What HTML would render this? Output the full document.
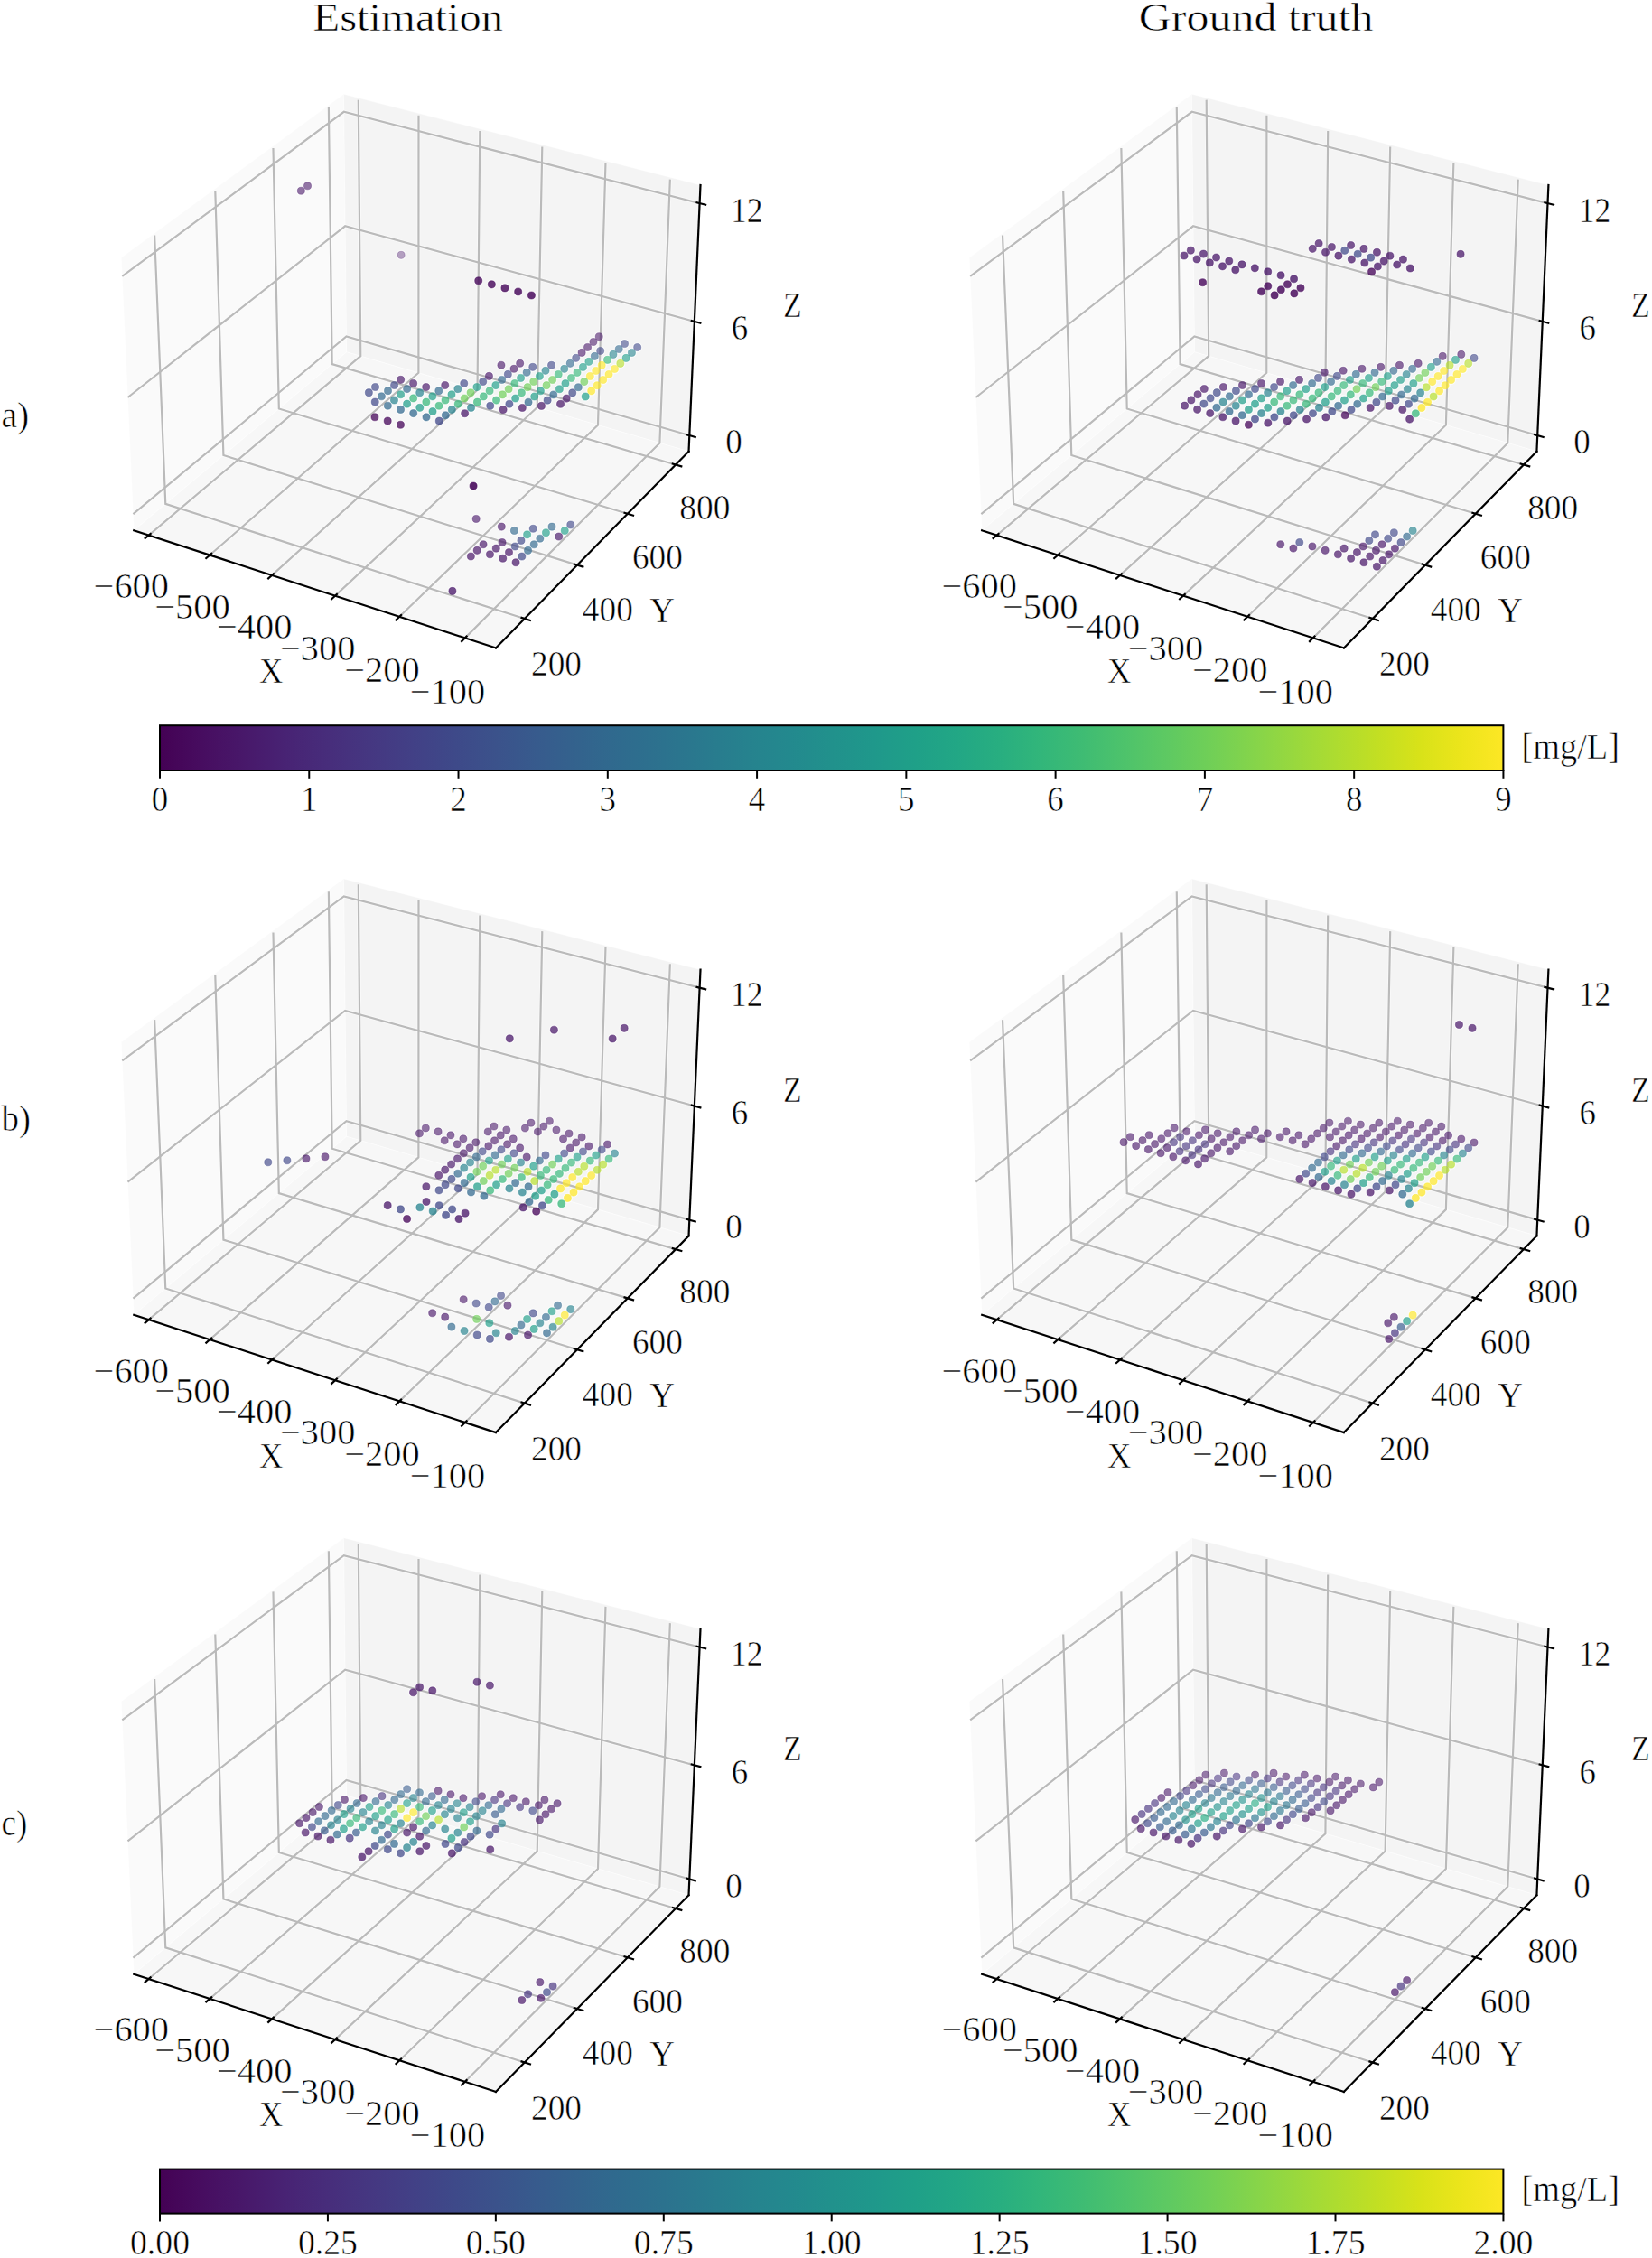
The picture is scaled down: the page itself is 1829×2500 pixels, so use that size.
<!DOCTYPE html>
<html lang="en"><head><meta charset="utf-8"><title>Estimation vs Ground truth</title><style>html,body{margin:0;padding:0;background:#fff}svg{display:block}</style></head><body>
<svg width="1829" height="2500" viewBox="0 0 1829 2500" font-family='"Liberation Serif", "DejaVu Serif", serif' fill="#000">
<defs><linearGradient id="vir" x1="0" x2="1" y1="0" y2="0"><stop offset="0.0000" stop-color="#440154"/><stop offset="0.0312" stop-color="#470d60"/><stop offset="0.0625" stop-color="#48186a"/><stop offset="0.0938" stop-color="#482374"/><stop offset="0.1250" stop-color="#472d7b"/><stop offset="0.1562" stop-color="#453781"/><stop offset="0.1875" stop-color="#424086"/><stop offset="0.2188" stop-color="#3e4989"/><stop offset="0.2500" stop-color="#3b528b"/><stop offset="0.2812" stop-color="#375b8d"/><stop offset="0.3125" stop-color="#33638d"/><stop offset="0.3438" stop-color="#2f6b8e"/><stop offset="0.3750" stop-color="#2c728e"/><stop offset="0.4062" stop-color="#297a8e"/><stop offset="0.4375" stop-color="#26828e"/><stop offset="0.4688" stop-color="#23898e"/><stop offset="0.5000" stop-color="#21918c"/><stop offset="0.5312" stop-color="#1f988b"/><stop offset="0.5625" stop-color="#1fa088"/><stop offset="0.5938" stop-color="#22a785"/><stop offset="0.6250" stop-color="#28ae80"/><stop offset="0.6562" stop-color="#32b67a"/><stop offset="0.6875" stop-color="#3fbc73"/><stop offset="0.7188" stop-color="#4ec36b"/><stop offset="0.7500" stop-color="#5ec962"/><stop offset="0.7812" stop-color="#70cf57"/><stop offset="0.8125" stop-color="#84d44b"/><stop offset="0.8438" stop-color="#98d83e"/><stop offset="0.8750" stop-color="#addc30"/><stop offset="0.9062" stop-color="#c2df23"/><stop offset="0.9375" stop-color="#d8e219"/><stop offset="0.9688" stop-color="#ece51b"/><stop offset="1.0000" stop-color="#fde725"/></linearGradient></defs>
<rect width="1829" height="2500" fill="#fff"/>
<text x="451.8" y="34" font-size="43.5" text-anchor="middle" textLength="210.6" lengthAdjust="spacingAndGlyphs" stroke="#fff" stroke-width="0.55" >Estimation</text>
<text x="1390.6" y="34" font-size="43.5" text-anchor="middle" textLength="259.8" lengthAdjust="spacingAndGlyphs" stroke="#fff" stroke-width="0.55" >Ground truth</text>
<text x="1.5" y="473.3" font-size="39.9" text-anchor="start" textLength="30.8" lengthAdjust="spacingAndGlyphs" stroke="#fff" stroke-width="0.55" >a)</text>
<text x="1.5" y="1252.4" font-size="39.9" text-anchor="start" textLength="32.5" lengthAdjust="spacingAndGlyphs" stroke="#fff" stroke-width="0.55" >b)</text>
<text x="1.5" y="2031.5" font-size="39.9" text-anchor="start" textLength="28.8" lengthAdjust="spacingAndGlyphs" stroke="#fff" stroke-width="0.55" >c)</text>
<g>
<polygon points="148.28,587.23 383.69,389.68 380.53,104.32 134.34,285.23" fill="#fafafa" stroke="#fff" stroke-opacity="0.4" stroke-width="1.1" stroke-linejoin="round"/>
<polygon points="383.69,389.68 762.53,499.76 775.5,204.97 380.53,104.32" fill="#f4f4f4" stroke="#fff" stroke-opacity="0.4" stroke-width="1.1" stroke-linejoin="round"/>
<polygon points="148.28,587.23 548.95,717.46 762.53,499.76 383.69,389.68" fill="#f7f7f7" stroke="#fff" stroke-opacity="0.4" stroke-width="1.1" stroke-linejoin="round"/>
<g fill="#fff" fill-opacity="0.6"><circle cx="408.36" cy="434.67" r="5.6"/><circle cx="415.5" cy="428.51" r="5.6"/><circle cx="415.24" cy="445.03" r="5.6"/><circle cx="422.4" cy="438.82" r="5.6"/><circle cx="429.51" cy="432.63" r="5.6"/><circle cx="436.59" cy="426.48" r="5.6"/><circle cx="443.63" cy="420.36" r="5.6"/><circle cx="429.35" cy="449.21" r="5.6"/><circle cx="436.48" cy="442.97" r="5.6"/><circle cx="443.57" cy="436.77" r="5.6"/><circle cx="450.62" cy="430.6" r="5.6"/><circle cx="457.64" cy="424.45" r="5.6"/><circle cx="443.51" cy="453.41" r="5.6"/><circle cx="450.61" cy="447.15" r="5.6"/><circle cx="457.68" cy="440.92" r="5.6"/><circle cx="464.71" cy="434.73" r="5.6"/><circle cx="471.7" cy="428.56" r="5.6"/><circle cx="457.72" cy="457.62" r="5.6"/><circle cx="464.79" cy="451.34" r="5.6"/><circle cx="471.84" cy="445.09" r="5.6"/><circle cx="478.84" cy="438.87" r="5.6"/><circle cx="485.81" cy="432.69" r="5.6"/><circle cx="492.74" cy="426.53" r="5.6"/><circle cx="471.98" cy="461.85" r="5.6"/><circle cx="479.03" cy="455.54" r="5.6"/><circle cx="486.04" cy="449.27" r="5.6"/><circle cx="493.02" cy="443.03" r="5.6"/><circle cx="499.96" cy="436.82" r="5.6"/><circle cx="506.87" cy="430.65" r="5.6"/><circle cx="513.74" cy="424.51" r="5.6"/><circle cx="486.28" cy="466.09" r="5.6"/><circle cx="493.31" cy="459.76" r="5.6"/><circle cx="500.3" cy="453.46" r="5.6"/><circle cx="507.25" cy="447.2" r="5.6"/><circle cx="514.17" cy="440.98" r="5.6"/><circle cx="521.05" cy="434.78" r="5.6"/><circle cx="527.9" cy="428.62" r="5.6"/><circle cx="534.7" cy="422.49" r="5.6"/><circle cx="541.48" cy="416.39" r="5.6"/><circle cx="554.92" cy="404.28" r="5.6"/><circle cx="514.61" cy="457.68" r="5.6"/><circle cx="521.54" cy="451.39" r="5.6"/><circle cx="528.43" cy="445.14" r="5.6"/><circle cx="535.28" cy="438.92" r="5.6"/><circle cx="542.1" cy="432.74" r="5.6"/><circle cx="548.89" cy="426.59" r="5.6"/><circle cx="555.63" cy="420.47" r="5.6"/><circle cx="562.35" cy="414.38" r="5.6"/><circle cx="569.03" cy="408.32" r="5.6"/><circle cx="575.67" cy="402.3" r="5.6"/><circle cx="414.98" cy="461.79" r="5.6"/><circle cx="429.19" cy="466.03" r="5.6"/><circle cx="443.45" cy="470.29" r="5.6"/><circle cx="542.74" cy="449.32" r="5.6"/><circle cx="549.57" cy="443.08" r="5.6"/><circle cx="556.36" cy="436.88" r="5.6"/><circle cx="563.12" cy="430.7" r="5.6"/><circle cx="569.84" cy="424.56" r="5.6"/><circle cx="576.53" cy="418.45" r="5.6"/><circle cx="583.18" cy="412.37" r="5.6"/><circle cx="589.8" cy="406.33" r="5.6"/><circle cx="557.09" cy="453.52" r="5.6"/><circle cx="563.9" cy="447.26" r="5.6"/><circle cx="570.67" cy="441.03" r="5.6"/><circle cx="577.4" cy="434.83" r="5.6"/><circle cx="584.1" cy="428.67" r="5.6"/><circle cx="590.76" cy="422.54" r="5.6"/><circle cx="597.39" cy="416.44" r="5.6"/><circle cx="603.98" cy="410.37" r="5.6"/><circle cx="610.54" cy="404.34" r="5.6"/><circle cx="578.28" cy="451.45" r="5.6"/><circle cx="585.02" cy="445.2" r="5.6"/><circle cx="591.73" cy="438.98" r="5.6"/><circle cx="598.4" cy="432.79" r="5.6"/><circle cx="605.04" cy="426.64" r="5.6"/><circle cx="611.64" cy="420.52" r="5.6"/><circle cx="618.21" cy="414.43" r="5.6"/><circle cx="624.74" cy="408.37" r="5.6"/><circle cx="631.24" cy="402.35" r="5.6"/><circle cx="637.71" cy="396.35" r="5.6"/><circle cx="644.14" cy="390.39" r="5.6"/><circle cx="650.54" cy="384.46" r="5.6"/><circle cx="656.91" cy="378.55" r="5.6"/><circle cx="663.24" cy="372.68" r="5.6"/><circle cx="599.43" cy="449.38" r="5.6"/><circle cx="606.11" cy="443.14" r="5.6"/><circle cx="612.76" cy="436.93" r="5.6"/><circle cx="619.37" cy="430.76" r="5.6"/><circle cx="625.94" cy="424.62" r="5.6"/><circle cx="632.49" cy="418.51" r="5.6"/><circle cx="638.99" cy="412.43" r="5.6"/><circle cx="645.47" cy="406.38" r="5.6"/><circle cx="651.91" cy="400.36" r="5.6"/><circle cx="658.32" cy="394.38" r="5.6"/><circle cx="664.69" cy="388.43" r="5.6"/><circle cx="620.55" cy="447.31" r="5.6"/><circle cx="627.16" cy="441.08" r="5.6"/><circle cx="633.75" cy="434.89" r="5.6"/><circle cx="640.3" cy="428.72" r="5.6"/><circle cx="646.81" cy="422.59" r="5.6"/><circle cx="653.3" cy="416.49" r="5.6"/><circle cx="659.75" cy="410.43" r="5.6"/><circle cx="666.16" cy="404.39" r="5.6"/><circle cx="672.54" cy="398.38" r="5.6"/><circle cx="678.89" cy="392.41" r="5.6"/><circle cx="685.21" cy="386.47" r="5.6"/><circle cx="691.49" cy="380.55" r="5.6"/><circle cx="648.18" cy="439.03" r="5.6"/><circle cx="654.7" cy="432.85" r="5.6"/><circle cx="661.19" cy="426.69" r="5.6"/><circle cx="667.65" cy="420.57" r="5.6"/><circle cx="674.07" cy="414.48" r="5.6"/><circle cx="680.46" cy="408.43" r="5.6"/><circle cx="686.82" cy="402.4" r="5.6"/><circle cx="693.14" cy="396.41" r="5.6"/><circle cx="699.43" cy="390.44" r="5.6"/><circle cx="705.69" cy="384.51" r="5.6"/><circle cx="333.35" cy="211.26" r="5.6"/><circle cx="340.53" cy="205.8" r="5.6"/><circle cx="444.12" cy="282.34" r="5.6"/><circle cx="529.74" cy="310.82" r="5.6"/><circle cx="544.33" cy="314.84" r="5.6"/><circle cx="558.97" cy="318.88" r="5.6"/><circle cx="573.67" cy="322.93" r="5.6"/><circle cx="588.41" cy="326.99" r="5.6"/><circle cx="524.07" cy="538.09" r="5.6"/><circle cx="527.16" cy="574.44" r="5.6"/><circle cx="555.29" cy="583.11" r="5.6"/><circle cx="569.42" cy="587.46" r="5.6"/><circle cx="590.24" cy="585.31" r="5.6"/><circle cx="583.61" cy="591.84" r="5.6"/><circle cx="611.02" cy="583.16" r="5.6"/><circle cx="604.45" cy="589.68" r="5.6"/><circle cx="631.76" cy="581.02" r="5.6"/><circle cx="625.25" cy="587.52" r="5.6"/><circle cx="618.71" cy="594.06" r="5.6"/><circle cx="576.94" cy="598.39" r="5.6"/><circle cx="597.84" cy="596.22" r="5.6"/><circle cx="591.2" cy="602.81" r="5.6"/><circle cx="556.01" cy="600.57" r="5.6"/><circle cx="570.24" cy="604.99" r="5.6"/><circle cx="584.53" cy="609.42" r="5.6"/><circle cx="535.04" cy="602.75" r="5.6"/><circle cx="549.25" cy="607.17" r="5.6"/><circle cx="563.51" cy="611.61" r="5.6"/><circle cx="577.82" cy="616.07" r="5.6"/><circle cx="528.21" cy="609.36" r="5.6"/><circle cx="542.45" cy="613.81" r="5.6"/><circle cx="556.74" cy="618.28" r="5.6"/><circle cx="571.07" cy="622.76" r="5.6"/><circle cx="521.36" cy="616.01" r="5.6"/><circle cx="500.91" cy="654.39" r="5.6"/></g>
<g stroke-opacity="0.5">
<polyline points="164.72,592.57 399.29,394.21 396.78,110.62" fill="none" stroke="#fff" stroke-width="4.0" />
<polyline points="232.3,614.54 463.38,412.83 463.49,127.64" fill="none" stroke="#fff" stroke-width="4.0" />
<polyline points="301.07,636.89 528.51,431.76 531.32,144.94" fill="none" stroke="#fff" stroke-width="4.0" />
<polyline points="371.06,659.64 594.71,450.99 600.3,162.54" fill="none" stroke="#fff" stroke-width="4.0" />
<polyline points="442.3,682.8 661.99,470.55 670.47,180.44" fill="none" stroke="#fff" stroke-width="4.0" />
<polyline points="514.84,706.37 730.39,490.42 741.85,198.65" fill="none" stroke="#fff" stroke-width="4.0" />
<polyline points="580.8,685 183.26,557.88 171.12,260.54" fill="none" stroke="#fff" stroke-width="4.0" />
<polyline points="639.09,625.58 247.4,504.05 238.28,211.14" fill="none" stroke="#fff" stroke-width="4.0" />
<polyline points="694.79,568.81 308.82,452.51 302.46,163.92" fill="none" stroke="#fff" stroke-width="4.0" />
<polyline points="748.06,514.51 367.68,403.11 363.87,118.75" fill="none" stroke="#fff" stroke-width="4.0" />
<polyline points="147.45,569.11 383.5,372.5 763.31,482.05" fill="none" stroke="#fff" stroke-width="4.0" />
<polyline points="141.48,440 382.15,250.31 768.86,355.93" fill="none" stroke="#fff" stroke-width="4.0" />
<polyline points="135.29,305.87 380.75,123.76 774.62,225.09" fill="none" stroke="#fff" stroke-width="4.0" />
</g>
<polyline points="164.72,592.57 399.29,394.21 396.78,110.62" fill="none" stroke="#bababa" stroke-width="2.2" />
<polyline points="232.3,614.54 463.38,412.83 463.49,127.64" fill="none" stroke="#bababa" stroke-width="2.2" />
<polyline points="301.07,636.89 528.51,431.76 531.32,144.94" fill="none" stroke="#bababa" stroke-width="2.2" />
<polyline points="371.06,659.64 594.71,450.99 600.3,162.54" fill="none" stroke="#bababa" stroke-width="2.2" />
<polyline points="442.3,682.8 661.99,470.55 670.47,180.44" fill="none" stroke="#bababa" stroke-width="2.2" />
<polyline points="514.84,706.37 730.39,490.42 741.85,198.65" fill="none" stroke="#bababa" stroke-width="2.2" />
<polyline points="580.8,685 183.26,557.88 171.12,260.54" fill="none" stroke="#bababa" stroke-width="2.2" />
<polyline points="639.09,625.58 247.4,504.05 238.28,211.14" fill="none" stroke="#bababa" stroke-width="2.2" />
<polyline points="694.79,568.81 308.82,452.51 302.46,163.92" fill="none" stroke="#bababa" stroke-width="2.2" />
<polyline points="748.06,514.51 367.68,403.11 363.87,118.75" fill="none" stroke="#bababa" stroke-width="2.2" />
<polyline points="147.45,569.11 383.5,372.5 763.31,482.05" fill="none" stroke="#bababa" stroke-width="2.2" />
<polyline points="141.48,440 382.15,250.31 768.86,355.93" fill="none" stroke="#bababa" stroke-width="2.2" />
<polyline points="135.29,305.87 380.75,123.76 774.62,225.09" fill="none" stroke="#bababa" stroke-width="2.2" />
<polyline points="148.28,587.23 548.95,717.46" fill="none" stroke="#000" stroke-width="2.2" stroke-linecap="square"/>
<polyline points="548.95,717.46 762.53,499.76" fill="none" stroke="#000" stroke-width="2.2" stroke-linecap="square"/>
<polyline points="762.53,499.76 775.5,204.97" fill="none" stroke="#000" stroke-width="2.2" stroke-linecap="square"/>
<polyline points="159.83,596.71 167.47,590.25" fill="none" stroke="#000" stroke-width="2.2" />
<text x="145.32" y="661.97" font-size="39" text-anchor="middle" textLength="83.5" lengthAdjust="spacingAndGlyphs" stroke="#fff" stroke-width="0.55" >−600</text>
<polyline points="227.48,618.75 235.01,612.17" fill="none" stroke="#000" stroke-width="2.2" />
<text x="212.9" y="684.52" font-size="39" text-anchor="middle" textLength="83.5" lengthAdjust="spacingAndGlyphs" stroke="#fff" stroke-width="0.55" >−500</text>
<polyline points="296.31,641.18 303.74,634.48" fill="none" stroke="#000" stroke-width="2.2" />
<text x="281.67" y="707.45" font-size="39" text-anchor="middle" textLength="83.5" lengthAdjust="spacingAndGlyphs" stroke="#fff" stroke-width="0.55" >−400</text>
<polyline points="366.38,664.01 373.69,657.18" fill="none" stroke="#000" stroke-width="2.2" />
<text x="351.66" y="730.78" font-size="39" text-anchor="middle" textLength="83.5" lengthAdjust="spacingAndGlyphs" stroke="#fff" stroke-width="0.55" >−300</text>
<polyline points="437.7,687.24 444.89,680.29" fill="none" stroke="#000" stroke-width="2.2" />
<text x="422.9" y="754.52" font-size="39" text-anchor="middle" textLength="83.5" lengthAdjust="spacingAndGlyphs" stroke="#fff" stroke-width="0.55" >−200</text>
<polyline points="510.32,710.9 517.38,703.82" fill="none" stroke="#000" stroke-width="2.2" />
<text x="495.44" y="778.67" font-size="39" text-anchor="middle" textLength="83.5" lengthAdjust="spacingAndGlyphs" stroke="#fff" stroke-width="0.55" >−100</text>
<polyline points="588.03,687.32 576.51,683.63" fill="none" stroke="#000" stroke-width="2.2" />
<text x="616" y="748.4" font-size="39" text-anchor="middle" textLength="56" lengthAdjust="spacingAndGlyphs" stroke="#fff" stroke-width="0.55" >200</text>
<polyline points="646.35,627.83 634.79,624.25" fill="none" stroke="#000" stroke-width="2.2" />
<text x="672.85" y="687.9" font-size="39" text-anchor="middle" textLength="56" lengthAdjust="spacingAndGlyphs" stroke="#fff" stroke-width="0.55" >400</text>
<polyline points="702.06,571 690.48,567.51" fill="none" stroke="#000" stroke-width="2.2" />
<text x="727.95" y="630.25" font-size="39" text-anchor="middle" textLength="56" lengthAdjust="spacingAndGlyphs" stroke="#fff" stroke-width="0.55" >600</text>
<polyline points="755.35,516.65 743.74,513.25" fill="none" stroke="#000" stroke-width="2.2" />
<text x="780.3" y="574.85" font-size="39" text-anchor="middle" textLength="56" lengthAdjust="spacingAndGlyphs" stroke="#fff" stroke-width="0.55" >800</text>
<polyline points="770.8,484.21 759.18,480.86" fill="none" stroke="#000" stroke-width="2.2" />
<text x="812.5" y="502.2" font-size="39" text-anchor="middle" textLength="18.5" lengthAdjust="spacingAndGlyphs" stroke="#fff" stroke-width="0.55" >0</text>
<polyline points="776.38,357.98 764.71,354.8" fill="none" stroke="#000" stroke-width="2.2" />
<text x="818.9" y="376.4" font-size="39" text-anchor="middle" textLength="18.5" lengthAdjust="spacingAndGlyphs" stroke="#fff" stroke-width="0.55" >6</text>
<polyline points="782.17,227.04 770.45,224.02" fill="none" stroke="#000" stroke-width="2.2" />
<text x="826.7" y="245.8" font-size="39" text-anchor="middle" textLength="35.5" lengthAdjust="spacingAndGlyphs" stroke="#fff" stroke-width="0.55" >12</text>
<text x="300.2" y="755.9" font-size="39" text-anchor="middle" textLength="26.4" lengthAdjust="spacingAndGlyphs" stroke="#fff" stroke-width="0.55" >X</text>
<text x="733.2" y="689" font-size="39" text-anchor="middle" textLength="27.7" lengthAdjust="spacingAndGlyphs" stroke="#fff" stroke-width="0.55" >Y</text>
<text x="877.4" y="350.9" font-size="39" text-anchor="middle" textLength="20.3" lengthAdjust="spacingAndGlyphs" stroke="#fff" stroke-width="0.55" >Z</text>
<circle cx="444.12" cy="282.34" r="4.05" fill="#481668" fill-opacity="0.4" stroke="#481668" stroke-opacity="0.24" stroke-width="1"/>
<circle cx="663.24" cy="372.68" r="4.05" fill="#481668" fill-opacity="0.58" stroke="#481668" stroke-opacity="0.35" stroke-width="1"/>
<circle cx="340.53" cy="205.8" r="4.05" fill="#481668" fill-opacity="0.59" stroke="#481668" stroke-opacity="0.35" stroke-width="1"/>
<circle cx="656.91" cy="378.55" r="4.05" fill="#481668" fill-opacity="0.59" stroke="#481668" stroke-opacity="0.35" stroke-width="1"/>
<circle cx="691.49" cy="380.55" r="4.05" fill="#3f4788" fill-opacity="0.59" stroke="#3f4788" stroke-opacity="0.35" stroke-width="1"/>
<circle cx="333.35" cy="211.26" r="4.05" fill="#481668" fill-opacity="0.6" stroke="#481668" stroke-opacity="0.36" stroke-width="1"/>
<circle cx="650.54" cy="384.46" r="4.05" fill="#481668" fill-opacity="0.6" stroke="#481668" stroke-opacity="0.36" stroke-width="1"/>
<circle cx="705.69" cy="384.51" r="4.05" fill="#3f4788" fill-opacity="0.6" stroke="#3f4788" stroke-opacity="0.36" stroke-width="1"/>
<circle cx="685.21" cy="386.47" r="4.05" fill="#31688e" fill-opacity="0.6" stroke="#31688e" stroke-opacity="0.36" stroke-width="1"/>
<circle cx="664.69" cy="388.43" r="4.05" fill="#3f4788" fill-opacity="0.61" stroke="#3f4788" stroke-opacity="0.36" stroke-width="1"/>
<circle cx="644.14" cy="390.39" r="4.05" fill="#481668" fill-opacity="0.61" stroke="#481668" stroke-opacity="0.37" stroke-width="1"/>
<circle cx="699.43" cy="390.44" r="4.05" fill="#26828e" fill-opacity="0.61" stroke="#26828e" stroke-opacity="0.37" stroke-width="1"/>
<circle cx="678.89" cy="392.41" r="4.05" fill="#26828e" fill-opacity="0.61" stroke="#26828e" stroke-opacity="0.37" stroke-width="1"/>
<circle cx="658.32" cy="394.38" r="4.05" fill="#31688e" fill-opacity="0.62" stroke="#31688e" stroke-opacity="0.37" stroke-width="1"/>
<circle cx="637.71" cy="396.35" r="4.05" fill="#3f4788" fill-opacity="0.62" stroke="#3f4788" stroke-opacity="0.37" stroke-width="1"/>
<circle cx="693.14" cy="396.41" r="4.05" fill="#1f9e89" fill-opacity="0.62" stroke="#1f9e89" stroke-opacity="0.37" stroke-width="1"/>
<circle cx="672.54" cy="398.38" r="4.05" fill="#35b779" fill-opacity="0.63" stroke="#35b779" stroke-opacity="0.38" stroke-width="1"/>
<circle cx="651.91" cy="400.36" r="4.05" fill="#1f9e89" fill-opacity="0.63" stroke="#1f9e89" stroke-opacity="0.38" stroke-width="1"/>
<circle cx="527.16" cy="574.44" r="4.05" fill="#481668" fill-opacity="0.63" stroke="#481668" stroke-opacity="0.38" stroke-width="1"/>
<circle cx="575.67" cy="402.3" r="4.05" fill="#481668" fill-opacity="0.63" stroke="#481668" stroke-opacity="0.38" stroke-width="1"/>
<circle cx="631.24" cy="402.35" r="4.05" fill="#31688e" fill-opacity="0.63" stroke="#31688e" stroke-opacity="0.38" stroke-width="1"/>
<circle cx="686.82" cy="402.4" r="4.05" fill="#b5de2b" fill-opacity="0.63" stroke="#b5de2b" stroke-opacity="0.38" stroke-width="1"/>
<circle cx="554.92" cy="404.28" r="4.05" fill="#481668" fill-opacity="0.64" stroke="#481668" stroke-opacity="0.38" stroke-width="1"/>
<circle cx="610.54" cy="404.34" r="4.05" fill="#3f4788" fill-opacity="0.64" stroke="#3f4788" stroke-opacity="0.38" stroke-width="1"/>
<circle cx="666.16" cy="404.39" r="4.05" fill="#fde725" fill-opacity="0.64" stroke="#fde725" stroke-opacity="0.38" stroke-width="1"/>
<circle cx="589.8" cy="406.33" r="4.05" fill="#3f4788" fill-opacity="0.64" stroke="#3f4788" stroke-opacity="0.38" stroke-width="1"/>
<circle cx="645.47" cy="406.38" r="4.05" fill="#1f9e89" fill-opacity="0.64" stroke="#1f9e89" stroke-opacity="0.38" stroke-width="1"/>
<circle cx="631.76" cy="581.02" r="4.05" fill="#3f4788" fill-opacity="0.64" stroke="#3f4788" stroke-opacity="0.39" stroke-width="1"/>
<circle cx="569.03" cy="408.32" r="4.05" fill="#481668" fill-opacity="0.64" stroke="#481668" stroke-opacity="0.39" stroke-width="1"/>
<circle cx="624.74" cy="408.37" r="4.05" fill="#26828e" fill-opacity="0.64" stroke="#26828e" stroke-opacity="0.39" stroke-width="1"/>
<circle cx="680.46" cy="408.43" r="4.05" fill="#fde725" fill-opacity="0.64" stroke="#fde725" stroke-opacity="0.39" stroke-width="1"/>
<circle cx="555.29" cy="583.11" r="4.05" fill="#481668" fill-opacity="0.65" stroke="#481668" stroke-opacity="0.39" stroke-width="1"/>
<circle cx="611.02" cy="583.16" r="4.05" fill="#31688e" fill-opacity="0.65" stroke="#31688e" stroke-opacity="0.39" stroke-width="1"/>
<circle cx="603.98" cy="410.37" r="4.05" fill="#26828e" fill-opacity="0.65" stroke="#26828e" stroke-opacity="0.39" stroke-width="1"/>
<circle cx="659.75" cy="410.43" r="4.05" fill="#fde725" fill-opacity="0.65" stroke="#fde725" stroke-opacity="0.39" stroke-width="1"/>
<circle cx="590.24" cy="585.31" r="4.05" fill="#3f4788" fill-opacity="0.65" stroke="#3f4788" stroke-opacity="0.39" stroke-width="1"/>
<circle cx="583.18" cy="412.37" r="4.05" fill="#31688e" fill-opacity="0.65" stroke="#31688e" stroke-opacity="0.39" stroke-width="1"/>
<circle cx="638.99" cy="412.43" r="4.05" fill="#35b779" fill-opacity="0.65" stroke="#35b779" stroke-opacity="0.39" stroke-width="1"/>
<circle cx="569.42" cy="587.46" r="4.05" fill="#31688e" fill-opacity="0.65" stroke="#31688e" stroke-opacity="0.39" stroke-width="1"/>
<circle cx="625.25" cy="587.52" r="4.05" fill="#1f9e89" fill-opacity="0.65" stroke="#1f9e89" stroke-opacity="0.39" stroke-width="1"/>
<circle cx="562.35" cy="414.38" r="4.05" fill="#3f4788" fill-opacity="0.66" stroke="#3f4788" stroke-opacity="0.39" stroke-width="1"/>
<circle cx="618.21" cy="414.43" r="4.05" fill="#35b779" fill-opacity="0.66" stroke="#35b779" stroke-opacity="0.39" stroke-width="1"/>
<circle cx="674.07" cy="414.48" r="4.05" fill="#fde725" fill-opacity="0.66" stroke="#fde725" stroke-opacity="0.39" stroke-width="1"/>
<circle cx="604.45" cy="589.68" r="4.05" fill="#1f9e89" fill-opacity="0.66" stroke="#1f9e89" stroke-opacity="0.39" stroke-width="1"/>
<circle cx="541.48" cy="416.39" r="4.05" fill="#481668" fill-opacity="0.66" stroke="#481668" stroke-opacity="0.4" stroke-width="1"/>
<circle cx="597.39" cy="416.44" r="4.05" fill="#1f9e89" fill-opacity="0.66" stroke="#1f9e89" stroke-opacity="0.4" stroke-width="1"/>
<circle cx="653.3" cy="416.49" r="4.05" fill="#fde725" fill-opacity="0.66" stroke="#fde725" stroke-opacity="0.4" stroke-width="1"/>
<circle cx="583.61" cy="591.84" r="4.05" fill="#1f9e89" fill-opacity="0.66" stroke="#1f9e89" stroke-opacity="0.4" stroke-width="1"/>
<circle cx="576.53" cy="418.45" r="4.05" fill="#1f9e89" fill-opacity="0.66" stroke="#1f9e89" stroke-opacity="0.4" stroke-width="1"/>
<circle cx="632.49" cy="418.51" r="4.05" fill="#35b779" fill-opacity="0.66" stroke="#35b779" stroke-opacity="0.4" stroke-width="1"/>
<circle cx="618.71" cy="594.06" r="4.05" fill="#481668" fill-opacity="0.67" stroke="#481668" stroke-opacity="0.4" stroke-width="1"/>
<circle cx="443.63" cy="420.36" r="4.05" fill="#481668" fill-opacity="0.67" stroke="#481668" stroke-opacity="0.4" stroke-width="1"/>
<circle cx="555.63" cy="420.47" r="4.05" fill="#31688e" fill-opacity="0.67" stroke="#31688e" stroke-opacity="0.4" stroke-width="1"/>
<circle cx="611.64" cy="420.52" r="4.05" fill="#6ece58" fill-opacity="0.67" stroke="#6ece58" stroke-opacity="0.4" stroke-width="1"/>
<circle cx="667.65" cy="420.57" r="4.05" fill="#fde725" fill-opacity="0.67" stroke="#fde725" stroke-opacity="0.4" stroke-width="1"/>
<circle cx="597.84" cy="596.22" r="4.05" fill="#31688e" fill-opacity="0.67" stroke="#31688e" stroke-opacity="0.4" stroke-width="1"/>
<circle cx="534.7" cy="422.49" r="4.05" fill="#3f4788" fill-opacity="0.67" stroke="#3f4788" stroke-opacity="0.4" stroke-width="1"/>
<circle cx="590.76" cy="422.54" r="4.05" fill="#6ece58" fill-opacity="0.67" stroke="#6ece58" stroke-opacity="0.4" stroke-width="1"/>
<circle cx="646.81" cy="422.59" r="4.05" fill="#6ece58" fill-opacity="0.67" stroke="#6ece58" stroke-opacity="0.4" stroke-width="1"/>
<circle cx="576.94" cy="598.39" r="4.05" fill="#3f4788" fill-opacity="0.67" stroke="#3f4788" stroke-opacity="0.4" stroke-width="1"/>
<circle cx="457.64" cy="424.45" r="4.05" fill="#481668" fill-opacity="0.68" stroke="#481668" stroke-opacity="0.41" stroke-width="1"/>
<circle cx="513.74" cy="424.51" r="4.05" fill="#3f4788" fill-opacity="0.68" stroke="#3f4788" stroke-opacity="0.41" stroke-width="1"/>
<circle cx="569.84" cy="424.56" r="4.05" fill="#35b779" fill-opacity="0.68" stroke="#35b779" stroke-opacity="0.41" stroke-width="1"/>
<circle cx="625.94" cy="424.62" r="4.05" fill="#1f9e89" fill-opacity="0.68" stroke="#1f9e89" stroke-opacity="0.41" stroke-width="1"/>
<circle cx="556.01" cy="600.57" r="4.05" fill="#481668" fill-opacity="0.68" stroke="#481668" stroke-opacity="0.41" stroke-width="1"/>
<circle cx="436.59" cy="426.48" r="4.05" fill="#3f4788" fill-opacity="0.68" stroke="#3f4788" stroke-opacity="0.41" stroke-width="1"/>
<circle cx="492.74" cy="426.53" r="4.05" fill="#481668" fill-opacity="0.68" stroke="#481668" stroke-opacity="0.41" stroke-width="1"/>
<circle cx="548.89" cy="426.59" r="4.05" fill="#1f9e89" fill-opacity="0.68" stroke="#1f9e89" stroke-opacity="0.41" stroke-width="1"/>
<circle cx="605.04" cy="426.64" r="4.05" fill="#6ece58" fill-opacity="0.68" stroke="#6ece58" stroke-opacity="0.41" stroke-width="1"/>
<circle cx="661.19" cy="426.69" r="4.05" fill="#fde725" fill-opacity="0.68" stroke="#fde725" stroke-opacity="0.41" stroke-width="1"/>
<circle cx="535.04" cy="602.75" r="4.05" fill="#481668" fill-opacity="0.68" stroke="#481668" stroke-opacity="0.41" stroke-width="1"/>
<circle cx="591.2" cy="602.81" r="4.05" fill="#31688e" fill-opacity="0.68" stroke="#31688e" stroke-opacity="0.41" stroke-width="1"/>
<circle cx="415.5" cy="428.51" r="4.05" fill="#3f4788" fill-opacity="0.68" stroke="#3f4788" stroke-opacity="0.41" stroke-width="1"/>
<circle cx="471.7" cy="428.56" r="4.05" fill="#481668" fill-opacity="0.68" stroke="#481668" stroke-opacity="0.41" stroke-width="1"/>
<circle cx="527.9" cy="428.62" r="4.05" fill="#1f9e89" fill-opacity="0.68" stroke="#1f9e89" stroke-opacity="0.41" stroke-width="1"/>
<circle cx="584.1" cy="428.67" r="4.05" fill="#6ece58" fill-opacity="0.68" stroke="#6ece58" stroke-opacity="0.41" stroke-width="1"/>
<circle cx="640.3" cy="428.72" r="4.05" fill="#31688e" fill-opacity="0.68" stroke="#31688e" stroke-opacity="0.41" stroke-width="1"/>
<circle cx="570.24" cy="604.99" r="4.05" fill="#3f4788" fill-opacity="0.68" stroke="#3f4788" stroke-opacity="0.41" stroke-width="1"/>
<circle cx="450.62" cy="430.6" r="4.05" fill="#31688e" fill-opacity="0.69" stroke="#31688e" stroke-opacity="0.41" stroke-width="1"/>
<circle cx="506.87" cy="430.65" r="4.05" fill="#26828e" fill-opacity="0.69" stroke="#26828e" stroke-opacity="0.41" stroke-width="1"/>
<circle cx="563.12" cy="430.7" r="4.05" fill="#6ece58" fill-opacity="0.69" stroke="#6ece58" stroke-opacity="0.41" stroke-width="1"/>
<circle cx="619.37" cy="430.76" r="4.05" fill="#1f9e89" fill-opacity="0.69" stroke="#1f9e89" stroke-opacity="0.41" stroke-width="1"/>
<circle cx="549.25" cy="607.17" r="4.05" fill="#481668" fill-opacity="0.69" stroke="#481668" stroke-opacity="0.41" stroke-width="1"/>
<circle cx="429.51" cy="432.63" r="4.05" fill="#31688e" fill-opacity="0.69" stroke="#31688e" stroke-opacity="0.41" stroke-width="1"/>
<circle cx="485.81" cy="432.69" r="4.05" fill="#31688e" fill-opacity="0.69" stroke="#31688e" stroke-opacity="0.41" stroke-width="1"/>
<circle cx="542.1" cy="432.74" r="4.05" fill="#35b779" fill-opacity="0.69" stroke="#35b779" stroke-opacity="0.41" stroke-width="1"/>
<circle cx="598.4" cy="432.79" r="4.05" fill="#1f9e89" fill-opacity="0.69" stroke="#1f9e89" stroke-opacity="0.41" stroke-width="1"/>
<circle cx="654.7" cy="432.85" r="4.05" fill="#fde725" fill-opacity="0.69" stroke="#fde725" stroke-opacity="0.42" stroke-width="1"/>
<circle cx="528.21" cy="609.36" r="4.05" fill="#481668" fill-opacity="0.69" stroke="#481668" stroke-opacity="0.42" stroke-width="1"/>
<circle cx="584.53" cy="609.42" r="4.05" fill="#31688e" fill-opacity="0.69" stroke="#31688e" stroke-opacity="0.42" stroke-width="1"/>
<circle cx="408.36" cy="434.67" r="4.05" fill="#3f4788" fill-opacity="0.7" stroke="#3f4788" stroke-opacity="0.42" stroke-width="1"/>
<circle cx="464.71" cy="434.73" r="4.05" fill="#26828e" fill-opacity="0.7" stroke="#26828e" stroke-opacity="0.42" stroke-width="1"/>
<circle cx="521.05" cy="434.78" r="4.05" fill="#6ece58" fill-opacity="0.7" stroke="#6ece58" stroke-opacity="0.42" stroke-width="1"/>
<circle cx="577.4" cy="434.83" r="4.05" fill="#35b779" fill-opacity="0.7" stroke="#35b779" stroke-opacity="0.42" stroke-width="1"/>
<circle cx="633.75" cy="434.89" r="4.05" fill="#3f4788" fill-opacity="0.7" stroke="#3f4788" stroke-opacity="0.42" stroke-width="1"/>
<circle cx="563.51" cy="611.61" r="4.05" fill="#481668" fill-opacity="0.7" stroke="#481668" stroke-opacity="0.42" stroke-width="1"/>
<circle cx="443.57" cy="436.77" r="4.05" fill="#1f9e89" fill-opacity="0.7" stroke="#1f9e89" stroke-opacity="0.42" stroke-width="1"/>
<circle cx="499.96" cy="436.82" r="4.05" fill="#1f9e89" fill-opacity="0.7" stroke="#1f9e89" stroke-opacity="0.42" stroke-width="1"/>
<circle cx="556.36" cy="436.88" r="4.05" fill="#6ece58" fill-opacity="0.7" stroke="#6ece58" stroke-opacity="0.42" stroke-width="1"/>
<circle cx="612.76" cy="436.93" r="4.05" fill="#31688e" fill-opacity="0.7" stroke="#31688e" stroke-opacity="0.42" stroke-width="1"/>
<circle cx="542.45" cy="613.81" r="4.05" fill="#481668" fill-opacity="0.7" stroke="#481668" stroke-opacity="0.42" stroke-width="1"/>
<circle cx="422.4" cy="438.82" r="4.05" fill="#31688e" fill-opacity="0.7" stroke="#31688e" stroke-opacity="0.42" stroke-width="1"/>
<circle cx="478.84" cy="438.87" r="4.05" fill="#1f9e89" fill-opacity="0.7" stroke="#1f9e89" stroke-opacity="0.42" stroke-width="1"/>
<circle cx="535.28" cy="438.92" r="4.05" fill="#35b779" fill-opacity="0.7" stroke="#35b779" stroke-opacity="0.42" stroke-width="1"/>
<circle cx="591.73" cy="438.98" r="4.05" fill="#1f9e89" fill-opacity="0.7" stroke="#1f9e89" stroke-opacity="0.42" stroke-width="1"/>
<circle cx="648.18" cy="439.03" r="4.05" fill="#1f9e89" fill-opacity="0.7" stroke="#1f9e89" stroke-opacity="0.42" stroke-width="1"/>
<circle cx="521.36" cy="616.01" r="4.05" fill="#481668" fill-opacity="0.7" stroke="#481668" stroke-opacity="0.42" stroke-width="1"/>
<circle cx="577.82" cy="616.07" r="4.05" fill="#3f4788" fill-opacity="0.7" stroke="#3f4788" stroke-opacity="0.42" stroke-width="1"/>
<circle cx="457.68" cy="440.92" r="4.05" fill="#35b779" fill-opacity="0.71" stroke="#35b779" stroke-opacity="0.42" stroke-width="1"/>
<circle cx="514.17" cy="440.98" r="4.05" fill="#6ece58" fill-opacity="0.71" stroke="#6ece58" stroke-opacity="0.42" stroke-width="1"/>
<circle cx="570.67" cy="441.03" r="4.05" fill="#1f9e89" fill-opacity="0.71" stroke="#1f9e89" stroke-opacity="0.42" stroke-width="1"/>
<circle cx="627.16" cy="441.08" r="4.05" fill="#481668" fill-opacity="0.71" stroke="#481668" stroke-opacity="0.42" stroke-width="1"/>
<circle cx="556.74" cy="618.28" r="4.05" fill="#481668" fill-opacity="0.71" stroke="#481668" stroke-opacity="0.43" stroke-width="1"/>
<circle cx="436.48" cy="442.97" r="4.05" fill="#26828e" fill-opacity="0.71" stroke="#26828e" stroke-opacity="0.43" stroke-width="1"/>
<circle cx="493.02" cy="443.03" r="4.05" fill="#35b779" fill-opacity="0.71" stroke="#35b779" stroke-opacity="0.43" stroke-width="1"/>
<circle cx="549.57" cy="443.08" r="4.05" fill="#35b779" fill-opacity="0.71" stroke="#35b779" stroke-opacity="0.43" stroke-width="1"/>
<circle cx="606.11" cy="443.14" r="4.05" fill="#3f4788" fill-opacity="0.71" stroke="#3f4788" stroke-opacity="0.43" stroke-width="1"/>
<circle cx="415.24" cy="445.03" r="4.05" fill="#3f4788" fill-opacity="0.72" stroke="#3f4788" stroke-opacity="0.43" stroke-width="1"/>
<circle cx="471.84" cy="445.09" r="4.05" fill="#35b779" fill-opacity="0.72" stroke="#35b779" stroke-opacity="0.43" stroke-width="1"/>
<circle cx="528.43" cy="445.14" r="4.05" fill="#35b779" fill-opacity="0.72" stroke="#35b779" stroke-opacity="0.43" stroke-width="1"/>
<circle cx="585.02" cy="445.2" r="4.05" fill="#31688e" fill-opacity="0.72" stroke="#31688e" stroke-opacity="0.43" stroke-width="1"/>
<circle cx="571.07" cy="622.76" r="4.05" fill="#481668" fill-opacity="0.72" stroke="#481668" stroke-opacity="0.43" stroke-width="1"/>
<circle cx="450.61" cy="447.15" r="4.05" fill="#1f9e89" fill-opacity="0.72" stroke="#1f9e89" stroke-opacity="0.43" stroke-width="1"/>
<circle cx="507.25" cy="447.2" r="4.05" fill="#35b779" fill-opacity="0.72" stroke="#35b779" stroke-opacity="0.43" stroke-width="1"/>
<circle cx="563.9" cy="447.26" r="4.05" fill="#3f4788" fill-opacity="0.72" stroke="#3f4788" stroke-opacity="0.43" stroke-width="1"/>
<circle cx="620.55" cy="447.31" r="4.05" fill="#481668" fill-opacity="0.72" stroke="#481668" stroke-opacity="0.43" stroke-width="1"/>
<circle cx="429.35" cy="449.21" r="4.05" fill="#31688e" fill-opacity="0.72" stroke="#31688e" stroke-opacity="0.43" stroke-width="1"/>
<circle cx="486.04" cy="449.27" r="4.05" fill="#35b779" fill-opacity="0.72" stroke="#35b779" stroke-opacity="0.43" stroke-width="1"/>
<circle cx="542.74" cy="449.32" r="4.05" fill="#3f4788" fill-opacity="0.72" stroke="#3f4788" stroke-opacity="0.43" stroke-width="1"/>
<circle cx="599.43" cy="449.38" r="4.05" fill="#481668" fill-opacity="0.72" stroke="#481668" stroke-opacity="0.43" stroke-width="1"/>
<circle cx="464.79" cy="451.34" r="4.05" fill="#1f9e89" fill-opacity="0.73" stroke="#1f9e89" stroke-opacity="0.44" stroke-width="1"/>
<circle cx="521.54" cy="451.39" r="4.05" fill="#26828e" fill-opacity="0.73" stroke="#26828e" stroke-opacity="0.44" stroke-width="1"/>
<circle cx="578.28" cy="451.45" r="4.05" fill="#481668" fill-opacity="0.73" stroke="#481668" stroke-opacity="0.44" stroke-width="1"/>
<circle cx="443.51" cy="453.41" r="4.05" fill="#31688e" fill-opacity="0.73" stroke="#31688e" stroke-opacity="0.44" stroke-width="1"/>
<circle cx="500.3" cy="453.46" r="4.05" fill="#26828e" fill-opacity="0.73" stroke="#26828e" stroke-opacity="0.44" stroke-width="1"/>
<circle cx="557.09" cy="453.52" r="4.05" fill="#481668" fill-opacity="0.73" stroke="#481668" stroke-opacity="0.44" stroke-width="1"/>
<circle cx="479.03" cy="455.54" r="4.05" fill="#1f9e89" fill-opacity="0.74" stroke="#1f9e89" stroke-opacity="0.44" stroke-width="1"/>
<circle cx="457.72" cy="457.62" r="4.05" fill="#31688e" fill-opacity="0.74" stroke="#31688e" stroke-opacity="0.44" stroke-width="1"/>
<circle cx="514.61" cy="457.68" r="4.05" fill="#481668" fill-opacity="0.74" stroke="#481668" stroke-opacity="0.44" stroke-width="1"/>
<circle cx="493.31" cy="459.76" r="4.05" fill="#31688e" fill-opacity="0.74" stroke="#31688e" stroke-opacity="0.45" stroke-width="1"/>
<circle cx="414.98" cy="461.79" r="4.05" fill="#46075a" fill-opacity="0.75" stroke="#46075a" stroke-opacity="0.45" stroke-width="1"/>
<circle cx="471.98" cy="461.85" r="4.05" fill="#31688e" fill-opacity="0.75" stroke="#31688e" stroke-opacity="0.45" stroke-width="1"/>
<circle cx="429.19" cy="466.03" r="4.05" fill="#46075a" fill-opacity="0.76" stroke="#46075a" stroke-opacity="0.45" stroke-width="1"/>
<circle cx="486.28" cy="466.09" r="4.05" fill="#3f4788" fill-opacity="0.76" stroke="#3f4788" stroke-opacity="0.45" stroke-width="1"/>
<circle cx="443.45" cy="470.29" r="4.05" fill="#46075a" fill-opacity="0.76" stroke="#46075a" stroke-opacity="0.46" stroke-width="1"/>
<circle cx="500.91" cy="654.39" r="4.05" fill="#481668" fill-opacity="0.77" stroke="#481668" stroke-opacity="0.46" stroke-width="1"/>
<circle cx="529.74" cy="310.82" r="4.05" fill="#46075a" fill-opacity="0.8" stroke="#46075a" stroke-opacity="0.48" stroke-width="1"/>
<circle cx="544.33" cy="314.84" r="4.05" fill="#46075a" fill-opacity="0.81" stroke="#46075a" stroke-opacity="0.49" stroke-width="1"/>
<circle cx="558.97" cy="318.88" r="4.05" fill="#46075a" fill-opacity="0.82" stroke="#46075a" stroke-opacity="0.49" stroke-width="1"/>
<circle cx="573.67" cy="322.93" r="4.05" fill="#46075a" fill-opacity="0.83" stroke="#46075a" stroke-opacity="0.5" stroke-width="1"/>
<circle cx="588.41" cy="326.99" r="4.05" fill="#46075a" fill-opacity="0.84" stroke="#46075a" stroke-opacity="0.5" stroke-width="1"/>
<circle cx="524.07" cy="538.09" r="4.05" fill="#46075a" fill-opacity="0.89" stroke="#46075a" stroke-opacity="0.54" stroke-width="1"/>
</g>
<g>
<polygon points="1087.18,587.23 1322.59,389.68 1319.43,104.32 1073.24,285.23" fill="#fafafa" stroke="#fff" stroke-opacity="0.4" stroke-width="1.1" stroke-linejoin="round"/>
<polygon points="1322.59,389.68 1701.43,499.76 1714.4,204.97 1319.43,104.32" fill="#f4f4f4" stroke="#fff" stroke-opacity="0.4" stroke-width="1.1" stroke-linejoin="round"/>
<polygon points="1087.18,587.23 1487.85,717.46 1701.43,499.76 1322.59,389.68" fill="#f7f7f7" stroke="#fff" stroke-opacity="0.4" stroke-width="1.1" stroke-linejoin="round"/>
<g fill="#fff" fill-opacity="0.6"><circle cx="1311.56" cy="449.16" r="5.6"/><circle cx="1318.84" cy="442.92" r="5.6"/><circle cx="1326.08" cy="436.71" r="5.6"/><circle cx="1333.28" cy="430.54" r="5.6"/><circle cx="1325.62" cy="453.35" r="5.6"/><circle cx="1332.87" cy="447.09" r="5.6"/><circle cx="1340.09" cy="440.87" r="5.6"/><circle cx="1347.26" cy="434.67" r="5.6"/><circle cx="1354.4" cy="428.51" r="5.6"/><circle cx="1339.73" cy="457.56" r="5.6"/><circle cx="1346.96" cy="451.28" r="5.6"/><circle cx="1354.14" cy="445.03" r="5.6"/><circle cx="1361.3" cy="438.82" r="5.6"/><circle cx="1368.41" cy="432.63" r="5.6"/><circle cx="1375.49" cy="426.48" r="5.6"/><circle cx="1353.88" cy="461.79" r="5.6"/><circle cx="1361.09" cy="455.48" r="5.6"/><circle cx="1368.25" cy="449.21" r="5.6"/><circle cx="1375.38" cy="442.97" r="5.6"/><circle cx="1382.47" cy="436.77" r="5.6"/><circle cx="1389.52" cy="430.6" r="5.6"/><circle cx="1396.54" cy="424.45" r="5.6"/><circle cx="1368.09" cy="466.03" r="5.6"/><circle cx="1375.27" cy="459.7" r="5.6"/><circle cx="1382.41" cy="453.41" r="5.6"/><circle cx="1389.51" cy="447.15" r="5.6"/><circle cx="1396.58" cy="440.92" r="5.6"/><circle cx="1403.61" cy="434.73" r="5.6"/><circle cx="1410.6" cy="428.56" r="5.6"/><circle cx="1417.55" cy="422.43" r="5.6"/><circle cx="1382.35" cy="470.29" r="5.6"/><circle cx="1389.5" cy="463.94" r="5.6"/><circle cx="1396.62" cy="457.62" r="5.6"/><circle cx="1403.69" cy="451.34" r="5.6"/><circle cx="1410.74" cy="445.09" r="5.6"/><circle cx="1417.74" cy="438.87" r="5.6"/><circle cx="1424.71" cy="432.69" r="5.6"/><circle cx="1431.64" cy="426.53" r="5.6"/><circle cx="1438.53" cy="420.41" r="5.6"/><circle cx="1403.79" cy="468.18" r="5.6"/><circle cx="1410.88" cy="461.85" r="5.6"/><circle cx="1417.93" cy="455.54" r="5.6"/><circle cx="1424.94" cy="449.27" r="5.6"/><circle cx="1431.92" cy="443.03" r="5.6"/><circle cx="1438.86" cy="436.82" r="5.6"/><circle cx="1445.77" cy="430.65" r="5.6"/><circle cx="1452.64" cy="424.51" r="5.6"/><circle cx="1459.47" cy="418.4" r="5.6"/><circle cx="1466.27" cy="412.32" r="5.6"/><circle cx="1425.18" cy="466.09" r="5.6"/><circle cx="1432.21" cy="459.76" r="5.6"/><circle cx="1439.2" cy="453.46" r="5.6"/><circle cx="1446.15" cy="447.2" r="5.6"/><circle cx="1453.07" cy="440.98" r="5.6"/><circle cx="1459.95" cy="434.78" r="5.6"/><circle cx="1466.8" cy="428.62" r="5.6"/><circle cx="1473.6" cy="422.49" r="5.6"/><circle cx="1480.38" cy="416.39" r="5.6"/><circle cx="1487.12" cy="410.32" r="5.6"/><circle cx="1446.55" cy="463.99" r="5.6"/><circle cx="1453.51" cy="457.68" r="5.6"/><circle cx="1460.44" cy="451.39" r="5.6"/><circle cx="1467.33" cy="445.14" r="5.6"/><circle cx="1474.18" cy="438.92" r="5.6"/><circle cx="1481" cy="432.74" r="5.6"/><circle cx="1487.79" cy="426.59" r="5.6"/><circle cx="1494.53" cy="420.47" r="5.6"/><circle cx="1501.25" cy="414.38" r="5.6"/><circle cx="1507.93" cy="408.32" r="5.6"/><circle cx="1467.87" cy="461.9" r="5.6"/><circle cx="1474.77" cy="455.6" r="5.6"/><circle cx="1481.64" cy="449.32" r="5.6"/><circle cx="1488.47" cy="443.08" r="5.6"/><circle cx="1495.26" cy="436.88" r="5.6"/><circle cx="1502.02" cy="430.7" r="5.6"/><circle cx="1508.74" cy="424.56" r="5.6"/><circle cx="1515.43" cy="418.45" r="5.6"/><circle cx="1522.08" cy="412.37" r="5.6"/><circle cx="1528.7" cy="406.33" r="5.6"/><circle cx="1489.16" cy="459.81" r="5.6"/><circle cx="1495.99" cy="453.52" r="5.6"/><circle cx="1502.8" cy="447.26" r="5.6"/><circle cx="1509.57" cy="441.03" r="5.6"/><circle cx="1516.3" cy="434.83" r="5.6"/><circle cx="1523" cy="428.67" r="5.6"/><circle cx="1529.66" cy="422.54" r="5.6"/><circle cx="1536.29" cy="416.44" r="5.6"/><circle cx="1542.88" cy="410.37" r="5.6"/><circle cx="1549.44" cy="404.34" r="5.6"/><circle cx="1517.18" cy="451.45" r="5.6"/><circle cx="1523.92" cy="445.2" r="5.6"/><circle cx="1530.63" cy="438.98" r="5.6"/><circle cx="1537.3" cy="432.79" r="5.6"/><circle cx="1543.94" cy="426.64" r="5.6"/><circle cx="1550.54" cy="420.52" r="5.6"/><circle cx="1557.11" cy="414.43" r="5.6"/><circle cx="1563.64" cy="408.37" r="5.6"/><circle cx="1570.14" cy="402.35" r="5.6"/><circle cx="1538.33" cy="449.38" r="5.6"/><circle cx="1545.01" cy="443.14" r="5.6"/><circle cx="1551.66" cy="436.93" r="5.6"/><circle cx="1558.27" cy="430.76" r="5.6"/><circle cx="1564.84" cy="424.62" r="5.6"/><circle cx="1571.39" cy="418.51" r="5.6"/><circle cx="1577.89" cy="412.43" r="5.6"/><circle cx="1584.37" cy="406.38" r="5.6"/><circle cx="1590.81" cy="400.36" r="5.6"/><circle cx="1597.22" cy="394.38" r="5.6"/><circle cx="1552.79" cy="453.57" r="5.6"/><circle cx="1559.45" cy="447.31" r="5.6"/><circle cx="1566.06" cy="441.08" r="5.6"/><circle cx="1572.65" cy="434.89" r="5.6"/><circle cx="1579.2" cy="428.72" r="5.6"/><circle cx="1585.71" cy="422.59" r="5.6"/><circle cx="1592.2" cy="416.49" r="5.6"/><circle cx="1598.65" cy="410.43" r="5.6"/><circle cx="1605.06" cy="404.39" r="5.6"/><circle cx="1611.44" cy="398.38" r="5.6"/><circle cx="1617.79" cy="392.41" r="5.6"/><circle cx="1560.64" cy="464.1" r="5.6"/><circle cx="1567.3" cy="457.79" r="5.6"/><circle cx="1573.93" cy="451.5" r="5.6"/><circle cx="1580.52" cy="445.25" r="5.6"/><circle cx="1587.08" cy="439.03" r="5.6"/><circle cx="1593.6" cy="432.85" r="5.6"/><circle cx="1600.09" cy="426.69" r="5.6"/><circle cx="1606.55" cy="420.57" r="5.6"/><circle cx="1612.97" cy="414.48" r="5.6"/><circle cx="1619.36" cy="408.43" r="5.6"/><circle cx="1625.72" cy="402.4" r="5.6"/><circle cx="1632.04" cy="396.41" r="5.6"/><circle cx="1524.36" cy="627.25" r="5.6"/><circle cx="1531.08" cy="620.54" r="5.6"/><circle cx="1537.76" cy="613.87" r="5.6"/><circle cx="1544.41" cy="607.23" r="5.6"/><circle cx="1551.03" cy="600.63" r="5.6"/><circle cx="1557.61" cy="594.06" r="5.6"/><circle cx="1564.15" cy="587.52" r="5.6"/><circle cx="1509.97" cy="622.76" r="5.6"/><circle cx="1516.72" cy="616.07" r="5.6"/><circle cx="1523.43" cy="609.42" r="5.6"/><circle cx="1530.1" cy="602.81" r="5.6"/><circle cx="1536.74" cy="596.22" r="5.6"/><circle cx="1543.35" cy="589.68" r="5.6"/><circle cx="1495.64" cy="618.28" r="5.6"/><circle cx="1502.41" cy="611.61" r="5.6"/><circle cx="1509.14" cy="604.99" r="5.6"/><circle cx="1515.84" cy="598.39" r="5.6"/><circle cx="1522.51" cy="591.84" r="5.6"/><circle cx="1481.35" cy="613.81" r="5.6"/><circle cx="1488.15" cy="607.17" r="5.6"/><circle cx="1467.11" cy="609.36" r="5.6"/><circle cx="1452.93" cy="604.93" r="5.6"/><circle cx="1431.88" cy="607.12" r="5.6"/><circle cx="1438.79" cy="600.51" r="5.6"/><circle cx="1417.77" cy="602.69" r="5.6"/><circle cx="1310.99" cy="283.02" r="5.6"/><circle cx="1318.31" cy="277.19" r="5.6"/><circle cx="1325.12" cy="286.94" r="5.6"/><circle cx="1332.41" cy="281.09" r="5.6"/><circle cx="1339.3" cy="290.88" r="5.6"/><circle cx="1346.56" cy="285" r="5.6"/><circle cx="1353.53" cy="294.83" r="5.6"/><circle cx="1360.77" cy="288.93" r="5.6"/><circle cx="1367.81" cy="298.79" r="5.6"/><circle cx="1375.02" cy="292.88" r="5.6"/><circle cx="1389.32" cy="296.83" r="5.6"/><circle cx="1403.68" cy="300.8" r="5.6"/><circle cx="1418.09" cy="304.79" r="5.6"/><circle cx="1432.55" cy="308.79" r="5.6"/><circle cx="1425.43" cy="314.79" r="5.6"/><circle cx="1439.97" cy="318.82" r="5.6"/><circle cx="1403.77" cy="316.78" r="5.6"/><circle cx="1396.56" cy="322.82" r="5.6"/><circle cx="1418.28" cy="320.82" r="5.6"/><circle cx="1411.09" cy="326.88" r="5.6"/><circle cx="1432.85" cy="324.88" r="5.6"/><circle cx="1331.57" cy="312.7" r="5.6"/><circle cx="1453.21" cy="275.37" r="5.6"/><circle cx="1460.13" cy="269.58" r="5.6"/><circle cx="1467.54" cy="279.27" r="5.6"/><circle cx="1474.43" cy="273.46" r="5.6"/><circle cx="1481.92" cy="283.17" r="5.6"/><circle cx="1488.79" cy="277.34" r="5.6"/><circle cx="1495.61" cy="271.54" r="5.6"/><circle cx="1496.36" cy="287.1" r="5.6"/><circle cx="1503.19" cy="281.24" r="5.6"/><circle cx="1509.99" cy="275.42" r="5.6"/><circle cx="1510.84" cy="291.03" r="5.6"/><circle cx="1517.65" cy="285.16" r="5.6"/><circle cx="1524.43" cy="279.32" r="5.6"/><circle cx="1518.55" cy="300.91" r="5.6"/><circle cx="1525.37" cy="294.98" r="5.6"/><circle cx="1532.16" cy="289.09" r="5.6"/><circle cx="1538.91" cy="283.23" r="5.6"/><circle cx="1546.72" cy="293.03" r="5.6"/><circle cx="1553.44" cy="287.15" r="5.6"/><circle cx="1561.33" cy="296.99" r="5.6"/><circle cx="1617.06" cy="281.35" r="5.6"/></g>
<g stroke-opacity="0.5">
<polyline points="1103.62,592.57 1338.19,394.21 1335.68,110.62" fill="none" stroke="#fff" stroke-width="4.0" />
<polyline points="1171.2,614.54 1402.28,412.83 1402.39,127.64" fill="none" stroke="#fff" stroke-width="4.0" />
<polyline points="1239.97,636.89 1467.41,431.76 1470.22,144.94" fill="none" stroke="#fff" stroke-width="4.0" />
<polyline points="1309.96,659.64 1533.61,450.99 1539.2,162.54" fill="none" stroke="#fff" stroke-width="4.0" />
<polyline points="1381.2,682.8 1600.89,470.55 1609.37,180.44" fill="none" stroke="#fff" stroke-width="4.0" />
<polyline points="1453.74,706.37 1669.29,490.42 1680.75,198.65" fill="none" stroke="#fff" stroke-width="4.0" />
<polyline points="1519.7,685 1122.16,557.88 1110.02,260.54" fill="none" stroke="#fff" stroke-width="4.0" />
<polyline points="1577.99,625.58 1186.3,504.05 1177.18,211.14" fill="none" stroke="#fff" stroke-width="4.0" />
<polyline points="1633.69,568.81 1247.72,452.51 1241.36,163.92" fill="none" stroke="#fff" stroke-width="4.0" />
<polyline points="1686.96,514.51 1306.58,403.11 1302.77,118.75" fill="none" stroke="#fff" stroke-width="4.0" />
<polyline points="1086.35,569.11 1322.4,372.5 1702.21,482.05" fill="none" stroke="#fff" stroke-width="4.0" />
<polyline points="1080.38,440 1321.05,250.31 1707.76,355.93" fill="none" stroke="#fff" stroke-width="4.0" />
<polyline points="1074.19,305.87 1319.65,123.76 1713.52,225.09" fill="none" stroke="#fff" stroke-width="4.0" />
</g>
<polyline points="1103.62,592.57 1338.19,394.21 1335.68,110.62" fill="none" stroke="#bababa" stroke-width="2.2" />
<polyline points="1171.2,614.54 1402.28,412.83 1402.39,127.64" fill="none" stroke="#bababa" stroke-width="2.2" />
<polyline points="1239.97,636.89 1467.41,431.76 1470.22,144.94" fill="none" stroke="#bababa" stroke-width="2.2" />
<polyline points="1309.96,659.64 1533.61,450.99 1539.2,162.54" fill="none" stroke="#bababa" stroke-width="2.2" />
<polyline points="1381.2,682.8 1600.89,470.55 1609.37,180.44" fill="none" stroke="#bababa" stroke-width="2.2" />
<polyline points="1453.74,706.37 1669.29,490.42 1680.75,198.65" fill="none" stroke="#bababa" stroke-width="2.2" />
<polyline points="1519.7,685 1122.16,557.88 1110.02,260.54" fill="none" stroke="#bababa" stroke-width="2.2" />
<polyline points="1577.99,625.58 1186.3,504.05 1177.18,211.14" fill="none" stroke="#bababa" stroke-width="2.2" />
<polyline points="1633.69,568.81 1247.72,452.51 1241.36,163.92" fill="none" stroke="#bababa" stroke-width="2.2" />
<polyline points="1686.96,514.51 1306.58,403.11 1302.77,118.75" fill="none" stroke="#bababa" stroke-width="2.2" />
<polyline points="1086.35,569.11 1322.4,372.5 1702.21,482.05" fill="none" stroke="#bababa" stroke-width="2.2" />
<polyline points="1080.38,440 1321.05,250.31 1707.76,355.93" fill="none" stroke="#bababa" stroke-width="2.2" />
<polyline points="1074.19,305.87 1319.65,123.76 1713.52,225.09" fill="none" stroke="#bababa" stroke-width="2.2" />
<polyline points="1087.18,587.23 1487.85,717.46" fill="none" stroke="#000" stroke-width="2.2" stroke-linecap="square"/>
<polyline points="1487.85,717.46 1701.43,499.76" fill="none" stroke="#000" stroke-width="2.2" stroke-linecap="square"/>
<polyline points="1701.43,499.76 1714.4,204.97" fill="none" stroke="#000" stroke-width="2.2" stroke-linecap="square"/>
<polyline points="1098.73,596.71 1106.37,590.25" fill="none" stroke="#000" stroke-width="2.2" />
<text x="1084.22" y="661.97" font-size="39" text-anchor="middle" textLength="83.5" lengthAdjust="spacingAndGlyphs" stroke="#fff" stroke-width="0.55" >−600</text>
<polyline points="1166.38,618.75 1173.91,612.17" fill="none" stroke="#000" stroke-width="2.2" />
<text x="1151.8" y="684.52" font-size="39" text-anchor="middle" textLength="83.5" lengthAdjust="spacingAndGlyphs" stroke="#fff" stroke-width="0.55" >−500</text>
<polyline points="1235.21,641.18 1242.64,634.48" fill="none" stroke="#000" stroke-width="2.2" />
<text x="1220.57" y="707.45" font-size="39" text-anchor="middle" textLength="83.5" lengthAdjust="spacingAndGlyphs" stroke="#fff" stroke-width="0.55" >−400</text>
<polyline points="1305.28,664.01 1312.59,657.18" fill="none" stroke="#000" stroke-width="2.2" />
<text x="1290.56" y="730.78" font-size="39" text-anchor="middle" textLength="83.5" lengthAdjust="spacingAndGlyphs" stroke="#fff" stroke-width="0.55" >−300</text>
<polyline points="1376.6,687.24 1383.79,680.29" fill="none" stroke="#000" stroke-width="2.2" />
<text x="1361.8" y="754.52" font-size="39" text-anchor="middle" textLength="83.5" lengthAdjust="spacingAndGlyphs" stroke="#fff" stroke-width="0.55" >−200</text>
<polyline points="1449.22,710.9 1456.28,703.82" fill="none" stroke="#000" stroke-width="2.2" />
<text x="1434.34" y="778.67" font-size="39" text-anchor="middle" textLength="83.5" lengthAdjust="spacingAndGlyphs" stroke="#fff" stroke-width="0.55" >−100</text>
<polyline points="1526.93,687.32 1515.41,683.63" fill="none" stroke="#000" stroke-width="2.2" />
<text x="1554.9" y="748.4" font-size="39" text-anchor="middle" textLength="56" lengthAdjust="spacingAndGlyphs" stroke="#fff" stroke-width="0.55" >200</text>
<polyline points="1585.25,627.83 1573.69,624.25" fill="none" stroke="#000" stroke-width="2.2" />
<text x="1611.75" y="687.9" font-size="39" text-anchor="middle" textLength="56" lengthAdjust="spacingAndGlyphs" stroke="#fff" stroke-width="0.55" >400</text>
<polyline points="1640.96,571 1629.38,567.51" fill="none" stroke="#000" stroke-width="2.2" />
<text x="1666.85" y="630.25" font-size="39" text-anchor="middle" textLength="56" lengthAdjust="spacingAndGlyphs" stroke="#fff" stroke-width="0.55" >600</text>
<polyline points="1694.25,516.65 1682.64,513.25" fill="none" stroke="#000" stroke-width="2.2" />
<text x="1719.2" y="574.85" font-size="39" text-anchor="middle" textLength="56" lengthAdjust="spacingAndGlyphs" stroke="#fff" stroke-width="0.55" >800</text>
<polyline points="1709.7,484.21 1698.08,480.86" fill="none" stroke="#000" stroke-width="2.2" />
<text x="1751.4" y="502.2" font-size="39" text-anchor="middle" textLength="18.5" lengthAdjust="spacingAndGlyphs" stroke="#fff" stroke-width="0.55" >0</text>
<polyline points="1715.28,357.98 1703.61,354.8" fill="none" stroke="#000" stroke-width="2.2" />
<text x="1757.8" y="376.4" font-size="39" text-anchor="middle" textLength="18.5" lengthAdjust="spacingAndGlyphs" stroke="#fff" stroke-width="0.55" >6</text>
<polyline points="1721.07,227.04 1709.35,224.02" fill="none" stroke="#000" stroke-width="2.2" />
<text x="1765.6" y="245.8" font-size="39" text-anchor="middle" textLength="35.5" lengthAdjust="spacingAndGlyphs" stroke="#fff" stroke-width="0.55" >12</text>
<text x="1239.1" y="755.9" font-size="39" text-anchor="middle" textLength="26.4" lengthAdjust="spacingAndGlyphs" stroke="#fff" stroke-width="0.55" >X</text>
<text x="1672.1" y="689" font-size="39" text-anchor="middle" textLength="27.7" lengthAdjust="spacingAndGlyphs" stroke="#fff" stroke-width="0.55" >Y</text>
<text x="1816.3" y="350.9" font-size="39" text-anchor="middle" textLength="20.3" lengthAdjust="spacingAndGlyphs" stroke="#fff" stroke-width="0.55" >Z</text>
<circle cx="1617.79" cy="392.41" r="4.05" fill="#481668" fill-opacity="0.61" stroke="#481668" stroke-opacity="0.37" stroke-width="1"/>
<circle cx="1597.22" cy="394.38" r="4.05" fill="#481668" fill-opacity="0.62" stroke="#481668" stroke-opacity="0.37" stroke-width="1"/>
<circle cx="1632.04" cy="396.41" r="4.05" fill="#3f4788" fill-opacity="0.62" stroke="#3f4788" stroke-opacity="0.37" stroke-width="1"/>
<circle cx="1611.44" cy="398.38" r="4.05" fill="#1f9e89" fill-opacity="0.63" stroke="#1f9e89" stroke-opacity="0.38" stroke-width="1"/>
<circle cx="1590.81" cy="400.36" r="4.05" fill="#31688e" fill-opacity="0.63" stroke="#31688e" stroke-opacity="0.38" stroke-width="1"/>
<circle cx="1570.14" cy="402.35" r="4.05" fill="#481668" fill-opacity="0.63" stroke="#481668" stroke-opacity="0.38" stroke-width="1"/>
<circle cx="1625.72" cy="402.4" r="4.05" fill="#b5de2b" fill-opacity="0.63" stroke="#b5de2b" stroke-opacity="0.38" stroke-width="1"/>
<circle cx="1549.44" cy="404.34" r="4.05" fill="#481668" fill-opacity="0.64" stroke="#481668" stroke-opacity="0.38" stroke-width="1"/>
<circle cx="1605.06" cy="404.39" r="4.05" fill="#b5de2b" fill-opacity="0.64" stroke="#b5de2b" stroke-opacity="0.38" stroke-width="1"/>
<circle cx="1528.7" cy="406.33" r="4.05" fill="#481668" fill-opacity="0.64" stroke="#481668" stroke-opacity="0.38" stroke-width="1"/>
<circle cx="1584.37" cy="406.38" r="4.05" fill="#1f9e89" fill-opacity="0.64" stroke="#1f9e89" stroke-opacity="0.38" stroke-width="1"/>
<circle cx="1507.93" cy="408.32" r="4.05" fill="#481668" fill-opacity="0.64" stroke="#481668" stroke-opacity="0.39" stroke-width="1"/>
<circle cx="1563.64" cy="408.37" r="4.05" fill="#31688e" fill-opacity="0.64" stroke="#31688e" stroke-opacity="0.39" stroke-width="1"/>
<circle cx="1619.36" cy="408.43" r="4.05" fill="#fde725" fill-opacity="0.64" stroke="#fde725" stroke-opacity="0.39" stroke-width="1"/>
<circle cx="1487.12" cy="410.32" r="4.05" fill="#481668" fill-opacity="0.65" stroke="#481668" stroke-opacity="0.39" stroke-width="1"/>
<circle cx="1542.88" cy="410.37" r="4.05" fill="#31688e" fill-opacity="0.65" stroke="#31688e" stroke-opacity="0.39" stroke-width="1"/>
<circle cx="1598.65" cy="410.43" r="4.05" fill="#fde725" fill-opacity="0.65" stroke="#fde725" stroke-opacity="0.39" stroke-width="1"/>
<circle cx="1466.27" cy="412.32" r="4.05" fill="#481668" fill-opacity="0.65" stroke="#481668" stroke-opacity="0.39" stroke-width="1"/>
<circle cx="1522.08" cy="412.37" r="4.05" fill="#31688e" fill-opacity="0.65" stroke="#31688e" stroke-opacity="0.39" stroke-width="1"/>
<circle cx="1577.89" cy="412.43" r="4.05" fill="#6ece58" fill-opacity="0.65" stroke="#6ece58" stroke-opacity="0.39" stroke-width="1"/>
<circle cx="1564.15" cy="587.52" r="4.05" fill="#26828e" fill-opacity="0.65" stroke="#26828e" stroke-opacity="0.39" stroke-width="1"/>
<circle cx="1501.25" cy="414.38" r="4.05" fill="#31688e" fill-opacity="0.66" stroke="#31688e" stroke-opacity="0.39" stroke-width="1"/>
<circle cx="1557.11" cy="414.43" r="4.05" fill="#26828e" fill-opacity="0.66" stroke="#26828e" stroke-opacity="0.39" stroke-width="1"/>
<circle cx="1612.97" cy="414.48" r="4.05" fill="#fde725" fill-opacity="0.66" stroke="#fde725" stroke-opacity="0.39" stroke-width="1"/>
<circle cx="1543.35" cy="589.68" r="4.05" fill="#3f4788" fill-opacity="0.66" stroke="#3f4788" stroke-opacity="0.39" stroke-width="1"/>
<circle cx="1480.38" cy="416.39" r="4.05" fill="#3f4788" fill-opacity="0.66" stroke="#3f4788" stroke-opacity="0.4" stroke-width="1"/>
<circle cx="1536.29" cy="416.44" r="4.05" fill="#1f9e89" fill-opacity="0.66" stroke="#1f9e89" stroke-opacity="0.4" stroke-width="1"/>
<circle cx="1592.2" cy="416.49" r="4.05" fill="#fde725" fill-opacity="0.66" stroke="#fde725" stroke-opacity="0.4" stroke-width="1"/>
<circle cx="1522.51" cy="591.84" r="4.05" fill="#3f4788" fill-opacity="0.66" stroke="#3f4788" stroke-opacity="0.4" stroke-width="1"/>
<circle cx="1459.47" cy="418.4" r="4.05" fill="#3f4788" fill-opacity="0.66" stroke="#3f4788" stroke-opacity="0.4" stroke-width="1"/>
<circle cx="1515.43" cy="418.45" r="4.05" fill="#1f9e89" fill-opacity="0.66" stroke="#1f9e89" stroke-opacity="0.4" stroke-width="1"/>
<circle cx="1571.39" cy="418.51" r="4.05" fill="#6ece58" fill-opacity="0.66" stroke="#6ece58" stroke-opacity="0.4" stroke-width="1"/>
<circle cx="1557.61" cy="594.06" r="4.05" fill="#31688e" fill-opacity="0.67" stroke="#31688e" stroke-opacity="0.4" stroke-width="1"/>
<circle cx="1438.53" cy="420.41" r="4.05" fill="#481668" fill-opacity="0.67" stroke="#481668" stroke-opacity="0.4" stroke-width="1"/>
<circle cx="1494.53" cy="420.47" r="4.05" fill="#1f9e89" fill-opacity="0.67" stroke="#1f9e89" stroke-opacity="0.4" stroke-width="1"/>
<circle cx="1550.54" cy="420.52" r="4.05" fill="#1f9e89" fill-opacity="0.67" stroke="#1f9e89" stroke-opacity="0.4" stroke-width="1"/>
<circle cx="1606.55" cy="420.57" r="4.05" fill="#fde725" fill-opacity="0.67" stroke="#fde725" stroke-opacity="0.4" stroke-width="1"/>
<circle cx="1536.74" cy="596.22" r="4.05" fill="#3f4788" fill-opacity="0.67" stroke="#3f4788" stroke-opacity="0.4" stroke-width="1"/>
<circle cx="1417.55" cy="422.43" r="4.05" fill="#481668" fill-opacity="0.67" stroke="#481668" stroke-opacity="0.4" stroke-width="1"/>
<circle cx="1473.6" cy="422.49" r="4.05" fill="#31688e" fill-opacity="0.67" stroke="#31688e" stroke-opacity="0.4" stroke-width="1"/>
<circle cx="1529.66" cy="422.54" r="4.05" fill="#35b779" fill-opacity="0.67" stroke="#35b779" stroke-opacity="0.4" stroke-width="1"/>
<circle cx="1585.71" cy="422.59" r="4.05" fill="#fde725" fill-opacity="0.67" stroke="#fde725" stroke-opacity="0.4" stroke-width="1"/>
<circle cx="1515.84" cy="598.39" r="4.05" fill="#3f4788" fill-opacity="0.67" stroke="#3f4788" stroke-opacity="0.4" stroke-width="1"/>
<circle cx="1396.54" cy="424.45" r="4.05" fill="#481668" fill-opacity="0.68" stroke="#481668" stroke-opacity="0.41" stroke-width="1"/>
<circle cx="1452.64" cy="424.51" r="4.05" fill="#31688e" fill-opacity="0.68" stroke="#31688e" stroke-opacity="0.41" stroke-width="1"/>
<circle cx="1508.74" cy="424.56" r="4.05" fill="#35b779" fill-opacity="0.68" stroke="#35b779" stroke-opacity="0.41" stroke-width="1"/>
<circle cx="1564.84" cy="424.62" r="4.05" fill="#1f9e89" fill-opacity="0.68" stroke="#1f9e89" stroke-opacity="0.41" stroke-width="1"/>
<circle cx="1438.79" cy="600.51" r="4.05" fill="#3f4788" fill-opacity="0.68" stroke="#3f4788" stroke-opacity="0.41" stroke-width="1"/>
<circle cx="1551.03" cy="600.63" r="4.05" fill="#3f4788" fill-opacity="0.68" stroke="#3f4788" stroke-opacity="0.41" stroke-width="1"/>
<circle cx="1375.49" cy="426.48" r="4.05" fill="#481668" fill-opacity="0.68" stroke="#481668" stroke-opacity="0.41" stroke-width="1"/>
<circle cx="1431.64" cy="426.53" r="4.05" fill="#31688e" fill-opacity="0.68" stroke="#31688e" stroke-opacity="0.41" stroke-width="1"/>
<circle cx="1487.79" cy="426.59" r="4.05" fill="#35b779" fill-opacity="0.68" stroke="#35b779" stroke-opacity="0.41" stroke-width="1"/>
<circle cx="1543.94" cy="426.64" r="4.05" fill="#1f9e89" fill-opacity="0.68" stroke="#1f9e89" stroke-opacity="0.41" stroke-width="1"/>
<circle cx="1600.09" cy="426.69" r="4.05" fill="#fde725" fill-opacity="0.68" stroke="#fde725" stroke-opacity="0.41" stroke-width="1"/>
<circle cx="1417.77" cy="602.69" r="4.05" fill="#481668" fill-opacity="0.68" stroke="#481668" stroke-opacity="0.41" stroke-width="1"/>
<circle cx="1530.1" cy="602.81" r="4.05" fill="#481668" fill-opacity="0.68" stroke="#481668" stroke-opacity="0.41" stroke-width="1"/>
<circle cx="1354.4" cy="428.51" r="4.05" fill="#481668" fill-opacity="0.68" stroke="#481668" stroke-opacity="0.41" stroke-width="1"/>
<circle cx="1410.6" cy="428.56" r="4.05" fill="#3f4788" fill-opacity="0.68" stroke="#3f4788" stroke-opacity="0.41" stroke-width="1"/>
<circle cx="1466.8" cy="428.62" r="4.05" fill="#1f9e89" fill-opacity="0.68" stroke="#1f9e89" stroke-opacity="0.41" stroke-width="1"/>
<circle cx="1523" cy="428.67" r="4.05" fill="#6ece58" fill-opacity="0.68" stroke="#6ece58" stroke-opacity="0.41" stroke-width="1"/>
<circle cx="1579.2" cy="428.72" r="4.05" fill="#b5de2b" fill-opacity="0.68" stroke="#b5de2b" stroke-opacity="0.41" stroke-width="1"/>
<circle cx="1452.93" cy="604.93" r="4.05" fill="#481668" fill-opacity="0.68" stroke="#481668" stroke-opacity="0.41" stroke-width="1"/>
<circle cx="1509.14" cy="604.99" r="4.05" fill="#481668" fill-opacity="0.68" stroke="#481668" stroke-opacity="0.41" stroke-width="1"/>
<circle cx="1333.28" cy="430.54" r="4.05" fill="#481668" fill-opacity="0.69" stroke="#481668" stroke-opacity="0.41" stroke-width="1"/>
<circle cx="1389.52" cy="430.6" r="4.05" fill="#3f4788" fill-opacity="0.69" stroke="#3f4788" stroke-opacity="0.41" stroke-width="1"/>
<circle cx="1445.77" cy="430.65" r="4.05" fill="#1f9e89" fill-opacity="0.69" stroke="#1f9e89" stroke-opacity="0.41" stroke-width="1"/>
<circle cx="1502.02" cy="430.7" r="4.05" fill="#6ece58" fill-opacity="0.69" stroke="#6ece58" stroke-opacity="0.41" stroke-width="1"/>
<circle cx="1558.27" cy="430.76" r="4.05" fill="#26828e" fill-opacity="0.69" stroke="#26828e" stroke-opacity="0.41" stroke-width="1"/>
<circle cx="1431.88" cy="607.12" r="4.05" fill="#481668" fill-opacity="0.69" stroke="#481668" stroke-opacity="0.41" stroke-width="1"/>
<circle cx="1488.15" cy="607.17" r="4.05" fill="#481668" fill-opacity="0.69" stroke="#481668" stroke-opacity="0.41" stroke-width="1"/>
<circle cx="1544.41" cy="607.23" r="4.05" fill="#481668" fill-opacity="0.69" stroke="#481668" stroke-opacity="0.41" stroke-width="1"/>
<circle cx="1368.41" cy="432.63" r="4.05" fill="#3f4788" fill-opacity="0.69" stroke="#3f4788" stroke-opacity="0.41" stroke-width="1"/>
<circle cx="1424.71" cy="432.69" r="4.05" fill="#1f9e89" fill-opacity="0.69" stroke="#1f9e89" stroke-opacity="0.41" stroke-width="1"/>
<circle cx="1481" cy="432.74" r="4.05" fill="#35b779" fill-opacity="0.69" stroke="#35b779" stroke-opacity="0.41" stroke-width="1"/>
<circle cx="1537.3" cy="432.79" r="4.05" fill="#1f9e89" fill-opacity="0.69" stroke="#1f9e89" stroke-opacity="0.41" stroke-width="1"/>
<circle cx="1593.6" cy="432.85" r="4.05" fill="#fde725" fill-opacity="0.69" stroke="#fde725" stroke-opacity="0.42" stroke-width="1"/>
<circle cx="1467.11" cy="609.36" r="4.05" fill="#481668" fill-opacity="0.69" stroke="#481668" stroke-opacity="0.42" stroke-width="1"/>
<circle cx="1523.43" cy="609.42" r="4.05" fill="#481668" fill-opacity="0.69" stroke="#481668" stroke-opacity="0.42" stroke-width="1"/>
<circle cx="1347.26" cy="434.67" r="4.05" fill="#3f4788" fill-opacity="0.7" stroke="#3f4788" stroke-opacity="0.42" stroke-width="1"/>
<circle cx="1403.61" cy="434.73" r="4.05" fill="#26828e" fill-opacity="0.7" stroke="#26828e" stroke-opacity="0.42" stroke-width="1"/>
<circle cx="1459.95" cy="434.78" r="4.05" fill="#35b779" fill-opacity="0.7" stroke="#35b779" stroke-opacity="0.42" stroke-width="1"/>
<circle cx="1516.3" cy="434.83" r="4.05" fill="#35b779" fill-opacity="0.7" stroke="#35b779" stroke-opacity="0.42" stroke-width="1"/>
<circle cx="1572.65" cy="434.89" r="4.05" fill="#26828e" fill-opacity="0.7" stroke="#26828e" stroke-opacity="0.42" stroke-width="1"/>
<circle cx="1502.41" cy="611.61" r="4.05" fill="#481668" fill-opacity="0.7" stroke="#481668" stroke-opacity="0.42" stroke-width="1"/>
<circle cx="1326.08" cy="436.71" r="4.05" fill="#481668" fill-opacity="0.7" stroke="#481668" stroke-opacity="0.42" stroke-width="1"/>
<circle cx="1382.47" cy="436.77" r="4.05" fill="#31688e" fill-opacity="0.7" stroke="#31688e" stroke-opacity="0.42" stroke-width="1"/>
<circle cx="1438.86" cy="436.82" r="4.05" fill="#35b779" fill-opacity="0.7" stroke="#35b779" stroke-opacity="0.42" stroke-width="1"/>
<circle cx="1495.26" cy="436.88" r="4.05" fill="#35b779" fill-opacity="0.7" stroke="#35b779" stroke-opacity="0.42" stroke-width="1"/>
<circle cx="1551.66" cy="436.93" r="4.05" fill="#31688e" fill-opacity="0.7" stroke="#31688e" stroke-opacity="0.42" stroke-width="1"/>
<circle cx="1481.35" cy="613.81" r="4.05" fill="#481668" fill-opacity="0.7" stroke="#481668" stroke-opacity="0.42" stroke-width="1"/>
<circle cx="1537.76" cy="613.87" r="4.05" fill="#481668" fill-opacity="0.7" stroke="#481668" stroke-opacity="0.42" stroke-width="1"/>
<circle cx="1361.3" cy="438.82" r="4.05" fill="#31688e" fill-opacity="0.7" stroke="#31688e" stroke-opacity="0.42" stroke-width="1"/>
<circle cx="1417.74" cy="438.87" r="4.05" fill="#35b779" fill-opacity="0.7" stroke="#35b779" stroke-opacity="0.42" stroke-width="1"/>
<circle cx="1474.18" cy="438.92" r="4.05" fill="#35b779" fill-opacity="0.7" stroke="#35b779" stroke-opacity="0.42" stroke-width="1"/>
<circle cx="1530.63" cy="438.98" r="4.05" fill="#31688e" fill-opacity="0.7" stroke="#31688e" stroke-opacity="0.42" stroke-width="1"/>
<circle cx="1587.08" cy="439.03" r="4.05" fill="#b5de2b" fill-opacity="0.7" stroke="#b5de2b" stroke-opacity="0.42" stroke-width="1"/>
<circle cx="1516.72" cy="616.07" r="4.05" fill="#481668" fill-opacity="0.7" stroke="#481668" stroke-opacity="0.42" stroke-width="1"/>
<circle cx="1340.09" cy="440.87" r="4.05" fill="#3f4788" fill-opacity="0.71" stroke="#3f4788" stroke-opacity="0.42" stroke-width="1"/>
<circle cx="1396.58" cy="440.92" r="4.05" fill="#1f9e89" fill-opacity="0.71" stroke="#1f9e89" stroke-opacity="0.42" stroke-width="1"/>
<circle cx="1453.07" cy="440.98" r="4.05" fill="#35b779" fill-opacity="0.71" stroke="#35b779" stroke-opacity="0.42" stroke-width="1"/>
<circle cx="1509.57" cy="441.03" r="4.05" fill="#1f9e89" fill-opacity="0.71" stroke="#1f9e89" stroke-opacity="0.42" stroke-width="1"/>
<circle cx="1566.06" cy="441.08" r="4.05" fill="#31688e" fill-opacity="0.71" stroke="#31688e" stroke-opacity="0.42" stroke-width="1"/>
<circle cx="1495.64" cy="618.28" r="4.05" fill="#481668" fill-opacity="0.71" stroke="#481668" stroke-opacity="0.43" stroke-width="1"/>
<circle cx="1318.84" cy="442.92" r="4.05" fill="#481668" fill-opacity="0.71" stroke="#481668" stroke-opacity="0.43" stroke-width="1"/>
<circle cx="1375.38" cy="442.97" r="4.05" fill="#1f9e89" fill-opacity="0.71" stroke="#1f9e89" stroke-opacity="0.43" stroke-width="1"/>
<circle cx="1431.92" cy="443.03" r="4.05" fill="#35b779" fill-opacity="0.71" stroke="#35b779" stroke-opacity="0.43" stroke-width="1"/>
<circle cx="1488.47" cy="443.08" r="4.05" fill="#1f9e89" fill-opacity="0.71" stroke="#1f9e89" stroke-opacity="0.43" stroke-width="1"/>
<circle cx="1545.01" cy="443.14" r="4.05" fill="#3f4788" fill-opacity="0.71" stroke="#3f4788" stroke-opacity="0.43" stroke-width="1"/>
<circle cx="1531.08" cy="620.54" r="4.05" fill="#481668" fill-opacity="0.71" stroke="#481668" stroke-opacity="0.43" stroke-width="1"/>
<circle cx="1354.14" cy="445.03" r="4.05" fill="#26828e" fill-opacity="0.72" stroke="#26828e" stroke-opacity="0.43" stroke-width="1"/>
<circle cx="1410.74" cy="445.09" r="4.05" fill="#35b779" fill-opacity="0.72" stroke="#35b779" stroke-opacity="0.43" stroke-width="1"/>
<circle cx="1467.33" cy="445.14" r="4.05" fill="#1f9e89" fill-opacity="0.72" stroke="#1f9e89" stroke-opacity="0.43" stroke-width="1"/>
<circle cx="1523.92" cy="445.2" r="4.05" fill="#3f4788" fill-opacity="0.72" stroke="#3f4788" stroke-opacity="0.43" stroke-width="1"/>
<circle cx="1580.52" cy="445.25" r="4.05" fill="#fde725" fill-opacity="0.72" stroke="#fde725" stroke-opacity="0.43" stroke-width="1"/>
<circle cx="1509.97" cy="622.76" r="4.05" fill="#481668" fill-opacity="0.72" stroke="#481668" stroke-opacity="0.43" stroke-width="1"/>
<circle cx="1460.13" cy="269.58" r="4.05" fill="#481668" fill-opacity="0.72" stroke="#481668" stroke-opacity="0.43" stroke-width="1"/>
<circle cx="1332.87" cy="447.09" r="4.05" fill="#3f4788" fill-opacity="0.72" stroke="#3f4788" stroke-opacity="0.43" stroke-width="1"/>
<circle cx="1389.51" cy="447.15" r="4.05" fill="#1f9e89" fill-opacity="0.72" stroke="#1f9e89" stroke-opacity="0.43" stroke-width="1"/>
<circle cx="1446.15" cy="447.2" r="4.05" fill="#35b779" fill-opacity="0.72" stroke="#35b779" stroke-opacity="0.43" stroke-width="1"/>
<circle cx="1502.8" cy="447.26" r="4.05" fill="#31688e" fill-opacity="0.72" stroke="#31688e" stroke-opacity="0.43" stroke-width="1"/>
<circle cx="1559.45" cy="447.31" r="4.05" fill="#3f4788" fill-opacity="0.72" stroke="#3f4788" stroke-opacity="0.43" stroke-width="1"/>
<circle cx="1495.61" cy="271.54" r="4.05" fill="#481668" fill-opacity="0.72" stroke="#481668" stroke-opacity="0.43" stroke-width="1"/>
<circle cx="1311.56" cy="449.16" r="4.05" fill="#481668" fill-opacity="0.72" stroke="#481668" stroke-opacity="0.43" stroke-width="1"/>
<circle cx="1368.25" cy="449.21" r="4.05" fill="#26828e" fill-opacity="0.72" stroke="#26828e" stroke-opacity="0.43" stroke-width="1"/>
<circle cx="1424.94" cy="449.27" r="4.05" fill="#35b779" fill-opacity="0.72" stroke="#35b779" stroke-opacity="0.43" stroke-width="1"/>
<circle cx="1481.64" cy="449.32" r="4.05" fill="#31688e" fill-opacity="0.72" stroke="#31688e" stroke-opacity="0.43" stroke-width="1"/>
<circle cx="1538.33" cy="449.38" r="4.05" fill="#481668" fill-opacity="0.72" stroke="#481668" stroke-opacity="0.43" stroke-width="1"/>
<circle cx="1524.36" cy="627.25" r="4.05" fill="#481668" fill-opacity="0.72" stroke="#481668" stroke-opacity="0.43" stroke-width="1"/>
<circle cx="1474.43" cy="273.46" r="4.05" fill="#481668" fill-opacity="0.73" stroke="#481668" stroke-opacity="0.44" stroke-width="1"/>
<circle cx="1346.96" cy="451.28" r="4.05" fill="#31688e" fill-opacity="0.73" stroke="#31688e" stroke-opacity="0.44" stroke-width="1"/>
<circle cx="1403.69" cy="451.34" r="4.05" fill="#1f9e89" fill-opacity="0.73" stroke="#1f9e89" stroke-opacity="0.44" stroke-width="1"/>
<circle cx="1460.44" cy="451.39" r="4.05" fill="#26828e" fill-opacity="0.73" stroke="#26828e" stroke-opacity="0.44" stroke-width="1"/>
<circle cx="1517.18" cy="451.45" r="4.05" fill="#481668" fill-opacity="0.73" stroke="#481668" stroke-opacity="0.44" stroke-width="1"/>
<circle cx="1573.93" cy="451.5" r="4.05" fill="#fde725" fill-opacity="0.73" stroke="#fde725" stroke-opacity="0.44" stroke-width="1"/>
<circle cx="1453.21" cy="275.37" r="4.05" fill="#481668" fill-opacity="0.73" stroke="#481668" stroke-opacity="0.44" stroke-width="1"/>
<circle cx="1509.99" cy="275.42" r="4.05" fill="#481668" fill-opacity="0.73" stroke="#481668" stroke-opacity="0.44" stroke-width="1"/>
<circle cx="1325.62" cy="453.35" r="4.05" fill="#481668" fill-opacity="0.73" stroke="#481668" stroke-opacity="0.44" stroke-width="1"/>
<circle cx="1382.41" cy="453.41" r="4.05" fill="#1f9e89" fill-opacity="0.73" stroke="#1f9e89" stroke-opacity="0.44" stroke-width="1"/>
<circle cx="1439.2" cy="453.46" r="4.05" fill="#26828e" fill-opacity="0.73" stroke="#26828e" stroke-opacity="0.44" stroke-width="1"/>
<circle cx="1495.99" cy="453.52" r="4.05" fill="#3f4788" fill-opacity="0.73" stroke="#3f4788" stroke-opacity="0.44" stroke-width="1"/>
<circle cx="1552.79" cy="453.57" r="4.05" fill="#481668" fill-opacity="0.73" stroke="#481668" stroke-opacity="0.44" stroke-width="1"/>
<circle cx="1318.31" cy="277.19" r="4.05" fill="#481668" fill-opacity="0.73" stroke="#481668" stroke-opacity="0.44" stroke-width="1"/>
<circle cx="1488.79" cy="277.34" r="4.05" fill="#3f4788" fill-opacity="0.73" stroke="#3f4788" stroke-opacity="0.44" stroke-width="1"/>
<circle cx="1361.09" cy="455.48" r="4.05" fill="#31688e" fill-opacity="0.74" stroke="#31688e" stroke-opacity="0.44" stroke-width="1"/>
<circle cx="1417.93" cy="455.54" r="4.05" fill="#26828e" fill-opacity="0.74" stroke="#26828e" stroke-opacity="0.44" stroke-width="1"/>
<circle cx="1474.77" cy="455.6" r="4.05" fill="#3f4788" fill-opacity="0.74" stroke="#3f4788" stroke-opacity="0.44" stroke-width="1"/>
<circle cx="1467.54" cy="279.27" r="4.05" fill="#481668" fill-opacity="0.74" stroke="#481668" stroke-opacity="0.44" stroke-width="1"/>
<circle cx="1524.43" cy="279.32" r="4.05" fill="#481668" fill-opacity="0.74" stroke="#481668" stroke-opacity="0.44" stroke-width="1"/>
<circle cx="1339.73" cy="457.56" r="4.05" fill="#481668" fill-opacity="0.74" stroke="#481668" stroke-opacity="0.44" stroke-width="1"/>
<circle cx="1396.62" cy="457.62" r="4.05" fill="#26828e" fill-opacity="0.74" stroke="#26828e" stroke-opacity="0.44" stroke-width="1"/>
<circle cx="1453.51" cy="457.68" r="4.05" fill="#3f4788" fill-opacity="0.74" stroke="#3f4788" stroke-opacity="0.44" stroke-width="1"/>
<circle cx="1567.3" cy="457.79" r="4.05" fill="#35b779" fill-opacity="0.74" stroke="#35b779" stroke-opacity="0.44" stroke-width="1"/>
<circle cx="1332.41" cy="281.09" r="4.05" fill="#481668" fill-opacity="0.74" stroke="#481668" stroke-opacity="0.45" stroke-width="1"/>
<circle cx="1503.19" cy="281.24" r="4.05" fill="#3f4788" fill-opacity="0.74" stroke="#3f4788" stroke-opacity="0.45" stroke-width="1"/>
<circle cx="1617.06" cy="281.35" r="4.05" fill="#481668" fill-opacity="0.74" stroke="#481668" stroke-opacity="0.45" stroke-width="1"/>
<circle cx="1375.27" cy="459.7" r="4.05" fill="#31688e" fill-opacity="0.74" stroke="#31688e" stroke-opacity="0.45" stroke-width="1"/>
<circle cx="1432.21" cy="459.76" r="4.05" fill="#3f4788" fill-opacity="0.74" stroke="#3f4788" stroke-opacity="0.45" stroke-width="1"/>
<circle cx="1489.16" cy="459.81" r="4.05" fill="#46075a" fill-opacity="0.74" stroke="#46075a" stroke-opacity="0.45" stroke-width="1"/>
<circle cx="1310.99" cy="283.02" r="4.05" fill="#481668" fill-opacity="0.75" stroke="#481668" stroke-opacity="0.45" stroke-width="1"/>
<circle cx="1481.92" cy="283.17" r="4.05" fill="#481668" fill-opacity="0.75" stroke="#481668" stroke-opacity="0.45" stroke-width="1"/>
<circle cx="1538.91" cy="283.23" r="4.05" fill="#481668" fill-opacity="0.75" stroke="#481668" stroke-opacity="0.45" stroke-width="1"/>
<circle cx="1353.88" cy="461.79" r="4.05" fill="#481668" fill-opacity="0.75" stroke="#481668" stroke-opacity="0.45" stroke-width="1"/>
<circle cx="1410.88" cy="461.85" r="4.05" fill="#3f4788" fill-opacity="0.75" stroke="#3f4788" stroke-opacity="0.45" stroke-width="1"/>
<circle cx="1467.87" cy="461.9" r="4.05" fill="#481668" fill-opacity="0.75" stroke="#481668" stroke-opacity="0.45" stroke-width="1"/>
<circle cx="1346.56" cy="285" r="4.05" fill="#481668" fill-opacity="0.75" stroke="#481668" stroke-opacity="0.45" stroke-width="1"/>
<circle cx="1517.65" cy="285.16" r="4.05" fill="#3f4788" fill-opacity="0.75" stroke="#3f4788" stroke-opacity="0.45" stroke-width="1"/>
<circle cx="1389.5" cy="463.94" r="4.05" fill="#3f4788" fill-opacity="0.75" stroke="#3f4788" stroke-opacity="0.45" stroke-width="1"/>
<circle cx="1446.55" cy="463.99" r="4.05" fill="#481668" fill-opacity="0.75" stroke="#481668" stroke-opacity="0.45" stroke-width="1"/>
<circle cx="1560.64" cy="464.1" r="4.05" fill="#481668" fill-opacity="0.75" stroke="#481668" stroke-opacity="0.45" stroke-width="1"/>
<circle cx="1325.12" cy="286.94" r="4.05" fill="#481668" fill-opacity="0.75" stroke="#481668" stroke-opacity="0.45" stroke-width="1"/>
<circle cx="1496.36" cy="287.1" r="4.05" fill="#481668" fill-opacity="0.75" stroke="#481668" stroke-opacity="0.45" stroke-width="1"/>
<circle cx="1553.44" cy="287.15" r="4.05" fill="#481668" fill-opacity="0.75" stroke="#481668" stroke-opacity="0.45" stroke-width="1"/>
<circle cx="1368.09" cy="466.03" r="4.05" fill="#481668" fill-opacity="0.76" stroke="#481668" stroke-opacity="0.45" stroke-width="1"/>
<circle cx="1425.18" cy="466.09" r="4.05" fill="#481668" fill-opacity="0.76" stroke="#481668" stroke-opacity="0.45" stroke-width="1"/>
<circle cx="1360.77" cy="288.93" r="4.05" fill="#481668" fill-opacity="0.76" stroke="#481668" stroke-opacity="0.46" stroke-width="1"/>
<circle cx="1532.16" cy="289.09" r="4.05" fill="#481668" fill-opacity="0.76" stroke="#481668" stroke-opacity="0.46" stroke-width="1"/>
<circle cx="1403.79" cy="468.18" r="4.05" fill="#481668" fill-opacity="0.76" stroke="#481668" stroke-opacity="0.46" stroke-width="1"/>
<circle cx="1339.3" cy="290.88" r="4.05" fill="#481668" fill-opacity="0.76" stroke="#481668" stroke-opacity="0.46" stroke-width="1"/>
<circle cx="1510.84" cy="291.03" r="4.05" fill="#481668" fill-opacity="0.76" stroke="#481668" stroke-opacity="0.46" stroke-width="1"/>
<circle cx="1382.35" cy="470.29" r="4.05" fill="#46075a" fill-opacity="0.76" stroke="#46075a" stroke-opacity="0.46" stroke-width="1"/>
<circle cx="1375.02" cy="292.88" r="4.05" fill="#481668" fill-opacity="0.77" stroke="#481668" stroke-opacity="0.46" stroke-width="1"/>
<circle cx="1546.72" cy="293.03" r="4.05" fill="#481668" fill-opacity="0.77" stroke="#481668" stroke-opacity="0.46" stroke-width="1"/>
<circle cx="1353.53" cy="294.83" r="4.05" fill="#481668" fill-opacity="0.77" stroke="#481668" stroke-opacity="0.46" stroke-width="1"/>
<circle cx="1525.37" cy="294.98" r="4.05" fill="#481668" fill-opacity="0.77" stroke="#481668" stroke-opacity="0.46" stroke-width="1"/>
<circle cx="1389.32" cy="296.83" r="4.05" fill="#481668" fill-opacity="0.78" stroke="#481668" stroke-opacity="0.47" stroke-width="1"/>
<circle cx="1561.33" cy="296.99" r="4.05" fill="#481668" fill-opacity="0.78" stroke="#481668" stroke-opacity="0.47" stroke-width="1"/>
<circle cx="1367.81" cy="298.79" r="4.05" fill="#481668" fill-opacity="0.78" stroke="#481668" stroke-opacity="0.47" stroke-width="1"/>
<circle cx="1403.68" cy="300.8" r="4.05" fill="#481668" fill-opacity="0.78" stroke="#481668" stroke-opacity="0.47" stroke-width="1"/>
<circle cx="1518.55" cy="300.91" r="4.05" fill="#46075a" fill-opacity="0.78" stroke="#46075a" stroke-opacity="0.47" stroke-width="1"/>
<circle cx="1418.09" cy="304.79" r="4.05" fill="#481668" fill-opacity="0.79" stroke="#481668" stroke-opacity="0.48" stroke-width="1"/>
<circle cx="1432.55" cy="308.79" r="4.05" fill="#481668" fill-opacity="0.8" stroke="#481668" stroke-opacity="0.48" stroke-width="1"/>
<circle cx="1331.57" cy="312.7" r="4.05" fill="#46075a" fill-opacity="0.81" stroke="#46075a" stroke-opacity="0.48" stroke-width="1"/>
<circle cx="1425.43" cy="314.79" r="4.05" fill="#46075a" fill-opacity="0.81" stroke="#46075a" stroke-opacity="0.49" stroke-width="1"/>
<circle cx="1403.77" cy="316.78" r="4.05" fill="#46075a" fill-opacity="0.82" stroke="#46075a" stroke-opacity="0.49" stroke-width="1"/>
<circle cx="1439.97" cy="318.82" r="4.05" fill="#46075a" fill-opacity="0.82" stroke="#46075a" stroke-opacity="0.49" stroke-width="1"/>
<circle cx="1418.28" cy="320.82" r="4.05" fill="#46075a" fill-opacity="0.83" stroke="#46075a" stroke-opacity="0.5" stroke-width="1"/>
<circle cx="1396.56" cy="322.82" r="4.05" fill="#46075a" fill-opacity="0.83" stroke="#46075a" stroke-opacity="0.5" stroke-width="1"/>
<circle cx="1432.85" cy="324.88" r="4.05" fill="#46075a" fill-opacity="0.83" stroke="#46075a" stroke-opacity="0.5" stroke-width="1"/>
<circle cx="1411.09" cy="326.88" r="4.05" fill="#46075a" fill-opacity="0.84" stroke="#46075a" stroke-opacity="0.5" stroke-width="1"/>
</g>
<g>
<polygon points="148.28,1455.83 383.69,1258.28 380.53,972.92 134.34,1153.83" fill="#fafafa" stroke="#fff" stroke-opacity="0.4" stroke-width="1.1" stroke-linejoin="round"/>
<polygon points="383.69,1258.28 762.53,1368.36 775.5,1073.57 380.53,972.92" fill="#f4f4f4" stroke="#fff" stroke-opacity="0.4" stroke-width="1.1" stroke-linejoin="round"/>
<polygon points="148.28,1455.83 548.95,1586.06 762.53,1368.36 383.69,1258.28" fill="#f7f7f7" stroke="#fff" stroke-opacity="0.4" stroke-width="1.1" stroke-linejoin="round"/>
<g fill="#fff" fill-opacity="0.6"><circle cx="485.81" cy="1301.29" r="5.6"/><circle cx="492.74" cy="1295.13" r="5.6"/><circle cx="499.63" cy="1289.01" r="5.6"/><circle cx="506.49" cy="1282.92" r="5.6"/><circle cx="513.31" cy="1276.87" r="5.6"/><circle cx="520.1" cy="1270.84" r="5.6"/><circle cx="526.85" cy="1264.85" r="5.6"/><circle cx="486.04" cy="1317.87" r="5.6"/><circle cx="493.02" cy="1311.63" r="5.6"/><circle cx="499.96" cy="1305.42" r="5.6"/><circle cx="506.87" cy="1299.25" r="5.6"/><circle cx="513.74" cy="1293.11" r="5.6"/><circle cx="520.57" cy="1287" r="5.6"/><circle cx="527.37" cy="1280.92" r="5.6"/><circle cx="534.13" cy="1274.87" r="5.6"/><circle cx="540.86" cy="1268.86" r="5.6"/><circle cx="547.55" cy="1262.87" r="5.6"/><circle cx="554.21" cy="1256.92" r="5.6"/><circle cx="560.84" cy="1251" r="5.6"/><circle cx="507.25" cy="1315.8" r="5.6"/><circle cx="514.17" cy="1309.58" r="5.6"/><circle cx="521.05" cy="1303.38" r="5.6"/><circle cx="527.9" cy="1297.22" r="5.6"/><circle cx="534.7" cy="1291.09" r="5.6"/><circle cx="541.48" cy="1284.99" r="5.6"/><circle cx="548.22" cy="1278.92" r="5.6"/><circle cx="554.92" cy="1272.88" r="5.6"/><circle cx="561.59" cy="1266.88" r="5.6"/><circle cx="568.22" cy="1260.9" r="5.6"/><circle cx="521.54" cy="1319.99" r="5.6"/><circle cx="528.43" cy="1313.74" r="5.6"/><circle cx="535.28" cy="1307.52" r="5.6"/><circle cx="542.1" cy="1301.34" r="5.6"/><circle cx="548.89" cy="1295.19" r="5.6"/><circle cx="555.63" cy="1289.07" r="5.6"/><circle cx="562.35" cy="1282.98" r="5.6"/><circle cx="569.03" cy="1276.92" r="5.6"/><circle cx="575.67" cy="1270.9" r="5.6"/><circle cx="535.87" cy="1324.2" r="5.6"/><circle cx="542.74" cy="1317.92" r="5.6"/><circle cx="549.57" cy="1311.68" r="5.6"/><circle cx="556.36" cy="1305.48" r="5.6"/><circle cx="563.12" cy="1299.3" r="5.6"/><circle cx="569.84" cy="1293.16" r="5.6"/><circle cx="576.53" cy="1287.05" r="5.6"/><circle cx="583.18" cy="1280.97" r="5.6"/><circle cx="563.9" cy="1315.86" r="5.6"/><circle cx="570.67" cy="1309.63" r="5.6"/><circle cx="577.4" cy="1303.43" r="5.6"/><circle cx="584.1" cy="1297.27" r="5.6"/><circle cx="590.76" cy="1291.14" r="5.6"/><circle cx="597.39" cy="1285.04" r="5.6"/><circle cx="603.98" cy="1278.97" r="5.6"/><circle cx="578.28" cy="1320.05" r="5.6"/><circle cx="585.02" cy="1313.8" r="5.6"/><circle cx="591.73" cy="1307.58" r="5.6"/><circle cx="598.4" cy="1301.39" r="5.6"/><circle cx="605.04" cy="1295.24" r="5.6"/><circle cx="611.64" cy="1289.12" r="5.6"/><circle cx="618.21" cy="1283.03" r="5.6"/><circle cx="624.74" cy="1276.97" r="5.6"/><circle cx="631.24" cy="1270.95" r="5.6"/><circle cx="637.71" cy="1264.95" r="5.6"/><circle cx="644.14" cy="1258.99" r="5.6"/><circle cx="464.45" cy="1254.86" r="5.6"/><circle cx="471.29" cy="1248.94" r="5.6"/><circle cx="485.11" cy="1252.9" r="5.6"/><circle cx="492.18" cy="1262.82" r="5.6"/><circle cx="498.98" cy="1256.87" r="5.6"/><circle cx="506.11" cy="1266.83" r="5.6"/><circle cx="512.89" cy="1260.85" r="5.6"/><circle cx="540.25" cy="1252.95" r="5.6"/><circle cx="546.9" cy="1247.05" r="5.6"/><circle cx="581.39" cy="1249.05" r="5.6"/><circle cx="587.92" cy="1243.17" r="5.6"/><circle cx="595.4" cy="1253" r="5.6"/><circle cx="601.9" cy="1247.1" r="5.6"/><circle cx="608.38" cy="1241.23" r="5.6"/><circle cx="615.93" cy="1251.05" r="5.6"/><circle cx="623.55" cy="1260.96" r="5.6"/><circle cx="630.01" cy="1255.01" r="5.6"/><circle cx="579.18" cy="1336.9" r="5.6"/><circle cx="585.97" cy="1330.56" r="5.6"/><circle cx="592.72" cy="1324.25" r="5.6"/><circle cx="599.43" cy="1317.98" r="5.6"/><circle cx="606.11" cy="1311.74" r="5.6"/><circle cx="612.76" cy="1305.53" r="5.6"/><circle cx="619.37" cy="1299.36" r="5.6"/><circle cx="625.94" cy="1293.22" r="5.6"/><circle cx="632.49" cy="1287.11" r="5.6"/><circle cx="638.99" cy="1281.03" r="5.6"/><circle cx="645.47" cy="1274.98" r="5.6"/><circle cx="651.91" cy="1268.96" r="5.6"/><circle cx="593.72" cy="1341.16" r="5.6"/><circle cx="600.48" cy="1334.8" r="5.6"/><circle cx="607.2" cy="1328.47" r="5.6"/><circle cx="613.89" cy="1322.17" r="5.6"/><circle cx="620.55" cy="1315.91" r="5.6"/><circle cx="627.16" cy="1309.68" r="5.6"/><circle cx="633.75" cy="1303.49" r="5.6"/><circle cx="640.3" cy="1297.32" r="5.6"/><circle cx="646.81" cy="1291.19" r="5.6"/><circle cx="653.3" cy="1285.09" r="5.6"/><circle cx="659.75" cy="1279.03" r="5.6"/><circle cx="666.16" cy="1272.99" r="5.6"/><circle cx="672.54" cy="1266.98" r="5.6"/><circle cx="621.74" cy="1332.7" r="5.6"/><circle cx="628.4" cy="1326.39" r="5.6"/><circle cx="635.03" cy="1320.1" r="5.6"/><circle cx="641.62" cy="1313.85" r="5.6"/><circle cx="648.18" cy="1307.63" r="5.6"/><circle cx="654.7" cy="1301.45" r="5.6"/><circle cx="661.19" cy="1295.29" r="5.6"/><circle cx="667.65" cy="1289.17" r="5.6"/><circle cx="674.07" cy="1283.08" r="5.6"/><circle cx="680.46" cy="1277.03" r="5.6"/><circle cx="429.19" cy="1334.63" r="5.6"/><circle cx="443.45" cy="1338.89" r="5.6"/><circle cx="450.59" cy="1349.56" r="5.6"/><circle cx="464.89" cy="1336.78" r="5.6"/><circle cx="471.98" cy="1330.45" r="5.6"/><circle cx="471.84" cy="1313.69" r="5.6"/><circle cx="479.22" cy="1341.05" r="5.6"/><circle cx="486.28" cy="1334.69" r="5.6"/><circle cx="493.61" cy="1345.33" r="5.6"/><circle cx="500.64" cy="1338.94" r="5.6"/><circle cx="508.04" cy="1349.62" r="5.6"/><circle cx="515.05" cy="1343.21" r="5.6"/><circle cx="296.77" cy="1286.78" r="5.6"/><circle cx="317.87" cy="1284.77" r="5.6"/><circle cx="338.93" cy="1282.77" r="5.6"/><circle cx="359.95" cy="1280.76" r="5.6"/><circle cx="564.29" cy="1149.84" r="5.6"/><circle cx="613.4" cy="1140.19" r="5.6"/><circle cx="678.16" cy="1149.95" r="5.6"/><circle cx="691.13" cy="1138.33" r="5.6"/><circle cx="478.69" cy="1453.8" r="5.6"/><circle cx="492.7" cy="1458.16" r="5.6"/><circle cx="499.89" cy="1469.11" r="5.6"/><circle cx="514.03" cy="1473.53" r="5.6"/><circle cx="528.21" cy="1477.96" r="5.6"/><circle cx="542.45" cy="1482.41" r="5.6"/><circle cx="549.25" cy="1475.77" r="5.6"/><circle cx="527.69" cy="1460.38" r="5.6"/><circle cx="541.82" cy="1464.77" r="5.6"/><circle cx="513.17" cy="1438.73" r="5.6"/><circle cx="527.16" cy="1443.04" r="5.6"/><circle cx="541.2" cy="1447.36" r="5.6"/><circle cx="547.91" cy="1440.91" r="5.6"/><circle cx="554.58" cy="1434.48" r="5.6"/><circle cx="561.97" cy="1445.23" r="5.6"/><circle cx="563.51" cy="1480.21" r="5.6"/><circle cx="570.24" cy="1473.59" r="5.6"/><circle cx="576.94" cy="1466.99" r="5.6"/><circle cx="583.61" cy="1460.44" r="5.6"/><circle cx="590.24" cy="1453.91" r="5.6"/><circle cx="584.53" cy="1478.02" r="5.6"/><circle cx="591.2" cy="1471.41" r="5.6"/><circle cx="597.84" cy="1464.82" r="5.6"/><circle cx="604.45" cy="1458.28" r="5.6"/><circle cx="611.02" cy="1451.76" r="5.6"/><circle cx="617.55" cy="1445.28" r="5.6"/><circle cx="605.51" cy="1475.83" r="5.6"/><circle cx="612.13" cy="1469.23" r="5.6"/><circle cx="618.71" cy="1462.66" r="5.6"/><circle cx="625.25" cy="1456.12" r="5.6"/><circle cx="631.76" cy="1449.62" r="5.6"/></g>
<g stroke-opacity="0.5">
<polyline points="164.72,1461.17 399.29,1262.81 396.78,979.22" fill="none" stroke="#fff" stroke-width="4.0" />
<polyline points="232.3,1483.14 463.38,1281.43 463.49,996.24" fill="none" stroke="#fff" stroke-width="4.0" />
<polyline points="301.07,1505.49 528.51,1300.36 531.32,1013.54" fill="none" stroke="#fff" stroke-width="4.0" />
<polyline points="371.06,1528.24 594.71,1319.59 600.3,1031.14" fill="none" stroke="#fff" stroke-width="4.0" />
<polyline points="442.3,1551.4 661.99,1339.15 670.47,1049.04" fill="none" stroke="#fff" stroke-width="4.0" />
<polyline points="514.84,1574.97 730.39,1359.02 741.85,1067.25" fill="none" stroke="#fff" stroke-width="4.0" />
<polyline points="580.8,1553.6 183.26,1426.48 171.12,1129.14" fill="none" stroke="#fff" stroke-width="4.0" />
<polyline points="639.09,1494.18 247.4,1372.65 238.28,1079.74" fill="none" stroke="#fff" stroke-width="4.0" />
<polyline points="694.79,1437.41 308.82,1321.11 302.46,1032.52" fill="none" stroke="#fff" stroke-width="4.0" />
<polyline points="748.06,1383.11 367.68,1271.71 363.87,987.35" fill="none" stroke="#fff" stroke-width="4.0" />
<polyline points="147.45,1437.71 383.5,1241.1 763.31,1350.65" fill="none" stroke="#fff" stroke-width="4.0" />
<polyline points="141.48,1308.6 382.15,1118.91 768.86,1224.53" fill="none" stroke="#fff" stroke-width="4.0" />
<polyline points="135.29,1174.47 380.75,992.36 774.62,1093.69" fill="none" stroke="#fff" stroke-width="4.0" />
</g>
<polyline points="164.72,1461.17 399.29,1262.81 396.78,979.22" fill="none" stroke="#bababa" stroke-width="2.2" />
<polyline points="232.3,1483.14 463.38,1281.43 463.49,996.24" fill="none" stroke="#bababa" stroke-width="2.2" />
<polyline points="301.07,1505.49 528.51,1300.36 531.32,1013.54" fill="none" stroke="#bababa" stroke-width="2.2" />
<polyline points="371.06,1528.24 594.71,1319.59 600.3,1031.14" fill="none" stroke="#bababa" stroke-width="2.2" />
<polyline points="442.3,1551.4 661.99,1339.15 670.47,1049.04" fill="none" stroke="#bababa" stroke-width="2.2" />
<polyline points="514.84,1574.97 730.39,1359.02 741.85,1067.25" fill="none" stroke="#bababa" stroke-width="2.2" />
<polyline points="580.8,1553.6 183.26,1426.48 171.12,1129.14" fill="none" stroke="#bababa" stroke-width="2.2" />
<polyline points="639.09,1494.18 247.4,1372.65 238.28,1079.74" fill="none" stroke="#bababa" stroke-width="2.2" />
<polyline points="694.79,1437.41 308.82,1321.11 302.46,1032.52" fill="none" stroke="#bababa" stroke-width="2.2" />
<polyline points="748.06,1383.11 367.68,1271.71 363.87,987.35" fill="none" stroke="#bababa" stroke-width="2.2" />
<polyline points="147.45,1437.71 383.5,1241.1 763.31,1350.65" fill="none" stroke="#bababa" stroke-width="2.2" />
<polyline points="141.48,1308.6 382.15,1118.91 768.86,1224.53" fill="none" stroke="#bababa" stroke-width="2.2" />
<polyline points="135.29,1174.47 380.75,992.36 774.62,1093.69" fill="none" stroke="#bababa" stroke-width="2.2" />
<polyline points="148.28,1455.83 548.95,1586.06" fill="none" stroke="#000" stroke-width="2.2" stroke-linecap="square"/>
<polyline points="548.95,1586.06 762.53,1368.36" fill="none" stroke="#000" stroke-width="2.2" stroke-linecap="square"/>
<polyline points="762.53,1368.36 775.5,1073.57" fill="none" stroke="#000" stroke-width="2.2" stroke-linecap="square"/>
<polyline points="159.83,1465.31 167.47,1458.85" fill="none" stroke="#000" stroke-width="2.2" />
<text x="145.32" y="1530.57" font-size="39" text-anchor="middle" textLength="83.5" lengthAdjust="spacingAndGlyphs" stroke="#fff" stroke-width="0.55" >−600</text>
<polyline points="227.48,1487.35 235.01,1480.77" fill="none" stroke="#000" stroke-width="2.2" />
<text x="212.9" y="1553.12" font-size="39" text-anchor="middle" textLength="83.5" lengthAdjust="spacingAndGlyphs" stroke="#fff" stroke-width="0.55" >−500</text>
<polyline points="296.31,1509.78 303.74,1503.08" fill="none" stroke="#000" stroke-width="2.2" />
<text x="281.67" y="1576.05" font-size="39" text-anchor="middle" textLength="83.5" lengthAdjust="spacingAndGlyphs" stroke="#fff" stroke-width="0.55" >−400</text>
<polyline points="366.38,1532.61 373.69,1525.78" fill="none" stroke="#000" stroke-width="2.2" />
<text x="351.66" y="1599.38" font-size="39" text-anchor="middle" textLength="83.5" lengthAdjust="spacingAndGlyphs" stroke="#fff" stroke-width="0.55" >−300</text>
<polyline points="437.7,1555.84 444.89,1548.89" fill="none" stroke="#000" stroke-width="2.2" />
<text x="422.9" y="1623.12" font-size="39" text-anchor="middle" textLength="83.5" lengthAdjust="spacingAndGlyphs" stroke="#fff" stroke-width="0.55" >−200</text>
<polyline points="510.32,1579.5 517.38,1572.42" fill="none" stroke="#000" stroke-width="2.2" />
<text x="495.44" y="1647.27" font-size="39" text-anchor="middle" textLength="83.5" lengthAdjust="spacingAndGlyphs" stroke="#fff" stroke-width="0.55" >−100</text>
<polyline points="588.03,1555.92 576.51,1552.23" fill="none" stroke="#000" stroke-width="2.2" />
<text x="616" y="1617" font-size="39" text-anchor="middle" textLength="56" lengthAdjust="spacingAndGlyphs" stroke="#fff" stroke-width="0.55" >200</text>
<polyline points="646.35,1496.43 634.79,1492.85" fill="none" stroke="#000" stroke-width="2.2" />
<text x="672.85" y="1556.5" font-size="39" text-anchor="middle" textLength="56" lengthAdjust="spacingAndGlyphs" stroke="#fff" stroke-width="0.55" >400</text>
<polyline points="702.06,1439.6 690.48,1436.11" fill="none" stroke="#000" stroke-width="2.2" />
<text x="727.95" y="1498.85" font-size="39" text-anchor="middle" textLength="56" lengthAdjust="spacingAndGlyphs" stroke="#fff" stroke-width="0.55" >600</text>
<polyline points="755.35,1385.25 743.74,1381.85" fill="none" stroke="#000" stroke-width="2.2" />
<text x="780.3" y="1443.45" font-size="39" text-anchor="middle" textLength="56" lengthAdjust="spacingAndGlyphs" stroke="#fff" stroke-width="0.55" >800</text>
<polyline points="770.8,1352.81 759.18,1349.46" fill="none" stroke="#000" stroke-width="2.2" />
<text x="812.5" y="1370.8" font-size="39" text-anchor="middle" textLength="18.5" lengthAdjust="spacingAndGlyphs" stroke="#fff" stroke-width="0.55" >0</text>
<polyline points="776.38,1226.58 764.71,1223.4" fill="none" stroke="#000" stroke-width="2.2" />
<text x="818.9" y="1245" font-size="39" text-anchor="middle" textLength="18.5" lengthAdjust="spacingAndGlyphs" stroke="#fff" stroke-width="0.55" >6</text>
<polyline points="782.17,1095.64 770.45,1092.62" fill="none" stroke="#000" stroke-width="2.2" />
<text x="826.7" y="1114.4" font-size="39" text-anchor="middle" textLength="35.5" lengthAdjust="spacingAndGlyphs" stroke="#fff" stroke-width="0.55" >12</text>
<text x="300.2" y="1624.5" font-size="39" text-anchor="middle" textLength="26.4" lengthAdjust="spacingAndGlyphs" stroke="#fff" stroke-width="0.55" >X</text>
<text x="733.2" y="1557.6" font-size="39" text-anchor="middle" textLength="27.7" lengthAdjust="spacingAndGlyphs" stroke="#fff" stroke-width="0.55" >Y</text>
<text x="877.4" y="1219.5" font-size="39" text-anchor="middle" textLength="20.3" lengthAdjust="spacingAndGlyphs" stroke="#fff" stroke-width="0.55" >Z</text>
<circle cx="608.38" cy="1241.23" r="4.05" fill="#481668" fill-opacity="0.58" stroke="#481668" stroke-opacity="0.35" stroke-width="1"/>
<circle cx="587.92" cy="1243.17" r="4.05" fill="#481668" fill-opacity="0.58" stroke="#481668" stroke-opacity="0.35" stroke-width="1"/>
<circle cx="546.9" cy="1247.05" r="4.05" fill="#481668" fill-opacity="0.59" stroke="#481668" stroke-opacity="0.35" stroke-width="1"/>
<circle cx="601.9" cy="1247.1" r="4.05" fill="#481668" fill-opacity="0.59" stroke="#481668" stroke-opacity="0.35" stroke-width="1"/>
<circle cx="471.29" cy="1248.94" r="4.05" fill="#481668" fill-opacity="0.59" stroke="#481668" stroke-opacity="0.35" stroke-width="1"/>
<circle cx="581.39" cy="1249.05" r="4.05" fill="#481668" fill-opacity="0.59" stroke="#481668" stroke-opacity="0.35" stroke-width="1"/>
<circle cx="560.84" cy="1251" r="4.05" fill="#481668" fill-opacity="0.59" stroke="#481668" stroke-opacity="0.36" stroke-width="1"/>
<circle cx="615.93" cy="1251.05" r="4.05" fill="#481668" fill-opacity="0.59" stroke="#481668" stroke-opacity="0.36" stroke-width="1"/>
<circle cx="485.11" cy="1252.9" r="4.05" fill="#481668" fill-opacity="0.6" stroke="#481668" stroke-opacity="0.36" stroke-width="1"/>
<circle cx="540.25" cy="1252.95" r="4.05" fill="#481668" fill-opacity="0.6" stroke="#481668" stroke-opacity="0.36" stroke-width="1"/>
<circle cx="595.4" cy="1253" r="4.05" fill="#481668" fill-opacity="0.6" stroke="#481668" stroke-opacity="0.36" stroke-width="1"/>
<circle cx="464.45" cy="1254.86" r="4.05" fill="#481668" fill-opacity="0.6" stroke="#481668" stroke-opacity="0.36" stroke-width="1"/>
<circle cx="630.01" cy="1255.01" r="4.05" fill="#481668" fill-opacity="0.6" stroke="#481668" stroke-opacity="0.36" stroke-width="1"/>
<circle cx="498.98" cy="1256.87" r="4.05" fill="#481668" fill-opacity="0.61" stroke="#481668" stroke-opacity="0.36" stroke-width="1"/>
<circle cx="554.21" cy="1256.92" r="4.05" fill="#481668" fill-opacity="0.61" stroke="#481668" stroke-opacity="0.36" stroke-width="1"/>
<circle cx="644.14" cy="1258.99" r="4.05" fill="#481668" fill-opacity="0.61" stroke="#481668" stroke-opacity="0.37" stroke-width="1"/>
<circle cx="512.89" cy="1260.85" r="4.05" fill="#481668" fill-opacity="0.61" stroke="#481668" stroke-opacity="0.37" stroke-width="1"/>
<circle cx="568.22" cy="1260.9" r="4.05" fill="#481668" fill-opacity="0.61" stroke="#481668" stroke-opacity="0.37" stroke-width="1"/>
<circle cx="623.55" cy="1260.96" r="4.05" fill="#481668" fill-opacity="0.61" stroke="#481668" stroke-opacity="0.37" stroke-width="1"/>
<circle cx="554.58" cy="1434.48" r="4.05" fill="#3f4788" fill-opacity="0.61" stroke="#3f4788" stroke-opacity="0.37" stroke-width="1"/>
<circle cx="492.18" cy="1262.82" r="4.05" fill="#481668" fill-opacity="0.62" stroke="#481668" stroke-opacity="0.37" stroke-width="1"/>
<circle cx="547.55" cy="1262.87" r="4.05" fill="#481668" fill-opacity="0.62" stroke="#481668" stroke-opacity="0.37" stroke-width="1"/>
<circle cx="526.85" cy="1264.85" r="4.05" fill="#481668" fill-opacity="0.62" stroke="#481668" stroke-opacity="0.37" stroke-width="1"/>
<circle cx="637.71" cy="1264.95" r="4.05" fill="#481668" fill-opacity="0.62" stroke="#481668" stroke-opacity="0.37" stroke-width="1"/>
<circle cx="513.17" cy="1438.73" r="4.05" fill="#481668" fill-opacity="0.62" stroke="#481668" stroke-opacity="0.37" stroke-width="1"/>
<circle cx="506.11" cy="1266.83" r="4.05" fill="#481668" fill-opacity="0.62" stroke="#481668" stroke-opacity="0.37" stroke-width="1"/>
<circle cx="561.59" cy="1266.88" r="4.05" fill="#481668" fill-opacity="0.62" stroke="#481668" stroke-opacity="0.37" stroke-width="1"/>
<circle cx="672.54" cy="1266.98" r="4.05" fill="#481668" fill-opacity="0.63" stroke="#481668" stroke-opacity="0.38" stroke-width="1"/>
<circle cx="547.91" cy="1440.91" r="4.05" fill="#31688e" fill-opacity="0.63" stroke="#31688e" stroke-opacity="0.38" stroke-width="1"/>
<circle cx="540.86" cy="1268.86" r="4.05" fill="#481668" fill-opacity="0.63" stroke="#481668" stroke-opacity="0.38" stroke-width="1"/>
<circle cx="651.91" cy="1268.96" r="4.05" fill="#481668" fill-opacity="0.63" stroke="#481668" stroke-opacity="0.38" stroke-width="1"/>
<circle cx="527.16" cy="1443.04" r="4.05" fill="#3f4788" fill-opacity="0.63" stroke="#3f4788" stroke-opacity="0.38" stroke-width="1"/>
<circle cx="520.1" cy="1270.84" r="4.05" fill="#481668" fill-opacity="0.63" stroke="#481668" stroke-opacity="0.38" stroke-width="1"/>
<circle cx="575.67" cy="1270.9" r="4.05" fill="#481668" fill-opacity="0.63" stroke="#481668" stroke-opacity="0.38" stroke-width="1"/>
<circle cx="631.24" cy="1270.95" r="4.05" fill="#481668" fill-opacity="0.63" stroke="#481668" stroke-opacity="0.38" stroke-width="1"/>
<circle cx="561.97" cy="1445.23" r="4.05" fill="#481668" fill-opacity="0.63" stroke="#481668" stroke-opacity="0.38" stroke-width="1"/>
<circle cx="617.55" cy="1445.28" r="4.05" fill="#31688e" fill-opacity="0.63" stroke="#31688e" stroke-opacity="0.38" stroke-width="1"/>
<circle cx="554.92" cy="1272.88" r="4.05" fill="#3f4788" fill-opacity="0.64" stroke="#3f4788" stroke-opacity="0.38" stroke-width="1"/>
<circle cx="666.16" cy="1272.99" r="4.05" fill="#3f4788" fill-opacity="0.64" stroke="#3f4788" stroke-opacity="0.38" stroke-width="1"/>
<circle cx="541.2" cy="1447.36" r="4.05" fill="#3f4788" fill-opacity="0.64" stroke="#3f4788" stroke-opacity="0.38" stroke-width="1"/>
<circle cx="534.13" cy="1274.87" r="4.05" fill="#3f4788" fill-opacity="0.64" stroke="#3f4788" stroke-opacity="0.38" stroke-width="1"/>
<circle cx="645.47" cy="1274.98" r="4.05" fill="#3f4788" fill-opacity="0.64" stroke="#3f4788" stroke-opacity="0.38" stroke-width="1"/>
<circle cx="631.76" cy="1449.62" r="4.05" fill="#26828e" fill-opacity="0.64" stroke="#26828e" stroke-opacity="0.39" stroke-width="1"/>
<circle cx="513.31" cy="1276.87" r="4.05" fill="#481668" fill-opacity="0.64" stroke="#481668" stroke-opacity="0.39" stroke-width="1"/>
<circle cx="569.03" cy="1276.92" r="4.05" fill="#3f4788" fill-opacity="0.64" stroke="#3f4788" stroke-opacity="0.39" stroke-width="1"/>
<circle cx="624.74" cy="1276.97" r="4.05" fill="#3f4788" fill-opacity="0.64" stroke="#3f4788" stroke-opacity="0.39" stroke-width="1"/>
<circle cx="680.46" cy="1277.03" r="4.05" fill="#26828e" fill-opacity="0.64" stroke="#26828e" stroke-opacity="0.39" stroke-width="1"/>
<circle cx="611.02" cy="1451.76" r="4.05" fill="#1f9e89" fill-opacity="0.65" stroke="#1f9e89" stroke-opacity="0.39" stroke-width="1"/>
<circle cx="548.22" cy="1278.92" r="4.05" fill="#31688e" fill-opacity="0.65" stroke="#31688e" stroke-opacity="0.39" stroke-width="1"/>
<circle cx="603.98" cy="1278.97" r="4.05" fill="#3f4788" fill-opacity="0.65" stroke="#3f4788" stroke-opacity="0.39" stroke-width="1"/>
<circle cx="659.75" cy="1279.03" r="4.05" fill="#1f9e89" fill-opacity="0.65" stroke="#1f9e89" stroke-opacity="0.39" stroke-width="1"/>
<circle cx="478.69" cy="1453.8" r="4.05" fill="#481668" fill-opacity="0.65" stroke="#481668" stroke-opacity="0.39" stroke-width="1"/>
<circle cx="590.24" cy="1453.91" r="4.05" fill="#3f4788" fill-opacity="0.65" stroke="#3f4788" stroke-opacity="0.39" stroke-width="1"/>
<circle cx="359.95" cy="1280.76" r="4.05" fill="#481668" fill-opacity="0.65" stroke="#481668" stroke-opacity="0.39" stroke-width="1"/>
<circle cx="527.37" cy="1280.92" r="4.05" fill="#31688e" fill-opacity="0.65" stroke="#31688e" stroke-opacity="0.39" stroke-width="1"/>
<circle cx="583.18" cy="1280.97" r="4.05" fill="#481668" fill-opacity="0.65" stroke="#481668" stroke-opacity="0.39" stroke-width="1"/>
<circle cx="638.99" cy="1281.03" r="4.05" fill="#1f9e89" fill-opacity="0.65" stroke="#1f9e89" stroke-opacity="0.39" stroke-width="1"/>
<circle cx="625.25" cy="1456.12" r="4.05" fill="#fde725" fill-opacity="0.65" stroke="#fde725" stroke-opacity="0.39" stroke-width="1"/>
<circle cx="338.93" cy="1282.77" r="4.05" fill="#481668" fill-opacity="0.66" stroke="#481668" stroke-opacity="0.39" stroke-width="1"/>
<circle cx="506.49" cy="1282.92" r="4.05" fill="#481668" fill-opacity="0.66" stroke="#481668" stroke-opacity="0.39" stroke-width="1"/>
<circle cx="562.35" cy="1282.98" r="4.05" fill="#1f9e89" fill-opacity="0.66" stroke="#1f9e89" stroke-opacity="0.39" stroke-width="1"/>
<circle cx="618.21" cy="1283.03" r="4.05" fill="#1f9e89" fill-opacity="0.66" stroke="#1f9e89" stroke-opacity="0.39" stroke-width="1"/>
<circle cx="674.07" cy="1283.08" r="4.05" fill="#35b779" fill-opacity="0.66" stroke="#35b779" stroke-opacity="0.39" stroke-width="1"/>
<circle cx="492.7" cy="1458.16" r="4.05" fill="#481668" fill-opacity="0.66" stroke="#481668" stroke-opacity="0.39" stroke-width="1"/>
<circle cx="604.45" cy="1458.28" r="4.05" fill="#31688e" fill-opacity="0.66" stroke="#31688e" stroke-opacity="0.39" stroke-width="1"/>
<circle cx="317.87" cy="1284.77" r="4.05" fill="#3f4788" fill-opacity="0.66" stroke="#3f4788" stroke-opacity="0.4" stroke-width="1"/>
<circle cx="541.48" cy="1284.99" r="4.05" fill="#1f9e89" fill-opacity="0.66" stroke="#1f9e89" stroke-opacity="0.4" stroke-width="1"/>
<circle cx="597.39" cy="1285.04" r="4.05" fill="#31688e" fill-opacity="0.66" stroke="#31688e" stroke-opacity="0.4" stroke-width="1"/>
<circle cx="653.3" cy="1285.09" r="4.05" fill="#35b779" fill-opacity="0.66" stroke="#35b779" stroke-opacity="0.4" stroke-width="1"/>
<circle cx="527.69" cy="1460.38" r="4.05" fill="#6ece58" fill-opacity="0.66" stroke="#6ece58" stroke-opacity="0.4" stroke-width="1"/>
<circle cx="583.61" cy="1460.44" r="4.05" fill="#1f9e89" fill-opacity="0.66" stroke="#1f9e89" stroke-opacity="0.4" stroke-width="1"/>
<circle cx="296.77" cy="1286.78" r="4.05" fill="#3f4788" fill-opacity="0.66" stroke="#3f4788" stroke-opacity="0.4" stroke-width="1"/>
<circle cx="520.57" cy="1287" r="4.05" fill="#26828e" fill-opacity="0.66" stroke="#26828e" stroke-opacity="0.4" stroke-width="1"/>
<circle cx="576.53" cy="1287.05" r="4.05" fill="#26828e" fill-opacity="0.66" stroke="#26828e" stroke-opacity="0.4" stroke-width="1"/>
<circle cx="632.49" cy="1287.11" r="4.05" fill="#35b779" fill-opacity="0.66" stroke="#35b779" stroke-opacity="0.4" stroke-width="1"/>
<circle cx="618.71" cy="1462.66" r="4.05" fill="#b5de2b" fill-opacity="0.67" stroke="#b5de2b" stroke-opacity="0.4" stroke-width="1"/>
<circle cx="499.63" cy="1289.01" r="4.05" fill="#481668" fill-opacity="0.67" stroke="#481668" stroke-opacity="0.4" stroke-width="1"/>
<circle cx="555.63" cy="1289.07" r="4.05" fill="#6ece58" fill-opacity="0.67" stroke="#6ece58" stroke-opacity="0.4" stroke-width="1"/>
<circle cx="611.64" cy="1289.12" r="4.05" fill="#6ece58" fill-opacity="0.67" stroke="#6ece58" stroke-opacity="0.4" stroke-width="1"/>
<circle cx="667.65" cy="1289.17" r="4.05" fill="#b5de2b" fill-opacity="0.67" stroke="#b5de2b" stroke-opacity="0.4" stroke-width="1"/>
<circle cx="541.82" cy="1464.77" r="4.05" fill="#1f9e89" fill-opacity="0.67" stroke="#1f9e89" stroke-opacity="0.4" stroke-width="1"/>
<circle cx="597.84" cy="1464.82" r="4.05" fill="#26828e" fill-opacity="0.67" stroke="#26828e" stroke-opacity="0.4" stroke-width="1"/>
<circle cx="534.7" cy="1291.09" r="4.05" fill="#6ece58" fill-opacity="0.67" stroke="#6ece58" stroke-opacity="0.4" stroke-width="1"/>
<circle cx="590.76" cy="1291.14" r="4.05" fill="#1f9e89" fill-opacity="0.67" stroke="#1f9e89" stroke-opacity="0.4" stroke-width="1"/>
<circle cx="646.81" cy="1291.19" r="4.05" fill="#b5de2b" fill-opacity="0.67" stroke="#b5de2b" stroke-opacity="0.4" stroke-width="1"/>
<circle cx="576.94" cy="1466.99" r="4.05" fill="#31688e" fill-opacity="0.67" stroke="#31688e" stroke-opacity="0.4" stroke-width="1"/>
<circle cx="513.74" cy="1293.11" r="4.05" fill="#26828e" fill-opacity="0.68" stroke="#26828e" stroke-opacity="0.41" stroke-width="1"/>
<circle cx="569.84" cy="1293.16" r="4.05" fill="#6ece58" fill-opacity="0.68" stroke="#6ece58" stroke-opacity="0.41" stroke-width="1"/>
<circle cx="625.94" cy="1293.22" r="4.05" fill="#35b779" fill-opacity="0.68" stroke="#35b779" stroke-opacity="0.41" stroke-width="1"/>
<circle cx="499.89" cy="1469.11" r="4.05" fill="#31688e" fill-opacity="0.68" stroke="#31688e" stroke-opacity="0.41" stroke-width="1"/>
<circle cx="612.13" cy="1469.23" r="4.05" fill="#26828e" fill-opacity="0.68" stroke="#26828e" stroke-opacity="0.41" stroke-width="1"/>
<circle cx="492.74" cy="1295.13" r="4.05" fill="#481668" fill-opacity="0.68" stroke="#481668" stroke-opacity="0.41" stroke-width="1"/>
<circle cx="548.89" cy="1295.19" r="4.05" fill="#b5de2b" fill-opacity="0.68" stroke="#b5de2b" stroke-opacity="0.41" stroke-width="1"/>
<circle cx="605.04" cy="1295.24" r="4.05" fill="#35b779" fill-opacity="0.68" stroke="#35b779" stroke-opacity="0.41" stroke-width="1"/>
<circle cx="661.19" cy="1295.29" r="4.05" fill="#b5de2b" fill-opacity="0.68" stroke="#b5de2b" stroke-opacity="0.41" stroke-width="1"/>
<circle cx="591.2" cy="1471.41" r="4.05" fill="#1f9e89" fill-opacity="0.68" stroke="#1f9e89" stroke-opacity="0.41" stroke-width="1"/>
<circle cx="527.9" cy="1297.22" r="4.05" fill="#6ece58" fill-opacity="0.68" stroke="#6ece58" stroke-opacity="0.41" stroke-width="1"/>
<circle cx="584.1" cy="1297.27" r="4.05" fill="#b5de2b" fill-opacity="0.68" stroke="#b5de2b" stroke-opacity="0.41" stroke-width="1"/>
<circle cx="640.3" cy="1297.32" r="4.05" fill="#b5de2b" fill-opacity="0.68" stroke="#b5de2b" stroke-opacity="0.41" stroke-width="1"/>
<circle cx="514.03" cy="1473.53" r="4.05" fill="#26828e" fill-opacity="0.68" stroke="#26828e" stroke-opacity="0.41" stroke-width="1"/>
<circle cx="570.24" cy="1473.59" r="4.05" fill="#26828e" fill-opacity="0.68" stroke="#26828e" stroke-opacity="0.41" stroke-width="1"/>
<circle cx="506.87" cy="1299.25" r="4.05" fill="#31688e" fill-opacity="0.69" stroke="#31688e" stroke-opacity="0.41" stroke-width="1"/>
<circle cx="563.12" cy="1299.3" r="4.05" fill="#6ece58" fill-opacity="0.69" stroke="#6ece58" stroke-opacity="0.41" stroke-width="1"/>
<circle cx="619.37" cy="1299.36" r="4.05" fill="#35b779" fill-opacity="0.69" stroke="#35b779" stroke-opacity="0.41" stroke-width="1"/>
<circle cx="549.25" cy="1475.77" r="4.05" fill="#26828e" fill-opacity="0.69" stroke="#26828e" stroke-opacity="0.41" stroke-width="1"/>
<circle cx="605.51" cy="1475.83" r="4.05" fill="#31688e" fill-opacity="0.69" stroke="#31688e" stroke-opacity="0.41" stroke-width="1"/>
<circle cx="485.81" cy="1301.29" r="4.05" fill="#481668" fill-opacity="0.69" stroke="#481668" stroke-opacity="0.41" stroke-width="1"/>
<circle cx="542.1" cy="1301.34" r="4.05" fill="#b5de2b" fill-opacity="0.69" stroke="#b5de2b" stroke-opacity="0.41" stroke-width="1"/>
<circle cx="598.4" cy="1301.39" r="4.05" fill="#35b779" fill-opacity="0.69" stroke="#35b779" stroke-opacity="0.41" stroke-width="1"/>
<circle cx="654.7" cy="1301.45" r="4.05" fill="#fde725" fill-opacity="0.69" stroke="#fde725" stroke-opacity="0.42" stroke-width="1"/>
<circle cx="528.21" cy="1477.96" r="4.05" fill="#3f4788" fill-opacity="0.69" stroke="#3f4788" stroke-opacity="0.42" stroke-width="1"/>
<circle cx="584.53" cy="1478.02" r="4.05" fill="#481668" fill-opacity="0.69" stroke="#481668" stroke-opacity="0.42" stroke-width="1"/>
<circle cx="521.05" cy="1303.38" r="4.05" fill="#1f9e89" fill-opacity="0.7" stroke="#1f9e89" stroke-opacity="0.42" stroke-width="1"/>
<circle cx="577.4" cy="1303.43" r="4.05" fill="#35b779" fill-opacity="0.7" stroke="#35b779" stroke-opacity="0.42" stroke-width="1"/>
<circle cx="633.75" cy="1303.49" r="4.05" fill="#fde725" fill-opacity="0.7" stroke="#fde725" stroke-opacity="0.42" stroke-width="1"/>
<circle cx="563.51" cy="1480.21" r="4.05" fill="#481668" fill-opacity="0.7" stroke="#481668" stroke-opacity="0.42" stroke-width="1"/>
<circle cx="499.96" cy="1305.42" r="4.05" fill="#3f4788" fill-opacity="0.7" stroke="#3f4788" stroke-opacity="0.42" stroke-width="1"/>
<circle cx="556.36" cy="1305.48" r="4.05" fill="#35b779" fill-opacity="0.7" stroke="#35b779" stroke-opacity="0.42" stroke-width="1"/>
<circle cx="612.76" cy="1305.53" r="4.05" fill="#35b779" fill-opacity="0.7" stroke="#35b779" stroke-opacity="0.42" stroke-width="1"/>
<circle cx="542.45" cy="1482.41" r="4.05" fill="#3f4788" fill-opacity="0.7" stroke="#3f4788" stroke-opacity="0.42" stroke-width="1"/>
<circle cx="535.28" cy="1307.52" r="4.05" fill="#6ece58" fill-opacity="0.7" stroke="#6ece58" stroke-opacity="0.42" stroke-width="1"/>
<circle cx="591.73" cy="1307.58" r="4.05" fill="#b5de2b" fill-opacity="0.7" stroke="#b5de2b" stroke-opacity="0.42" stroke-width="1"/>
<circle cx="648.18" cy="1307.63" r="4.05" fill="#fde725" fill-opacity="0.7" stroke="#fde725" stroke-opacity="0.42" stroke-width="1"/>
<circle cx="514.17" cy="1309.58" r="4.05" fill="#31688e" fill-opacity="0.71" stroke="#31688e" stroke-opacity="0.42" stroke-width="1"/>
<circle cx="570.67" cy="1309.63" r="4.05" fill="#31688e" fill-opacity="0.71" stroke="#31688e" stroke-opacity="0.42" stroke-width="1"/>
<circle cx="627.16" cy="1309.68" r="4.05" fill="#fde725" fill-opacity="0.71" stroke="#fde725" stroke-opacity="0.42" stroke-width="1"/>
<circle cx="493.02" cy="1311.63" r="4.05" fill="#3f4788" fill-opacity="0.71" stroke="#3f4788" stroke-opacity="0.43" stroke-width="1"/>
<circle cx="549.57" cy="1311.68" r="4.05" fill="#1f9e89" fill-opacity="0.71" stroke="#1f9e89" stroke-opacity="0.43" stroke-width="1"/>
<circle cx="606.11" cy="1311.74" r="4.05" fill="#35b779" fill-opacity="0.71" stroke="#35b779" stroke-opacity="0.43" stroke-width="1"/>
<circle cx="471.84" cy="1313.69" r="4.05" fill="#481668" fill-opacity="0.72" stroke="#481668" stroke-opacity="0.43" stroke-width="1"/>
<circle cx="528.43" cy="1313.74" r="4.05" fill="#1f9e89" fill-opacity="0.72" stroke="#1f9e89" stroke-opacity="0.43" stroke-width="1"/>
<circle cx="585.02" cy="1313.8" r="4.05" fill="#31688e" fill-opacity="0.72" stroke="#31688e" stroke-opacity="0.43" stroke-width="1"/>
<circle cx="641.62" cy="1313.85" r="4.05" fill="#fde725" fill-opacity="0.72" stroke="#fde725" stroke-opacity="0.43" stroke-width="1"/>
<circle cx="691.13" cy="1138.33" r="4.05" fill="#481668" fill-opacity="0.72" stroke="#481668" stroke-opacity="0.43" stroke-width="1"/>
<circle cx="507.25" cy="1315.8" r="4.05" fill="#3f4788" fill-opacity="0.72" stroke="#3f4788" stroke-opacity="0.43" stroke-width="1"/>
<circle cx="563.9" cy="1315.86" r="4.05" fill="#26828e" fill-opacity="0.72" stroke="#26828e" stroke-opacity="0.43" stroke-width="1"/>
<circle cx="620.55" cy="1315.91" r="4.05" fill="#fde725" fill-opacity="0.72" stroke="#fde725" stroke-opacity="0.43" stroke-width="1"/>
<circle cx="613.4" cy="1140.19" r="4.05" fill="#481668" fill-opacity="0.72" stroke="#481668" stroke-opacity="0.43" stroke-width="1"/>
<circle cx="486.04" cy="1317.87" r="4.05" fill="#3f4788" fill-opacity="0.72" stroke="#3f4788" stroke-opacity="0.43" stroke-width="1"/>
<circle cx="542.74" cy="1317.92" r="4.05" fill="#35b779" fill-opacity="0.72" stroke="#35b779" stroke-opacity="0.43" stroke-width="1"/>
<circle cx="599.43" cy="1317.98" r="4.05" fill="#1f9e89" fill-opacity="0.72" stroke="#1f9e89" stroke-opacity="0.43" stroke-width="1"/>
<circle cx="521.54" cy="1319.99" r="4.05" fill="#31688e" fill-opacity="0.73" stroke="#31688e" stroke-opacity="0.44" stroke-width="1"/>
<circle cx="578.28" cy="1320.05" r="4.05" fill="#26828e" fill-opacity="0.73" stroke="#26828e" stroke-opacity="0.44" stroke-width="1"/>
<circle cx="635.03" cy="1320.1" r="4.05" fill="#fde725" fill-opacity="0.73" stroke="#fde725" stroke-opacity="0.44" stroke-width="1"/>
<circle cx="613.89" cy="1322.17" r="4.05" fill="#1f9e89" fill-opacity="0.73" stroke="#1f9e89" stroke-opacity="0.44" stroke-width="1"/>
<circle cx="535.87" cy="1324.2" r="4.05" fill="#31688e" fill-opacity="0.74" stroke="#31688e" stroke-opacity="0.44" stroke-width="1"/>
<circle cx="592.72" cy="1324.25" r="4.05" fill="#1f9e89" fill-opacity="0.74" stroke="#1f9e89" stroke-opacity="0.44" stroke-width="1"/>
<circle cx="628.4" cy="1326.39" r="4.05" fill="#fde725" fill-opacity="0.74" stroke="#fde725" stroke-opacity="0.44" stroke-width="1"/>
<circle cx="564.29" cy="1149.84" r="4.05" fill="#481668" fill-opacity="0.74" stroke="#481668" stroke-opacity="0.45" stroke-width="1"/>
<circle cx="678.16" cy="1149.95" r="4.05" fill="#481668" fill-opacity="0.74" stroke="#481668" stroke-opacity="0.45" stroke-width="1"/>
<circle cx="607.2" cy="1328.47" r="4.05" fill="#35b779" fill-opacity="0.74" stroke="#35b779" stroke-opacity="0.45" stroke-width="1"/>
<circle cx="471.98" cy="1330.45" r="4.05" fill="#481668" fill-opacity="0.75" stroke="#481668" stroke-opacity="0.45" stroke-width="1"/>
<circle cx="585.97" cy="1330.56" r="4.05" fill="#31688e" fill-opacity="0.75" stroke="#31688e" stroke-opacity="0.45" stroke-width="1"/>
<circle cx="621.74" cy="1332.7" r="4.05" fill="#35b779" fill-opacity="0.75" stroke="#35b779" stroke-opacity="0.45" stroke-width="1"/>
<circle cx="429.19" cy="1334.63" r="4.05" fill="#481668" fill-opacity="0.76" stroke="#481668" stroke-opacity="0.45" stroke-width="1"/>
<circle cx="486.28" cy="1334.69" r="4.05" fill="#3f4788" fill-opacity="0.76" stroke="#3f4788" stroke-opacity="0.45" stroke-width="1"/>
<circle cx="600.48" cy="1334.8" r="4.05" fill="#3f4788" fill-opacity="0.76" stroke="#3f4788" stroke-opacity="0.45" stroke-width="1"/>
<circle cx="464.89" cy="1336.78" r="4.05" fill="#26828e" fill-opacity="0.76" stroke="#26828e" stroke-opacity="0.46" stroke-width="1"/>
<circle cx="579.18" cy="1336.9" r="4.05" fill="#481668" fill-opacity="0.76" stroke="#481668" stroke-opacity="0.46" stroke-width="1"/>
<circle cx="443.45" cy="1338.89" r="4.05" fill="#3f4788" fill-opacity="0.76" stroke="#3f4788" stroke-opacity="0.46" stroke-width="1"/>
<circle cx="500.64" cy="1338.94" r="4.05" fill="#3f4788" fill-opacity="0.76" stroke="#3f4788" stroke-opacity="0.46" stroke-width="1"/>
<circle cx="479.22" cy="1341.05" r="4.05" fill="#26828e" fill-opacity="0.77" stroke="#26828e" stroke-opacity="0.46" stroke-width="1"/>
<circle cx="593.72" cy="1341.16" r="4.05" fill="#46075a" fill-opacity="0.77" stroke="#46075a" stroke-opacity="0.46" stroke-width="1"/>
<circle cx="515.05" cy="1343.21" r="4.05" fill="#481668" fill-opacity="0.77" stroke="#481668" stroke-opacity="0.46" stroke-width="1"/>
<circle cx="493.61" cy="1345.33" r="4.05" fill="#3f4788" fill-opacity="0.78" stroke="#3f4788" stroke-opacity="0.47" stroke-width="1"/>
<circle cx="450.59" cy="1349.56" r="4.05" fill="#46075a" fill-opacity="0.78" stroke="#46075a" stroke-opacity="0.47" stroke-width="1"/>
<circle cx="508.04" cy="1349.62" r="4.05" fill="#481668" fill-opacity="0.78" stroke="#481668" stroke-opacity="0.47" stroke-width="1"/>
</g>
<g>
<polygon points="1087.18,1455.83 1322.59,1258.28 1319.43,972.92 1073.24,1153.83" fill="#fafafa" stroke="#fff" stroke-opacity="0.4" stroke-width="1.1" stroke-linejoin="round"/>
<polygon points="1322.59,1258.28 1701.43,1368.36 1714.4,1073.57 1319.43,972.92" fill="#f4f4f4" stroke="#fff" stroke-opacity="0.4" stroke-width="1.1" stroke-linejoin="round"/>
<polygon points="1087.18,1455.83 1487.85,1586.06 1701.43,1368.36 1322.59,1258.28" fill="#f7f7f7" stroke="#fff" stroke-opacity="0.4" stroke-width="1.1" stroke-linejoin="round"/>
<g fill="#fff" fill-opacity="0.6"><circle cx="1244.07" cy="1264.64" r="5.6"/><circle cx="1251.36" cy="1258.68" r="5.6"/><circle cx="1257.69" cy="1268.65" r="5.6"/><circle cx="1264.96" cy="1262.67" r="5.6"/><circle cx="1272.19" cy="1256.71" r="5.6"/><circle cx="1271.37" cy="1272.67" r="5.6"/><circle cx="1278.61" cy="1266.67" r="5.6"/><circle cx="1285.81" cy="1260.7" r="5.6"/><circle cx="1292.98" cy="1254.75" r="5.6"/><circle cx="1300.11" cy="1248.84" r="5.6"/><circle cx="1285.08" cy="1276.71" r="5.6"/><circle cx="1292.3" cy="1270.68" r="5.6"/><circle cx="1299.49" cy="1264.69" r="5.6"/><circle cx="1306.63" cy="1258.73" r="5.6"/><circle cx="1313.74" cy="1252.8" r="5.6"/><circle cx="1298.85" cy="1280.76" r="5.6"/><circle cx="1306.05" cy="1274.72" r="5.6"/><circle cx="1313.21" cy="1268.7" r="5.6"/><circle cx="1320.33" cy="1262.72" r="5.6"/><circle cx="1327.41" cy="1256.76" r="5.6"/><circle cx="1334.46" cy="1250.84" r="5.6"/><circle cx="1312.67" cy="1284.83" r="5.6"/><circle cx="1319.84" cy="1278.76" r="5.6"/><circle cx="1326.97" cy="1272.72" r="5.6"/><circle cx="1334.07" cy="1266.72" r="5.6"/><circle cx="1341.14" cy="1260.75" r="5.6"/><circle cx="1348.16" cy="1254.8" r="5.6"/><circle cx="1326.53" cy="1288.91" r="5.6"/><circle cx="1333.68" cy="1282.82" r="5.6"/><circle cx="1340.79" cy="1276.76" r="5.6"/><circle cx="1347.87" cy="1270.74" r="5.6"/><circle cx="1354.9" cy="1264.74" r="5.6"/><circle cx="1361.91" cy="1258.78" r="5.6"/><circle cx="1368.87" cy="1252.85" r="5.6"/><circle cx="1361.71" cy="1274.77" r="5.6"/><circle cx="1368.72" cy="1268.75" r="5.6"/><circle cx="1375.7" cy="1262.77" r="5.6"/><circle cx="1382.64" cy="1256.82" r="5.6"/><circle cx="1389.55" cy="1250.89" r="5.6"/><circle cx="1396.46" cy="1260.8" r="5.6"/><circle cx="1403.35" cy="1254.86" r="5.6"/><circle cx="1417.19" cy="1258.83" r="5.6"/><circle cx="1424.01" cy="1252.9" r="5.6"/><circle cx="1431.08" cy="1262.82" r="5.6"/><circle cx="1437.88" cy="1256.87" r="5.6"/><circle cx="1445.01" cy="1266.83" r="5.6"/><circle cx="1451.79" cy="1260.85" r="5.6"/><circle cx="1458.53" cy="1254.91" r="5.6"/><circle cx="1465.24" cy="1249" r="5.6"/><circle cx="1471.91" cy="1243.11" r="5.6"/><circle cx="1472.47" cy="1258.88" r="5.6"/><circle cx="1479.15" cy="1252.95" r="5.6"/><circle cx="1485.8" cy="1247.05" r="5.6"/><circle cx="1492.42" cy="1241.18" r="5.6"/><circle cx="1438.86" cy="1305.42" r="5.6"/><circle cx="1445.77" cy="1299.25" r="5.6"/><circle cx="1452.64" cy="1293.11" r="5.6"/><circle cx="1459.47" cy="1287" r="5.6"/><circle cx="1466.27" cy="1280.92" r="5.6"/><circle cx="1473.03" cy="1274.87" r="5.6"/><circle cx="1479.76" cy="1268.86" r="5.6"/><circle cx="1486.45" cy="1262.87" r="5.6"/><circle cx="1493.11" cy="1256.92" r="5.6"/><circle cx="1499.74" cy="1251" r="5.6"/><circle cx="1506.33" cy="1245.11" r="5.6"/><circle cx="1453.07" cy="1309.58" r="5.6"/><circle cx="1459.95" cy="1303.38" r="5.6"/><circle cx="1466.8" cy="1297.22" r="5.6"/><circle cx="1473.6" cy="1291.09" r="5.6"/><circle cx="1480.38" cy="1284.99" r="5.6"/><circle cx="1487.12" cy="1278.92" r="5.6"/><circle cx="1493.82" cy="1272.88" r="5.6"/><circle cx="1500.49" cy="1266.88" r="5.6"/><circle cx="1507.12" cy="1260.9" r="5.6"/><circle cx="1513.72" cy="1254.96" r="5.6"/><circle cx="1520.29" cy="1249.05" r="5.6"/><circle cx="1526.82" cy="1243.17" r="5.6"/><circle cx="1467.33" cy="1313.74" r="5.6"/><circle cx="1474.18" cy="1307.52" r="5.6"/><circle cx="1481" cy="1301.34" r="5.6"/><circle cx="1487.79" cy="1295.19" r="5.6"/><circle cx="1494.53" cy="1289.07" r="5.6"/><circle cx="1501.25" cy="1282.98" r="5.6"/><circle cx="1507.93" cy="1276.92" r="5.6"/><circle cx="1514.57" cy="1270.9" r="5.6"/><circle cx="1521.18" cy="1264.9" r="5.6"/><circle cx="1527.75" cy="1258.94" r="5.6"/><circle cx="1534.3" cy="1253" r="5.6"/><circle cx="1540.8" cy="1247.1" r="5.6"/><circle cx="1547.28" cy="1241.23" r="5.6"/><circle cx="1481.64" cy="1317.92" r="5.6"/><circle cx="1488.47" cy="1311.68" r="5.6"/><circle cx="1495.26" cy="1305.48" r="5.6"/><circle cx="1502.02" cy="1299.3" r="5.6"/><circle cx="1508.74" cy="1293.16" r="5.6"/><circle cx="1515.43" cy="1287.05" r="5.6"/><circle cx="1522.08" cy="1280.97" r="5.6"/><circle cx="1528.7" cy="1274.93" r="5.6"/><circle cx="1535.28" cy="1268.91" r="5.6"/><circle cx="1541.83" cy="1262.93" r="5.6"/><circle cx="1548.35" cy="1256.97" r="5.6"/><circle cx="1554.83" cy="1251.05" r="5.6"/><circle cx="1561.28" cy="1245.16" r="5.6"/><circle cx="1495.99" cy="1322.12" r="5.6"/><circle cx="1502.8" cy="1315.86" r="5.6"/><circle cx="1509.57" cy="1309.63" r="5.6"/><circle cx="1516.3" cy="1303.43" r="5.6"/><circle cx="1523" cy="1297.27" r="5.6"/><circle cx="1529.66" cy="1291.14" r="5.6"/><circle cx="1536.29" cy="1285.04" r="5.6"/><circle cx="1542.88" cy="1278.97" r="5.6"/><circle cx="1549.44" cy="1272.94" r="5.6"/><circle cx="1555.96" cy="1266.93" r="5.6"/><circle cx="1562.45" cy="1260.96" r="5.6"/><circle cx="1568.91" cy="1255.01" r="5.6"/><circle cx="1575.34" cy="1249.1" r="5.6"/><circle cx="1581.73" cy="1243.22" r="5.6"/><circle cx="1517.18" cy="1320.05" r="5.6"/><circle cx="1523.92" cy="1313.8" r="5.6"/><circle cx="1530.63" cy="1307.58" r="5.6"/><circle cx="1537.3" cy="1301.39" r="5.6"/><circle cx="1543.94" cy="1295.24" r="5.6"/><circle cx="1550.54" cy="1289.12" r="5.6"/><circle cx="1557.11" cy="1283.03" r="5.6"/><circle cx="1563.64" cy="1276.97" r="5.6"/><circle cx="1570.14" cy="1270.95" r="5.6"/><circle cx="1576.61" cy="1264.95" r="5.6"/><circle cx="1583.04" cy="1258.99" r="5.6"/><circle cx="1589.44" cy="1253.06" r="5.6"/><circle cx="1595.81" cy="1247.15" r="5.6"/><circle cx="1538.33" cy="1317.98" r="5.6"/><circle cx="1545.01" cy="1311.74" r="5.6"/><circle cx="1551.66" cy="1305.53" r="5.6"/><circle cx="1558.27" cy="1299.36" r="5.6"/><circle cx="1564.84" cy="1293.22" r="5.6"/><circle cx="1571.39" cy="1287.11" r="5.6"/><circle cx="1577.89" cy="1281.03" r="5.6"/><circle cx="1584.37" cy="1274.98" r="5.6"/><circle cx="1590.81" cy="1268.96" r="5.6"/><circle cx="1597.22" cy="1262.98" r="5.6"/><circle cx="1603.59" cy="1257.03" r="5.6"/><circle cx="1552.79" cy="1322.17" r="5.6"/><circle cx="1559.45" cy="1315.91" r="5.6"/><circle cx="1566.06" cy="1309.68" r="5.6"/><circle cx="1572.65" cy="1303.49" r="5.6"/><circle cx="1579.2" cy="1297.32" r="5.6"/><circle cx="1585.71" cy="1291.19" r="5.6"/><circle cx="1592.2" cy="1285.09" r="5.6"/><circle cx="1598.65" cy="1279.03" r="5.6"/><circle cx="1605.06" cy="1272.99" r="5.6"/><circle cx="1611.44" cy="1266.98" r="5.6"/><circle cx="1617.79" cy="1261.01" r="5.6"/><circle cx="1560.64" cy="1332.7" r="5.6"/><circle cx="1567.3" cy="1326.39" r="5.6"/><circle cx="1573.93" cy="1320.1" r="5.6"/><circle cx="1580.52" cy="1313.85" r="5.6"/><circle cx="1587.08" cy="1307.63" r="5.6"/><circle cx="1593.6" cy="1301.45" r="5.6"/><circle cx="1600.09" cy="1295.29" r="5.6"/><circle cx="1606.55" cy="1289.17" r="5.6"/><circle cx="1612.97" cy="1283.08" r="5.6"/><circle cx="1619.36" cy="1277.03" r="5.6"/><circle cx="1625.72" cy="1271" r="5.6"/><circle cx="1632.04" cy="1265.01" r="5.6"/><circle cx="1615.47" cy="1134.47" r="5.6"/><circle cx="1630.03" cy="1138.33" r="5.6"/><circle cx="1537.76" cy="1482.47" r="5.6"/><circle cx="1544.41" cy="1475.83" r="5.6"/><circle cx="1551.03" cy="1469.23" r="5.6"/><circle cx="1557.61" cy="1462.66" r="5.6"/><circle cx="1564.15" cy="1456.12" r="5.6"/><circle cx="1536.74" cy="1464.82" r="5.6"/><circle cx="1543.35" cy="1458.28" r="5.6"/></g>
<g stroke-opacity="0.5">
<polyline points="1103.62,1461.17 1338.19,1262.81 1335.68,979.22" fill="none" stroke="#fff" stroke-width="4.0" />
<polyline points="1171.2,1483.14 1402.28,1281.43 1402.39,996.24" fill="none" stroke="#fff" stroke-width="4.0" />
<polyline points="1239.97,1505.49 1467.41,1300.36 1470.22,1013.54" fill="none" stroke="#fff" stroke-width="4.0" />
<polyline points="1309.96,1528.24 1533.61,1319.59 1539.2,1031.14" fill="none" stroke="#fff" stroke-width="4.0" />
<polyline points="1381.2,1551.4 1600.89,1339.15 1609.37,1049.04" fill="none" stroke="#fff" stroke-width="4.0" />
<polyline points="1453.74,1574.97 1669.29,1359.02 1680.75,1067.25" fill="none" stroke="#fff" stroke-width="4.0" />
<polyline points="1519.7,1553.6 1122.16,1426.48 1110.02,1129.14" fill="none" stroke="#fff" stroke-width="4.0" />
<polyline points="1577.99,1494.18 1186.3,1372.65 1177.18,1079.74" fill="none" stroke="#fff" stroke-width="4.0" />
<polyline points="1633.69,1437.41 1247.72,1321.11 1241.36,1032.52" fill="none" stroke="#fff" stroke-width="4.0" />
<polyline points="1686.96,1383.11 1306.58,1271.71 1302.77,987.35" fill="none" stroke="#fff" stroke-width="4.0" />
<polyline points="1086.35,1437.71 1322.4,1241.1 1702.21,1350.65" fill="none" stroke="#fff" stroke-width="4.0" />
<polyline points="1080.38,1308.6 1321.05,1118.91 1707.76,1224.53" fill="none" stroke="#fff" stroke-width="4.0" />
<polyline points="1074.19,1174.47 1319.65,992.36 1713.52,1093.69" fill="none" stroke="#fff" stroke-width="4.0" />
</g>
<polyline points="1103.62,1461.17 1338.19,1262.81 1335.68,979.22" fill="none" stroke="#bababa" stroke-width="2.2" />
<polyline points="1171.2,1483.14 1402.28,1281.43 1402.39,996.24" fill="none" stroke="#bababa" stroke-width="2.2" />
<polyline points="1239.97,1505.49 1467.41,1300.36 1470.22,1013.54" fill="none" stroke="#bababa" stroke-width="2.2" />
<polyline points="1309.96,1528.24 1533.61,1319.59 1539.2,1031.14" fill="none" stroke="#bababa" stroke-width="2.2" />
<polyline points="1381.2,1551.4 1600.89,1339.15 1609.37,1049.04" fill="none" stroke="#bababa" stroke-width="2.2" />
<polyline points="1453.74,1574.97 1669.29,1359.02 1680.75,1067.25" fill="none" stroke="#bababa" stroke-width="2.2" />
<polyline points="1519.7,1553.6 1122.16,1426.48 1110.02,1129.14" fill="none" stroke="#bababa" stroke-width="2.2" />
<polyline points="1577.99,1494.18 1186.3,1372.65 1177.18,1079.74" fill="none" stroke="#bababa" stroke-width="2.2" />
<polyline points="1633.69,1437.41 1247.72,1321.11 1241.36,1032.52" fill="none" stroke="#bababa" stroke-width="2.2" />
<polyline points="1686.96,1383.11 1306.58,1271.71 1302.77,987.35" fill="none" stroke="#bababa" stroke-width="2.2" />
<polyline points="1086.35,1437.71 1322.4,1241.1 1702.21,1350.65" fill="none" stroke="#bababa" stroke-width="2.2" />
<polyline points="1080.38,1308.6 1321.05,1118.91 1707.76,1224.53" fill="none" stroke="#bababa" stroke-width="2.2" />
<polyline points="1074.19,1174.47 1319.65,992.36 1713.52,1093.69" fill="none" stroke="#bababa" stroke-width="2.2" />
<polyline points="1087.18,1455.83 1487.85,1586.06" fill="none" stroke="#000" stroke-width="2.2" stroke-linecap="square"/>
<polyline points="1487.85,1586.06 1701.43,1368.36" fill="none" stroke="#000" stroke-width="2.2" stroke-linecap="square"/>
<polyline points="1701.43,1368.36 1714.4,1073.57" fill="none" stroke="#000" stroke-width="2.2" stroke-linecap="square"/>
<polyline points="1098.73,1465.31 1106.37,1458.85" fill="none" stroke="#000" stroke-width="2.2" />
<text x="1084.22" y="1530.57" font-size="39" text-anchor="middle" textLength="83.5" lengthAdjust="spacingAndGlyphs" stroke="#fff" stroke-width="0.55" >−600</text>
<polyline points="1166.38,1487.35 1173.91,1480.77" fill="none" stroke="#000" stroke-width="2.2" />
<text x="1151.8" y="1553.12" font-size="39" text-anchor="middle" textLength="83.5" lengthAdjust="spacingAndGlyphs" stroke="#fff" stroke-width="0.55" >−500</text>
<polyline points="1235.21,1509.78 1242.64,1503.08" fill="none" stroke="#000" stroke-width="2.2" />
<text x="1220.57" y="1576.05" font-size="39" text-anchor="middle" textLength="83.5" lengthAdjust="spacingAndGlyphs" stroke="#fff" stroke-width="0.55" >−400</text>
<polyline points="1305.28,1532.61 1312.59,1525.78" fill="none" stroke="#000" stroke-width="2.2" />
<text x="1290.56" y="1599.38" font-size="39" text-anchor="middle" textLength="83.5" lengthAdjust="spacingAndGlyphs" stroke="#fff" stroke-width="0.55" >−300</text>
<polyline points="1376.6,1555.84 1383.79,1548.89" fill="none" stroke="#000" stroke-width="2.2" />
<text x="1361.8" y="1623.12" font-size="39" text-anchor="middle" textLength="83.5" lengthAdjust="spacingAndGlyphs" stroke="#fff" stroke-width="0.55" >−200</text>
<polyline points="1449.22,1579.5 1456.28,1572.42" fill="none" stroke="#000" stroke-width="2.2" />
<text x="1434.34" y="1647.27" font-size="39" text-anchor="middle" textLength="83.5" lengthAdjust="spacingAndGlyphs" stroke="#fff" stroke-width="0.55" >−100</text>
<polyline points="1526.93,1555.92 1515.41,1552.23" fill="none" stroke="#000" stroke-width="2.2" />
<text x="1554.9" y="1617" font-size="39" text-anchor="middle" textLength="56" lengthAdjust="spacingAndGlyphs" stroke="#fff" stroke-width="0.55" >200</text>
<polyline points="1585.25,1496.43 1573.69,1492.85" fill="none" stroke="#000" stroke-width="2.2" />
<text x="1611.75" y="1556.5" font-size="39" text-anchor="middle" textLength="56" lengthAdjust="spacingAndGlyphs" stroke="#fff" stroke-width="0.55" >400</text>
<polyline points="1640.96,1439.6 1629.38,1436.11" fill="none" stroke="#000" stroke-width="2.2" />
<text x="1666.85" y="1498.85" font-size="39" text-anchor="middle" textLength="56" lengthAdjust="spacingAndGlyphs" stroke="#fff" stroke-width="0.55" >600</text>
<polyline points="1694.25,1385.25 1682.64,1381.85" fill="none" stroke="#000" stroke-width="2.2" />
<text x="1719.2" y="1443.45" font-size="39" text-anchor="middle" textLength="56" lengthAdjust="spacingAndGlyphs" stroke="#fff" stroke-width="0.55" >800</text>
<polyline points="1709.7,1352.81 1698.08,1349.46" fill="none" stroke="#000" stroke-width="2.2" />
<text x="1751.4" y="1370.8" font-size="39" text-anchor="middle" textLength="18.5" lengthAdjust="spacingAndGlyphs" stroke="#fff" stroke-width="0.55" >0</text>
<polyline points="1715.28,1226.58 1703.61,1223.4" fill="none" stroke="#000" stroke-width="2.2" />
<text x="1757.8" y="1245" font-size="39" text-anchor="middle" textLength="18.5" lengthAdjust="spacingAndGlyphs" stroke="#fff" stroke-width="0.55" >6</text>
<polyline points="1721.07,1095.64 1709.35,1092.62" fill="none" stroke="#000" stroke-width="2.2" />
<text x="1765.6" y="1114.4" font-size="39" text-anchor="middle" textLength="35.5" lengthAdjust="spacingAndGlyphs" stroke="#fff" stroke-width="0.55" >12</text>
<text x="1239.1" y="1624.5" font-size="39" text-anchor="middle" textLength="26.4" lengthAdjust="spacingAndGlyphs" stroke="#fff" stroke-width="0.55" >X</text>
<text x="1672.1" y="1557.6" font-size="39" text-anchor="middle" textLength="27.7" lengthAdjust="spacingAndGlyphs" stroke="#fff" stroke-width="0.55" >Y</text>
<text x="1816.3" y="1219.5" font-size="39" text-anchor="middle" textLength="20.3" lengthAdjust="spacingAndGlyphs" stroke="#fff" stroke-width="0.55" >Z</text>
<circle cx="1492.42" cy="1241.18" r="4.05" fill="#481668" fill-opacity="0.58" stroke="#481668" stroke-opacity="0.35" stroke-width="1"/>
<circle cx="1547.28" cy="1241.23" r="4.05" fill="#481668" fill-opacity="0.58" stroke="#481668" stroke-opacity="0.35" stroke-width="1"/>
<circle cx="1471.91" cy="1243.11" r="4.05" fill="#481668" fill-opacity="0.58" stroke="#481668" stroke-opacity="0.35" stroke-width="1"/>
<circle cx="1526.82" cy="1243.17" r="4.05" fill="#481668" fill-opacity="0.58" stroke="#481668" stroke-opacity="0.35" stroke-width="1"/>
<circle cx="1581.73" cy="1243.22" r="4.05" fill="#481668" fill-opacity="0.58" stroke="#481668" stroke-opacity="0.35" stroke-width="1"/>
<circle cx="1506.33" cy="1245.11" r="4.05" fill="#481668" fill-opacity="0.58" stroke="#481668" stroke-opacity="0.35" stroke-width="1"/>
<circle cx="1561.28" cy="1245.16" r="4.05" fill="#481668" fill-opacity="0.58" stroke="#481668" stroke-opacity="0.35" stroke-width="1"/>
<circle cx="1485.8" cy="1247.05" r="4.05" fill="#481668" fill-opacity="0.59" stroke="#481668" stroke-opacity="0.35" stroke-width="1"/>
<circle cx="1540.8" cy="1247.1" r="4.05" fill="#481668" fill-opacity="0.59" stroke="#481668" stroke-opacity="0.35" stroke-width="1"/>
<circle cx="1595.81" cy="1247.15" r="4.05" fill="#481668" fill-opacity="0.59" stroke="#481668" stroke-opacity="0.35" stroke-width="1"/>
<circle cx="1300.11" cy="1248.84" r="4.05" fill="#481668" fill-opacity="0.59" stroke="#481668" stroke-opacity="0.35" stroke-width="1"/>
<circle cx="1465.24" cy="1249" r="4.05" fill="#481668" fill-opacity="0.59" stroke="#481668" stroke-opacity="0.35" stroke-width="1"/>
<circle cx="1520.29" cy="1249.05" r="4.05" fill="#481668" fill-opacity="0.59" stroke="#481668" stroke-opacity="0.35" stroke-width="1"/>
<circle cx="1575.34" cy="1249.1" r="4.05" fill="#481668" fill-opacity="0.59" stroke="#481668" stroke-opacity="0.35" stroke-width="1"/>
<circle cx="1334.46" cy="1250.84" r="4.05" fill="#481668" fill-opacity="0.59" stroke="#481668" stroke-opacity="0.36" stroke-width="1"/>
<circle cx="1389.55" cy="1250.89" r="4.05" fill="#481668" fill-opacity="0.59" stroke="#481668" stroke-opacity="0.36" stroke-width="1"/>
<circle cx="1499.74" cy="1251" r="4.05" fill="#481668" fill-opacity="0.59" stroke="#481668" stroke-opacity="0.36" stroke-width="1"/>
<circle cx="1554.83" cy="1251.05" r="4.05" fill="#481668" fill-opacity="0.59" stroke="#481668" stroke-opacity="0.36" stroke-width="1"/>
<circle cx="1313.74" cy="1252.8" r="4.05" fill="#481668" fill-opacity="0.6" stroke="#481668" stroke-opacity="0.36" stroke-width="1"/>
<circle cx="1368.87" cy="1252.85" r="4.05" fill="#481668" fill-opacity="0.6" stroke="#481668" stroke-opacity="0.36" stroke-width="1"/>
<circle cx="1424.01" cy="1252.9" r="4.05" fill="#481668" fill-opacity="0.6" stroke="#481668" stroke-opacity="0.36" stroke-width="1"/>
<circle cx="1479.15" cy="1252.95" r="4.05" fill="#481668" fill-opacity="0.6" stroke="#481668" stroke-opacity="0.36" stroke-width="1"/>
<circle cx="1534.3" cy="1253" r="4.05" fill="#481668" fill-opacity="0.6" stroke="#481668" stroke-opacity="0.36" stroke-width="1"/>
<circle cx="1589.44" cy="1253.06" r="4.05" fill="#481668" fill-opacity="0.6" stroke="#481668" stroke-opacity="0.36" stroke-width="1"/>
<circle cx="1292.98" cy="1254.75" r="4.05" fill="#481668" fill-opacity="0.6" stroke="#481668" stroke-opacity="0.36" stroke-width="1"/>
<circle cx="1348.16" cy="1254.8" r="4.05" fill="#481668" fill-opacity="0.6" stroke="#481668" stroke-opacity="0.36" stroke-width="1"/>
<circle cx="1403.35" cy="1254.86" r="4.05" fill="#481668" fill-opacity="0.6" stroke="#481668" stroke-opacity="0.36" stroke-width="1"/>
<circle cx="1458.53" cy="1254.91" r="4.05" fill="#481668" fill-opacity="0.6" stroke="#481668" stroke-opacity="0.36" stroke-width="1"/>
<circle cx="1513.72" cy="1254.96" r="4.05" fill="#481668" fill-opacity="0.6" stroke="#481668" stroke-opacity="0.36" stroke-width="1"/>
<circle cx="1568.91" cy="1255.01" r="4.05" fill="#481668" fill-opacity="0.6" stroke="#481668" stroke-opacity="0.36" stroke-width="1"/>
<circle cx="1272.19" cy="1256.71" r="4.05" fill="#481668" fill-opacity="0.61" stroke="#481668" stroke-opacity="0.36" stroke-width="1"/>
<circle cx="1327.41" cy="1256.76" r="4.05" fill="#481668" fill-opacity="0.61" stroke="#481668" stroke-opacity="0.36" stroke-width="1"/>
<circle cx="1382.64" cy="1256.82" r="4.05" fill="#481668" fill-opacity="0.61" stroke="#481668" stroke-opacity="0.36" stroke-width="1"/>
<circle cx="1437.88" cy="1256.87" r="4.05" fill="#481668" fill-opacity="0.61" stroke="#481668" stroke-opacity="0.36" stroke-width="1"/>
<circle cx="1493.11" cy="1256.92" r="4.05" fill="#481668" fill-opacity="0.61" stroke="#481668" stroke-opacity="0.36" stroke-width="1"/>
<circle cx="1548.35" cy="1256.97" r="4.05" fill="#481668" fill-opacity="0.61" stroke="#481668" stroke-opacity="0.36" stroke-width="1"/>
<circle cx="1603.59" cy="1257.03" r="4.05" fill="#481668" fill-opacity="0.61" stroke="#481668" stroke-opacity="0.36" stroke-width="1"/>
<circle cx="1251.36" cy="1258.68" r="4.05" fill="#481668" fill-opacity="0.61" stroke="#481668" stroke-opacity="0.37" stroke-width="1"/>
<circle cx="1306.63" cy="1258.73" r="4.05" fill="#46327e" fill-opacity="0.61" stroke="#46327e" stroke-opacity="0.37" stroke-width="1"/>
<circle cx="1361.91" cy="1258.78" r="4.05" fill="#481668" fill-opacity="0.61" stroke="#481668" stroke-opacity="0.37" stroke-width="1"/>
<circle cx="1417.19" cy="1258.83" r="4.05" fill="#481668" fill-opacity="0.61" stroke="#481668" stroke-opacity="0.37" stroke-width="1"/>
<circle cx="1472.47" cy="1258.88" r="4.05" fill="#481668" fill-opacity="0.61" stroke="#481668" stroke-opacity="0.37" stroke-width="1"/>
<circle cx="1527.75" cy="1258.94" r="4.05" fill="#481668" fill-opacity="0.61" stroke="#481668" stroke-opacity="0.37" stroke-width="1"/>
<circle cx="1583.04" cy="1258.99" r="4.05" fill="#481668" fill-opacity="0.61" stroke="#481668" stroke-opacity="0.37" stroke-width="1"/>
<circle cx="1285.81" cy="1260.7" r="4.05" fill="#481668" fill-opacity="0.61" stroke="#481668" stroke-opacity="0.37" stroke-width="1"/>
<circle cx="1341.14" cy="1260.75" r="4.05" fill="#481668" fill-opacity="0.61" stroke="#481668" stroke-opacity="0.37" stroke-width="1"/>
<circle cx="1396.46" cy="1260.8" r="4.05" fill="#481668" fill-opacity="0.61" stroke="#481668" stroke-opacity="0.37" stroke-width="1"/>
<circle cx="1451.79" cy="1260.85" r="4.05" fill="#481668" fill-opacity="0.61" stroke="#481668" stroke-opacity="0.37" stroke-width="1"/>
<circle cx="1507.12" cy="1260.9" r="4.05" fill="#481668" fill-opacity="0.61" stroke="#481668" stroke-opacity="0.37" stroke-width="1"/>
<circle cx="1562.45" cy="1260.96" r="4.05" fill="#46327e" fill-opacity="0.61" stroke="#46327e" stroke-opacity="0.37" stroke-width="1"/>
<circle cx="1617.79" cy="1261.01" r="4.05" fill="#481668" fill-opacity="0.61" stroke="#481668" stroke-opacity="0.37" stroke-width="1"/>
<circle cx="1264.96" cy="1262.67" r="4.05" fill="#481668" fill-opacity="0.62" stroke="#481668" stroke-opacity="0.37" stroke-width="1"/>
<circle cx="1320.33" cy="1262.72" r="4.05" fill="#46327e" fill-opacity="0.62" stroke="#46327e" stroke-opacity="0.37" stroke-width="1"/>
<circle cx="1375.7" cy="1262.77" r="4.05" fill="#481668" fill-opacity="0.62" stroke="#481668" stroke-opacity="0.37" stroke-width="1"/>
<circle cx="1431.08" cy="1262.82" r="4.05" fill="#481668" fill-opacity="0.62" stroke="#481668" stroke-opacity="0.37" stroke-width="1"/>
<circle cx="1486.45" cy="1262.87" r="4.05" fill="#481668" fill-opacity="0.62" stroke="#481668" stroke-opacity="0.37" stroke-width="1"/>
<circle cx="1541.83" cy="1262.93" r="4.05" fill="#46327e" fill-opacity="0.62" stroke="#46327e" stroke-opacity="0.37" stroke-width="1"/>
<circle cx="1597.22" cy="1262.98" r="4.05" fill="#481668" fill-opacity="0.62" stroke="#481668" stroke-opacity="0.37" stroke-width="1"/>
<circle cx="1244.07" cy="1264.64" r="4.05" fill="#481668" fill-opacity="0.62" stroke="#481668" stroke-opacity="0.37" stroke-width="1"/>
<circle cx="1299.49" cy="1264.69" r="4.05" fill="#46327e" fill-opacity="0.62" stroke="#46327e" stroke-opacity="0.37" stroke-width="1"/>
<circle cx="1354.9" cy="1264.74" r="4.05" fill="#481668" fill-opacity="0.62" stroke="#481668" stroke-opacity="0.37" stroke-width="1"/>
<circle cx="1521.18" cy="1264.9" r="4.05" fill="#46327e" fill-opacity="0.62" stroke="#46327e" stroke-opacity="0.37" stroke-width="1"/>
<circle cx="1576.61" cy="1264.95" r="4.05" fill="#46327e" fill-opacity="0.62" stroke="#46327e" stroke-opacity="0.37" stroke-width="1"/>
<circle cx="1632.04" cy="1265.01" r="4.05" fill="#481668" fill-opacity="0.62" stroke="#481668" stroke-opacity="0.37" stroke-width="1"/>
<circle cx="1278.61" cy="1266.67" r="4.05" fill="#481668" fill-opacity="0.62" stroke="#481668" stroke-opacity="0.37" stroke-width="1"/>
<circle cx="1334.07" cy="1266.72" r="4.05" fill="#46327e" fill-opacity="0.62" stroke="#46327e" stroke-opacity="0.37" stroke-width="1"/>
<circle cx="1445.01" cy="1266.83" r="4.05" fill="#481668" fill-opacity="0.62" stroke="#481668" stroke-opacity="0.37" stroke-width="1"/>
<circle cx="1500.49" cy="1266.88" r="4.05" fill="#46327e" fill-opacity="0.62" stroke="#46327e" stroke-opacity="0.37" stroke-width="1"/>
<circle cx="1555.96" cy="1266.93" r="4.05" fill="#46327e" fill-opacity="0.63" stroke="#46327e" stroke-opacity="0.38" stroke-width="1"/>
<circle cx="1611.44" cy="1266.98" r="4.05" fill="#46327e" fill-opacity="0.63" stroke="#46327e" stroke-opacity="0.38" stroke-width="1"/>
<circle cx="1257.69" cy="1268.65" r="4.05" fill="#481668" fill-opacity="0.63" stroke="#481668" stroke-opacity="0.38" stroke-width="1"/>
<circle cx="1313.21" cy="1268.7" r="4.05" fill="#46327e" fill-opacity="0.63" stroke="#46327e" stroke-opacity="0.38" stroke-width="1"/>
<circle cx="1368.72" cy="1268.75" r="4.05" fill="#481668" fill-opacity="0.63" stroke="#481668" stroke-opacity="0.38" stroke-width="1"/>
<circle cx="1479.76" cy="1268.86" r="4.05" fill="#481668" fill-opacity="0.63" stroke="#481668" stroke-opacity="0.38" stroke-width="1"/>
<circle cx="1535.28" cy="1268.91" r="4.05" fill="#3f4788" fill-opacity="0.63" stroke="#3f4788" stroke-opacity="0.38" stroke-width="1"/>
<circle cx="1590.81" cy="1268.96" r="4.05" fill="#46327e" fill-opacity="0.63" stroke="#46327e" stroke-opacity="0.38" stroke-width="1"/>
<circle cx="1292.3" cy="1270.68" r="4.05" fill="#481668" fill-opacity="0.63" stroke="#481668" stroke-opacity="0.38" stroke-width="1"/>
<circle cx="1347.87" cy="1270.74" r="4.05" fill="#481668" fill-opacity="0.63" stroke="#481668" stroke-opacity="0.38" stroke-width="1"/>
<circle cx="1514.57" cy="1270.9" r="4.05" fill="#3f4788" fill-opacity="0.63" stroke="#3f4788" stroke-opacity="0.38" stroke-width="1"/>
<circle cx="1570.14" cy="1270.95" r="4.05" fill="#3f4788" fill-opacity="0.63" stroke="#3f4788" stroke-opacity="0.38" stroke-width="1"/>
<circle cx="1625.72" cy="1271" r="4.05" fill="#3f4788" fill-opacity="0.63" stroke="#3f4788" stroke-opacity="0.38" stroke-width="1"/>
<circle cx="1271.37" cy="1272.67" r="4.05" fill="#481668" fill-opacity="0.64" stroke="#481668" stroke-opacity="0.38" stroke-width="1"/>
<circle cx="1326.97" cy="1272.72" r="4.05" fill="#46327e" fill-opacity="0.64" stroke="#46327e" stroke-opacity="0.38" stroke-width="1"/>
<circle cx="1493.82" cy="1272.88" r="4.05" fill="#3f4788" fill-opacity="0.64" stroke="#3f4788" stroke-opacity="0.38" stroke-width="1"/>
<circle cx="1549.44" cy="1272.94" r="4.05" fill="#3f4788" fill-opacity="0.64" stroke="#3f4788" stroke-opacity="0.38" stroke-width="1"/>
<circle cx="1605.06" cy="1272.99" r="4.05" fill="#3f4788" fill-opacity="0.64" stroke="#3f4788" stroke-opacity="0.38" stroke-width="1"/>
<circle cx="1306.05" cy="1274.72" r="4.05" fill="#46327e" fill-opacity="0.64" stroke="#46327e" stroke-opacity="0.38" stroke-width="1"/>
<circle cx="1361.71" cy="1274.77" r="4.05" fill="#481668" fill-opacity="0.64" stroke="#481668" stroke-opacity="0.38" stroke-width="1"/>
<circle cx="1473.03" cy="1274.87" r="4.05" fill="#46327e" fill-opacity="0.64" stroke="#46327e" stroke-opacity="0.38" stroke-width="1"/>
<circle cx="1528.7" cy="1274.93" r="4.05" fill="#31688e" fill-opacity="0.64" stroke="#31688e" stroke-opacity="0.38" stroke-width="1"/>
<circle cx="1584.37" cy="1274.98" r="4.05" fill="#3f4788" fill-opacity="0.64" stroke="#3f4788" stroke-opacity="0.38" stroke-width="1"/>
<circle cx="1285.08" cy="1276.71" r="4.05" fill="#481668" fill-opacity="0.64" stroke="#481668" stroke-opacity="0.39" stroke-width="1"/>
<circle cx="1340.79" cy="1276.76" r="4.05" fill="#481668" fill-opacity="0.64" stroke="#481668" stroke-opacity="0.39" stroke-width="1"/>
<circle cx="1507.93" cy="1276.92" r="4.05" fill="#31688e" fill-opacity="0.64" stroke="#31688e" stroke-opacity="0.39" stroke-width="1"/>
<circle cx="1563.64" cy="1276.97" r="4.05" fill="#31688e" fill-opacity="0.64" stroke="#31688e" stroke-opacity="0.39" stroke-width="1"/>
<circle cx="1619.36" cy="1277.03" r="4.05" fill="#26828e" fill-opacity="0.64" stroke="#26828e" stroke-opacity="0.39" stroke-width="1"/>
<circle cx="1319.84" cy="1278.76" r="4.05" fill="#46327e" fill-opacity="0.65" stroke="#46327e" stroke-opacity="0.39" stroke-width="1"/>
<circle cx="1487.12" cy="1278.92" r="4.05" fill="#31688e" fill-opacity="0.65" stroke="#31688e" stroke-opacity="0.39" stroke-width="1"/>
<circle cx="1542.88" cy="1278.97" r="4.05" fill="#26828e" fill-opacity="0.65" stroke="#26828e" stroke-opacity="0.39" stroke-width="1"/>
<circle cx="1598.65" cy="1279.03" r="4.05" fill="#26828e" fill-opacity="0.65" stroke="#26828e" stroke-opacity="0.39" stroke-width="1"/>
<circle cx="1298.85" cy="1280.76" r="4.05" fill="#481668" fill-opacity="0.65" stroke="#481668" stroke-opacity="0.39" stroke-width="1"/>
<circle cx="1466.27" cy="1280.92" r="4.05" fill="#3f4788" fill-opacity="0.65" stroke="#3f4788" stroke-opacity="0.39" stroke-width="1"/>
<circle cx="1522.08" cy="1280.97" r="4.05" fill="#1f9e89" fill-opacity="0.65" stroke="#1f9e89" stroke-opacity="0.39" stroke-width="1"/>
<circle cx="1577.89" cy="1281.03" r="4.05" fill="#1f9e89" fill-opacity="0.65" stroke="#1f9e89" stroke-opacity="0.39" stroke-width="1"/>
<circle cx="1564.15" cy="1456.12" r="4.05" fill="#fde725" fill-opacity="0.65" stroke="#fde725" stroke-opacity="0.39" stroke-width="1"/>
<circle cx="1333.68" cy="1282.82" r="4.05" fill="#481668" fill-opacity="0.66" stroke="#481668" stroke-opacity="0.39" stroke-width="1"/>
<circle cx="1501.25" cy="1282.98" r="4.05" fill="#1f9e89" fill-opacity="0.66" stroke="#1f9e89" stroke-opacity="0.39" stroke-width="1"/>
<circle cx="1557.11" cy="1283.03" r="4.05" fill="#1f9e89" fill-opacity="0.66" stroke="#1f9e89" stroke-opacity="0.39" stroke-width="1"/>
<circle cx="1612.97" cy="1283.08" r="4.05" fill="#35b779" fill-opacity="0.66" stroke="#35b779" stroke-opacity="0.39" stroke-width="1"/>
<circle cx="1543.35" cy="1458.28" r="4.05" fill="#481668" fill-opacity="0.66" stroke="#481668" stroke-opacity="0.39" stroke-width="1"/>
<circle cx="1312.67" cy="1284.83" r="4.05" fill="#481668" fill-opacity="0.66" stroke="#481668" stroke-opacity="0.4" stroke-width="1"/>
<circle cx="1480.38" cy="1284.99" r="4.05" fill="#1f9e89" fill-opacity="0.66" stroke="#1f9e89" stroke-opacity="0.4" stroke-width="1"/>
<circle cx="1536.29" cy="1285.04" r="4.05" fill="#1f9e89" fill-opacity="0.66" stroke="#1f9e89" stroke-opacity="0.4" stroke-width="1"/>
<circle cx="1592.2" cy="1285.09" r="4.05" fill="#35b779" fill-opacity="0.66" stroke="#35b779" stroke-opacity="0.4" stroke-width="1"/>
<circle cx="1459.47" cy="1287" r="4.05" fill="#31688e" fill-opacity="0.66" stroke="#31688e" stroke-opacity="0.4" stroke-width="1"/>
<circle cx="1515.43" cy="1287.05" r="4.05" fill="#6ece58" fill-opacity="0.66" stroke="#6ece58" stroke-opacity="0.4" stroke-width="1"/>
<circle cx="1571.39" cy="1287.11" r="4.05" fill="#35b779" fill-opacity="0.66" stroke="#35b779" stroke-opacity="0.4" stroke-width="1"/>
<circle cx="1557.61" cy="1462.66" r="4.05" fill="#1f9e89" fill-opacity="0.67" stroke="#1f9e89" stroke-opacity="0.4" stroke-width="1"/>
<circle cx="1326.53" cy="1288.91" r="4.05" fill="#481668" fill-opacity="0.67" stroke="#481668" stroke-opacity="0.4" stroke-width="1"/>
<circle cx="1494.53" cy="1289.07" r="4.05" fill="#6ece58" fill-opacity="0.67" stroke="#6ece58" stroke-opacity="0.4" stroke-width="1"/>
<circle cx="1550.54" cy="1289.12" r="4.05" fill="#35b779" fill-opacity="0.67" stroke="#35b779" stroke-opacity="0.4" stroke-width="1"/>
<circle cx="1606.55" cy="1289.17" r="4.05" fill="#b5de2b" fill-opacity="0.67" stroke="#b5de2b" stroke-opacity="0.4" stroke-width="1"/>
<circle cx="1536.74" cy="1464.82" r="4.05" fill="#481668" fill-opacity="0.67" stroke="#481668" stroke-opacity="0.4" stroke-width="1"/>
<circle cx="1473.6" cy="1291.09" r="4.05" fill="#35b779" fill-opacity="0.67" stroke="#35b779" stroke-opacity="0.4" stroke-width="1"/>
<circle cx="1529.66" cy="1291.14" r="4.05" fill="#6ece58" fill-opacity="0.67" stroke="#6ece58" stroke-opacity="0.4" stroke-width="1"/>
<circle cx="1585.71" cy="1291.19" r="4.05" fill="#6ece58" fill-opacity="0.67" stroke="#6ece58" stroke-opacity="0.4" stroke-width="1"/>
<circle cx="1452.64" cy="1293.11" r="4.05" fill="#31688e" fill-opacity="0.68" stroke="#31688e" stroke-opacity="0.41" stroke-width="1"/>
<circle cx="1508.74" cy="1293.16" r="4.05" fill="#b5de2b" fill-opacity="0.68" stroke="#b5de2b" stroke-opacity="0.41" stroke-width="1"/>
<circle cx="1564.84" cy="1293.22" r="4.05" fill="#35b779" fill-opacity="0.68" stroke="#35b779" stroke-opacity="0.41" stroke-width="1"/>
<circle cx="1551.03" cy="1469.23" r="4.05" fill="#375a8c" fill-opacity="0.68" stroke="#375a8c" stroke-opacity="0.41" stroke-width="1"/>
<circle cx="1487.79" cy="1295.19" r="4.05" fill="#b5de2b" fill-opacity="0.68" stroke="#b5de2b" stroke-opacity="0.41" stroke-width="1"/>
<circle cx="1543.94" cy="1295.24" r="4.05" fill="#35b779" fill-opacity="0.68" stroke="#35b779" stroke-opacity="0.41" stroke-width="1"/>
<circle cx="1600.09" cy="1295.29" r="4.05" fill="#b5de2b" fill-opacity="0.68" stroke="#b5de2b" stroke-opacity="0.41" stroke-width="1"/>
<circle cx="1466.8" cy="1297.22" r="4.05" fill="#1f9e89" fill-opacity="0.68" stroke="#1f9e89" stroke-opacity="0.41" stroke-width="1"/>
<circle cx="1523" cy="1297.27" r="4.05" fill="#6ece58" fill-opacity="0.68" stroke="#6ece58" stroke-opacity="0.41" stroke-width="1"/>
<circle cx="1579.2" cy="1297.32" r="4.05" fill="#6ece58" fill-opacity="0.68" stroke="#6ece58" stroke-opacity="0.41" stroke-width="1"/>
<circle cx="1445.77" cy="1299.25" r="4.05" fill="#3f4788" fill-opacity="0.69" stroke="#3f4788" stroke-opacity="0.41" stroke-width="1"/>
<circle cx="1502.02" cy="1299.3" r="4.05" fill="#b5de2b" fill-opacity="0.69" stroke="#b5de2b" stroke-opacity="0.41" stroke-width="1"/>
<circle cx="1558.27" cy="1299.36" r="4.05" fill="#1f9e89" fill-opacity="0.69" stroke="#1f9e89" stroke-opacity="0.41" stroke-width="1"/>
<circle cx="1544.41" cy="1475.83" r="4.05" fill="#46327e" fill-opacity="0.69" stroke="#46327e" stroke-opacity="0.41" stroke-width="1"/>
<circle cx="1481" cy="1301.34" r="4.05" fill="#35b779" fill-opacity="0.69" stroke="#35b779" stroke-opacity="0.41" stroke-width="1"/>
<circle cx="1537.3" cy="1301.39" r="4.05" fill="#26828e" fill-opacity="0.69" stroke="#26828e" stroke-opacity="0.41" stroke-width="1"/>
<circle cx="1593.6" cy="1301.45" r="4.05" fill="#fde725" fill-opacity="0.69" stroke="#fde725" stroke-opacity="0.42" stroke-width="1"/>
<circle cx="1459.95" cy="1303.38" r="4.05" fill="#31688e" fill-opacity="0.7" stroke="#31688e" stroke-opacity="0.42" stroke-width="1"/>
<circle cx="1516.3" cy="1303.43" r="4.05" fill="#35b779" fill-opacity="0.7" stroke="#35b779" stroke-opacity="0.42" stroke-width="1"/>
<circle cx="1572.65" cy="1303.49" r="4.05" fill="#6ece58" fill-opacity="0.7" stroke="#6ece58" stroke-opacity="0.42" stroke-width="1"/>
<circle cx="1438.86" cy="1305.42" r="4.05" fill="#481668" fill-opacity="0.7" stroke="#481668" stroke-opacity="0.42" stroke-width="1"/>
<circle cx="1495.26" cy="1305.48" r="4.05" fill="#6ece58" fill-opacity="0.7" stroke="#6ece58" stroke-opacity="0.42" stroke-width="1"/>
<circle cx="1551.66" cy="1305.53" r="4.05" fill="#26828e" fill-opacity="0.7" stroke="#26828e" stroke-opacity="0.42" stroke-width="1"/>
<circle cx="1537.76" cy="1482.47" r="4.05" fill="#481668" fill-opacity="0.7" stroke="#481668" stroke-opacity="0.42" stroke-width="1"/>
<circle cx="1474.18" cy="1307.52" r="4.05" fill="#26828e" fill-opacity="0.7" stroke="#26828e" stroke-opacity="0.42" stroke-width="1"/>
<circle cx="1530.63" cy="1307.58" r="4.05" fill="#31688e" fill-opacity="0.7" stroke="#31688e" stroke-opacity="0.42" stroke-width="1"/>
<circle cx="1587.08" cy="1307.63" r="4.05" fill="#fde725" fill-opacity="0.7" stroke="#fde725" stroke-opacity="0.42" stroke-width="1"/>
<circle cx="1453.07" cy="1309.58" r="4.05" fill="#481668" fill-opacity="0.71" stroke="#481668" stroke-opacity="0.42" stroke-width="1"/>
<circle cx="1509.57" cy="1309.63" r="4.05" fill="#1f9e89" fill-opacity="0.71" stroke="#1f9e89" stroke-opacity="0.42" stroke-width="1"/>
<circle cx="1566.06" cy="1309.68" r="4.05" fill="#1f9e89" fill-opacity="0.71" stroke="#1f9e89" stroke-opacity="0.42" stroke-width="1"/>
<circle cx="1615.47" cy="1134.47" r="4.05" fill="#481668" fill-opacity="0.71" stroke="#481668" stroke-opacity="0.43" stroke-width="1"/>
<circle cx="1488.47" cy="1311.68" r="4.05" fill="#26828e" fill-opacity="0.71" stroke="#26828e" stroke-opacity="0.43" stroke-width="1"/>
<circle cx="1545.01" cy="1311.74" r="4.05" fill="#3f4788" fill-opacity="0.71" stroke="#3f4788" stroke-opacity="0.43" stroke-width="1"/>
<circle cx="1467.33" cy="1313.74" r="4.05" fill="#481668" fill-opacity="0.72" stroke="#481668" stroke-opacity="0.43" stroke-width="1"/>
<circle cx="1523.92" cy="1313.8" r="4.05" fill="#3f4788" fill-opacity="0.72" stroke="#3f4788" stroke-opacity="0.43" stroke-width="1"/>
<circle cx="1580.52" cy="1313.85" r="4.05" fill="#fde725" fill-opacity="0.72" stroke="#fde725" stroke-opacity="0.43" stroke-width="1"/>
<circle cx="1630.03" cy="1138.33" r="4.05" fill="#481668" fill-opacity="0.72" stroke="#481668" stroke-opacity="0.43" stroke-width="1"/>
<circle cx="1502.8" cy="1315.86" r="4.05" fill="#3f4788" fill-opacity="0.72" stroke="#3f4788" stroke-opacity="0.43" stroke-width="1"/>
<circle cx="1559.45" cy="1315.91" r="4.05" fill="#26828e" fill-opacity="0.72" stroke="#26828e" stroke-opacity="0.43" stroke-width="1"/>
<circle cx="1481.64" cy="1317.92" r="4.05" fill="#481668" fill-opacity="0.72" stroke="#481668" stroke-opacity="0.43" stroke-width="1"/>
<circle cx="1538.33" cy="1317.98" r="4.05" fill="#481668" fill-opacity="0.72" stroke="#481668" stroke-opacity="0.43" stroke-width="1"/>
<circle cx="1517.18" cy="1320.05" r="4.05" fill="#481668" fill-opacity="0.73" stroke="#481668" stroke-opacity="0.44" stroke-width="1"/>
<circle cx="1573.93" cy="1320.1" r="4.05" fill="#fde725" fill-opacity="0.73" stroke="#fde725" stroke-opacity="0.44" stroke-width="1"/>
<circle cx="1495.99" cy="1322.12" r="4.05" fill="#481668" fill-opacity="0.73" stroke="#481668" stroke-opacity="0.44" stroke-width="1"/>
<circle cx="1552.79" cy="1322.17" r="4.05" fill="#31688e" fill-opacity="0.73" stroke="#31688e" stroke-opacity="0.44" stroke-width="1"/>
<circle cx="1567.3" cy="1326.39" r="4.05" fill="#fde725" fill-opacity="0.74" stroke="#fde725" stroke-opacity="0.44" stroke-width="1"/>
<circle cx="1560.64" cy="1332.7" r="4.05" fill="#26828e" fill-opacity="0.75" stroke="#26828e" stroke-opacity="0.45" stroke-width="1"/>
</g>
<g>
<polygon points="148.28,2185.68 383.69,1988.13 380.53,1702.77 134.34,1883.68" fill="#fafafa" stroke="#fff" stroke-opacity="0.4" stroke-width="1.1" stroke-linejoin="round"/>
<polygon points="383.69,1988.13 762.53,2098.21 775.5,1803.42 380.53,1702.77" fill="#f4f4f4" stroke="#fff" stroke-opacity="0.4" stroke-width="1.1" stroke-linejoin="round"/>
<polygon points="148.28,2185.68 548.95,2315.91 762.53,2098.21 383.69,1988.13" fill="#f7f7f7" stroke="#fff" stroke-opacity="0.4" stroke-width="1.1" stroke-linejoin="round"/>
<g fill="#fff" fill-opacity="0.6"><circle cx="331.63" cy="2018.7" r="5.6"/><circle cx="338.93" cy="2012.62" r="5.6"/><circle cx="346.18" cy="2006.56" r="5.6"/><circle cx="353.4" cy="2000.53" r="5.6"/><circle cx="338.14" cy="2028.94" r="5.6"/><circle cx="345.45" cy="2022.8" r="5.6"/><circle cx="352.72" cy="2016.69" r="5.6"/><circle cx="359.95" cy="2010.61" r="5.6"/><circle cx="367.15" cy="2004.57" r="5.6"/><circle cx="374.31" cy="1998.55" r="5.6"/><circle cx="381.43" cy="1992.57" r="5.6"/><circle cx="352.02" cy="2033.07" r="5.6"/><circle cx="359.31" cy="2026.9" r="5.6"/><circle cx="366.56" cy="2020.77" r="5.6"/><circle cx="373.77" cy="2014.68" r="5.6"/><circle cx="380.94" cy="2008.61" r="5.6"/><circle cx="388.07" cy="2002.57" r="5.6"/><circle cx="395.17" cy="1996.57" r="5.6"/><circle cx="402.24" cy="1990.6" r="5.6"/><circle cx="365.96" cy="2037.21" r="5.6"/><circle cx="373.22" cy="2031.03" r="5.6"/><circle cx="380.44" cy="2024.88" r="5.6"/><circle cx="387.63" cy="2018.76" r="5.6"/><circle cx="394.78" cy="2012.67" r="5.6"/><circle cx="401.89" cy="2006.61" r="5.6"/><circle cx="408.97" cy="2000.59" r="5.6"/><circle cx="416" cy="1994.59" r="5.6"/><circle cx="423.01" cy="1988.63" r="5.6"/><circle cx="387.18" cy="2035.16" r="5.6"/><circle cx="394.38" cy="2028.99" r="5.6"/><circle cx="401.54" cy="2022.85" r="5.6"/><circle cx="408.67" cy="2016.74" r="5.6"/><circle cx="415.76" cy="2010.66" r="5.6"/><circle cx="422.81" cy="2004.62" r="5.6"/><circle cx="429.82" cy="1998.6" r="5.6"/><circle cx="436.8" cy="1992.62" r="5.6"/><circle cx="443.74" cy="1986.67" r="5.6"/><circle cx="450.65" cy="1980.74" r="5.6"/><circle cx="415.5" cy="2026.96" r="5.6"/><circle cx="422.6" cy="2020.83" r="5.6"/><circle cx="429.67" cy="2014.73" r="5.6"/><circle cx="436.7" cy="2008.66" r="5.6"/><circle cx="443.69" cy="2002.63" r="5.6"/><circle cx="450.64" cy="1996.62" r="5.6"/><circle cx="457.56" cy="1990.65" r="5.6"/><circle cx="464.45" cy="1984.71" r="5.6"/><circle cx="400.83" cy="2056.01" r="5.6"/><circle cx="408.06" cy="2049.73" r="5.6"/><circle cx="415.24" cy="2043.48" r="5.6"/><circle cx="422.4" cy="2037.27" r="5.6"/><circle cx="429.51" cy="2031.08" r="5.6"/><circle cx="436.59" cy="2024.93" r="5.6"/><circle cx="443.63" cy="2018.81" r="5.6"/><circle cx="450.63" cy="2012.72" r="5.6"/><circle cx="457.6" cy="2006.67" r="5.6"/><circle cx="464.53" cy="2000.64" r="5.6"/><circle cx="471.43" cy="1994.65" r="5.6"/><circle cx="478.29" cy="1988.68" r="5.6"/><circle cx="485.11" cy="1982.75" r="5.6"/><circle cx="429.35" cy="2047.66" r="5.6"/><circle cx="436.48" cy="2041.42" r="5.6"/><circle cx="450.62" cy="2029.05" r="5.6"/><circle cx="457.64" cy="2022.9" r="5.6"/><circle cx="464.62" cy="2016.79" r="5.6"/><circle cx="471.56" cy="2010.72" r="5.6"/><circle cx="478.47" cy="2004.67" r="5.6"/><circle cx="485.34" cy="1998.66" r="5.6"/><circle cx="492.18" cy="1992.67" r="5.6"/><circle cx="498.98" cy="1986.72" r="5.6"/><circle cx="443.51" cy="2051.86" r="5.6"/><circle cx="450.61" cy="2045.6" r="5.6"/><circle cx="457.68" cy="2039.37" r="5.6"/><circle cx="464.71" cy="2033.18" r="5.6"/><circle cx="471.7" cy="2027.01" r="5.6"/><circle cx="478.65" cy="2020.88" r="5.6"/><circle cx="485.57" cy="2014.78" r="5.6"/><circle cx="492.45" cy="2008.72" r="5.6"/><circle cx="499.3" cy="2002.68" r="5.6"/><circle cx="506.11" cy="1996.68" r="5.6"/><circle cx="512.89" cy="1990.7" r="5.6"/><circle cx="464.79" cy="2049.79" r="5.6"/><circle cx="471.84" cy="2043.54" r="5.6"/><circle cx="492.74" cy="2024.98" r="5.6"/><circle cx="506.49" cy="2012.77" r="5.6"/><circle cx="513.31" cy="2006.72" r="5.6"/><circle cx="520.1" cy="2000.69" r="5.6"/><circle cx="526.85" cy="1994.7" r="5.6"/><circle cx="533.57" cy="1988.73" r="5.6"/><circle cx="493.02" cy="2041.48" r="5.6"/><circle cx="499.96" cy="2035.27" r="5.6"/><circle cx="506.87" cy="2029.1" r="5.6"/><circle cx="513.74" cy="2022.96" r="5.6"/><circle cx="520.57" cy="2016.85" r="5.6"/><circle cx="527.37" cy="2010.77" r="5.6"/><circle cx="534.13" cy="2004.72" r="5.6"/><circle cx="540.86" cy="1998.71" r="5.6"/><circle cx="547.55" cy="1992.72" r="5.6"/><circle cx="554.21" cy="1986.77" r="5.6"/><circle cx="500.3" cy="2051.91" r="5.6"/><circle cx="507.25" cy="2045.65" r="5.6"/><circle cx="514.17" cy="2039.43" r="5.6"/><circle cx="521.05" cy="2033.23" r="5.6"/><circle cx="527.9" cy="2027.07" r="5.6"/><circle cx="548.22" cy="2008.77" r="5.6"/><circle cx="554.92" cy="2002.73" r="5.6"/><circle cx="561.59" cy="1996.73" r="5.6"/><circle cx="568.22" cy="1990.75" r="5.6"/><circle cx="542.74" cy="2047.77" r="5.6"/><circle cx="542.1" cy="2031.19" r="5.6"/><circle cx="548.89" cy="2025.04" r="5.6"/><circle cx="555.63" cy="2018.92" r="5.6"/><circle cx="575.67" cy="2000.75" r="5.6"/><circle cx="582.28" cy="1994.75" r="5.6"/><circle cx="589.8" cy="2004.78" r="5.6"/><circle cx="596.38" cy="1998.76" r="5.6"/><circle cx="602.93" cy="1992.78" r="5.6"/><circle cx="597.39" cy="2014.89" r="5.6"/><circle cx="603.98" cy="2008.82" r="5.6"/><circle cx="610.54" cy="2002.79" r="5.6"/><circle cx="617.06" cy="1996.78" r="5.6"/><circle cx="457.54" cy="1873.77" r="5.6"/><circle cx="464.6" cy="1867.98" r="5.6"/><circle cx="478.8" cy="1871.85" r="5.6"/><circle cx="528.11" cy="1862.27" r="5.6"/><circle cx="542.39" cy="1866.12" r="5.6"/><circle cx="577.82" cy="2214.52" r="5.6"/><circle cx="584.53" cy="2207.87" r="5.6"/><circle cx="597.84" cy="2194.67" r="5.6"/><circle cx="598.86" cy="2212.32" r="5.6"/><circle cx="605.51" cy="2205.68" r="5.6"/><circle cx="612.13" cy="2199.08" r="5.6"/></g>
<g stroke-opacity="0.5">
<polyline points="164.72,2191.02 399.29,1992.66 396.78,1709.07" fill="none" stroke="#fff" stroke-width="4.0" />
<polyline points="232.3,2212.99 463.38,2011.28 463.49,1726.09" fill="none" stroke="#fff" stroke-width="4.0" />
<polyline points="301.07,2235.34 528.51,2030.21 531.32,1743.39" fill="none" stroke="#fff" stroke-width="4.0" />
<polyline points="371.06,2258.09 594.71,2049.44 600.3,1760.99" fill="none" stroke="#fff" stroke-width="4.0" />
<polyline points="442.3,2281.25 661.99,2069 670.47,1778.89" fill="none" stroke="#fff" stroke-width="4.0" />
<polyline points="514.84,2304.82 730.39,2088.87 741.85,1797.1" fill="none" stroke="#fff" stroke-width="4.0" />
<polyline points="580.8,2283.45 183.26,2156.33 171.12,1858.99" fill="none" stroke="#fff" stroke-width="4.0" />
<polyline points="639.09,2224.03 247.4,2102.5 238.28,1809.59" fill="none" stroke="#fff" stroke-width="4.0" />
<polyline points="694.79,2167.26 308.82,2050.96 302.46,1762.37" fill="none" stroke="#fff" stroke-width="4.0" />
<polyline points="748.06,2112.96 367.68,2001.56 363.87,1717.2" fill="none" stroke="#fff" stroke-width="4.0" />
<polyline points="147.45,2167.56 383.5,1970.95 763.31,2080.5" fill="none" stroke="#fff" stroke-width="4.0" />
<polyline points="141.48,2038.45 382.15,1848.76 768.86,1954.38" fill="none" stroke="#fff" stroke-width="4.0" />
<polyline points="135.29,1904.32 380.75,1722.21 774.62,1823.54" fill="none" stroke="#fff" stroke-width="4.0" />
</g>
<polyline points="164.72,2191.02 399.29,1992.66 396.78,1709.07" fill="none" stroke="#bababa" stroke-width="2.2" />
<polyline points="232.3,2212.99 463.38,2011.28 463.49,1726.09" fill="none" stroke="#bababa" stroke-width="2.2" />
<polyline points="301.07,2235.34 528.51,2030.21 531.32,1743.39" fill="none" stroke="#bababa" stroke-width="2.2" />
<polyline points="371.06,2258.09 594.71,2049.44 600.3,1760.99" fill="none" stroke="#bababa" stroke-width="2.2" />
<polyline points="442.3,2281.25 661.99,2069 670.47,1778.89" fill="none" stroke="#bababa" stroke-width="2.2" />
<polyline points="514.84,2304.82 730.39,2088.87 741.85,1797.1" fill="none" stroke="#bababa" stroke-width="2.2" />
<polyline points="580.8,2283.45 183.26,2156.33 171.12,1858.99" fill="none" stroke="#bababa" stroke-width="2.2" />
<polyline points="639.09,2224.03 247.4,2102.5 238.28,1809.59" fill="none" stroke="#bababa" stroke-width="2.2" />
<polyline points="694.79,2167.26 308.82,2050.96 302.46,1762.37" fill="none" stroke="#bababa" stroke-width="2.2" />
<polyline points="748.06,2112.96 367.68,2001.56 363.87,1717.2" fill="none" stroke="#bababa" stroke-width="2.2" />
<polyline points="147.45,2167.56 383.5,1970.95 763.31,2080.5" fill="none" stroke="#bababa" stroke-width="2.2" />
<polyline points="141.48,2038.45 382.15,1848.76 768.86,1954.38" fill="none" stroke="#bababa" stroke-width="2.2" />
<polyline points="135.29,1904.32 380.75,1722.21 774.62,1823.54" fill="none" stroke="#bababa" stroke-width="2.2" />
<polyline points="148.28,2185.68 548.95,2315.91" fill="none" stroke="#000" stroke-width="2.2" stroke-linecap="square"/>
<polyline points="548.95,2315.91 762.53,2098.21" fill="none" stroke="#000" stroke-width="2.2" stroke-linecap="square"/>
<polyline points="762.53,2098.21 775.5,1803.42" fill="none" stroke="#000" stroke-width="2.2" stroke-linecap="square"/>
<polyline points="159.83,2195.16 167.47,2188.7" fill="none" stroke="#000" stroke-width="2.2" />
<text x="145.32" y="2260.42" font-size="39" text-anchor="middle" textLength="83.5" lengthAdjust="spacingAndGlyphs" stroke="#fff" stroke-width="0.55" >−600</text>
<polyline points="227.48,2217.2 235.01,2210.62" fill="none" stroke="#000" stroke-width="2.2" />
<text x="212.9" y="2282.97" font-size="39" text-anchor="middle" textLength="83.5" lengthAdjust="spacingAndGlyphs" stroke="#fff" stroke-width="0.55" >−500</text>
<polyline points="296.31,2239.63 303.74,2232.93" fill="none" stroke="#000" stroke-width="2.2" />
<text x="281.67" y="2305.9" font-size="39" text-anchor="middle" textLength="83.5" lengthAdjust="spacingAndGlyphs" stroke="#fff" stroke-width="0.55" >−400</text>
<polyline points="366.38,2262.46 373.69,2255.63" fill="none" stroke="#000" stroke-width="2.2" />
<text x="351.66" y="2329.23" font-size="39" text-anchor="middle" textLength="83.5" lengthAdjust="spacingAndGlyphs" stroke="#fff" stroke-width="0.55" >−300</text>
<polyline points="437.7,2285.69 444.89,2278.74" fill="none" stroke="#000" stroke-width="2.2" />
<text x="422.9" y="2352.97" font-size="39" text-anchor="middle" textLength="83.5" lengthAdjust="spacingAndGlyphs" stroke="#fff" stroke-width="0.55" >−200</text>
<polyline points="510.32,2309.35 517.38,2302.27" fill="none" stroke="#000" stroke-width="2.2" />
<text x="495.44" y="2377.12" font-size="39" text-anchor="middle" textLength="83.5" lengthAdjust="spacingAndGlyphs" stroke="#fff" stroke-width="0.55" >−100</text>
<polyline points="588.03,2285.77 576.51,2282.08" fill="none" stroke="#000" stroke-width="2.2" />
<text x="616" y="2346.85" font-size="39" text-anchor="middle" textLength="56" lengthAdjust="spacingAndGlyphs" stroke="#fff" stroke-width="0.55" >200</text>
<polyline points="646.35,2226.28 634.79,2222.7" fill="none" stroke="#000" stroke-width="2.2" />
<text x="672.85" y="2286.35" font-size="39" text-anchor="middle" textLength="56" lengthAdjust="spacingAndGlyphs" stroke="#fff" stroke-width="0.55" >400</text>
<polyline points="702.06,2169.45 690.48,2165.96" fill="none" stroke="#000" stroke-width="2.2" />
<text x="727.95" y="2228.7" font-size="39" text-anchor="middle" textLength="56" lengthAdjust="spacingAndGlyphs" stroke="#fff" stroke-width="0.55" >600</text>
<polyline points="755.35,2115.1 743.74,2111.7" fill="none" stroke="#000" stroke-width="2.2" />
<text x="780.3" y="2173.3" font-size="39" text-anchor="middle" textLength="56" lengthAdjust="spacingAndGlyphs" stroke="#fff" stroke-width="0.55" >800</text>
<polyline points="770.8,2082.66 759.18,2079.31" fill="none" stroke="#000" stroke-width="2.2" />
<text x="812.5" y="2100.65" font-size="39" text-anchor="middle" textLength="18.5" lengthAdjust="spacingAndGlyphs" stroke="#fff" stroke-width="0.55" >0</text>
<polyline points="776.38,1956.43 764.71,1953.25" fill="none" stroke="#000" stroke-width="2.2" />
<text x="818.9" y="1974.85" font-size="39" text-anchor="middle" textLength="18.5" lengthAdjust="spacingAndGlyphs" stroke="#fff" stroke-width="0.55" >6</text>
<polyline points="782.17,1825.49 770.45,1822.47" fill="none" stroke="#000" stroke-width="2.2" />
<text x="826.7" y="1844.25" font-size="39" text-anchor="middle" textLength="35.5" lengthAdjust="spacingAndGlyphs" stroke="#fff" stroke-width="0.55" >12</text>
<text x="300.2" y="2354.35" font-size="39" text-anchor="middle" textLength="26.4" lengthAdjust="spacingAndGlyphs" stroke="#fff" stroke-width="0.55" >X</text>
<text x="733.2" y="2287.45" font-size="39" text-anchor="middle" textLength="27.7" lengthAdjust="spacingAndGlyphs" stroke="#fff" stroke-width="0.55" >Y</text>
<text x="877.4" y="1949.35" font-size="39" text-anchor="middle" textLength="20.3" lengthAdjust="spacingAndGlyphs" stroke="#fff" stroke-width="0.55" >Z</text>
<circle cx="450.65" cy="1980.74" r="4.05" fill="#375a8c" fill-opacity="0.59" stroke="#375a8c" stroke-opacity="0.36" stroke-width="1"/>
<circle cx="485.11" cy="1982.75" r="4.05" fill="#481668" fill-opacity="0.6" stroke="#481668" stroke-opacity="0.36" stroke-width="1"/>
<circle cx="464.45" cy="1984.71" r="4.05" fill="#31688e" fill-opacity="0.6" stroke="#31688e" stroke-opacity="0.36" stroke-width="1"/>
<circle cx="443.74" cy="1986.67" r="4.05" fill="#31688e" fill-opacity="0.61" stroke="#31688e" stroke-opacity="0.36" stroke-width="1"/>
<circle cx="498.98" cy="1986.72" r="4.05" fill="#481668" fill-opacity="0.61" stroke="#481668" stroke-opacity="0.36" stroke-width="1"/>
<circle cx="554.21" cy="1986.77" r="4.05" fill="#481668" fill-opacity="0.61" stroke="#481668" stroke-opacity="0.36" stroke-width="1"/>
<circle cx="423.01" cy="1988.63" r="4.05" fill="#46327e" fill-opacity="0.61" stroke="#46327e" stroke-opacity="0.37" stroke-width="1"/>
<circle cx="478.29" cy="1988.68" r="4.05" fill="#375a8c" fill-opacity="0.61" stroke="#375a8c" stroke-opacity="0.37" stroke-width="1"/>
<circle cx="533.57" cy="1988.73" r="4.05" fill="#481668" fill-opacity="0.61" stroke="#481668" stroke-opacity="0.37" stroke-width="1"/>
<circle cx="402.24" cy="1990.6" r="4.05" fill="#481668" fill-opacity="0.61" stroke="#481668" stroke-opacity="0.37" stroke-width="1"/>
<circle cx="457.56" cy="1990.65" r="4.05" fill="#26828e" fill-opacity="0.61" stroke="#26828e" stroke-opacity="0.37" stroke-width="1"/>
<circle cx="512.89" cy="1990.7" r="4.05" fill="#481668" fill-opacity="0.61" stroke="#481668" stroke-opacity="0.37" stroke-width="1"/>
<circle cx="568.22" cy="1990.75" r="4.05" fill="#481668" fill-opacity="0.61" stroke="#481668" stroke-opacity="0.37" stroke-width="1"/>
<circle cx="381.43" cy="1992.57" r="4.05" fill="#481668" fill-opacity="0.62" stroke="#481668" stroke-opacity="0.37" stroke-width="1"/>
<circle cx="436.8" cy="1992.62" r="4.05" fill="#31688e" fill-opacity="0.62" stroke="#31688e" stroke-opacity="0.37" stroke-width="1"/>
<circle cx="492.18" cy="1992.67" r="4.05" fill="#31688e" fill-opacity="0.62" stroke="#31688e" stroke-opacity="0.37" stroke-width="1"/>
<circle cx="547.55" cy="1992.72" r="4.05" fill="#46327e" fill-opacity="0.62" stroke="#46327e" stroke-opacity="0.37" stroke-width="1"/>
<circle cx="602.93" cy="1992.78" r="4.05" fill="#481668" fill-opacity="0.62" stroke="#481668" stroke-opacity="0.37" stroke-width="1"/>
<circle cx="416" cy="1994.59" r="4.05" fill="#31688e" fill-opacity="0.62" stroke="#31688e" stroke-opacity="0.37" stroke-width="1"/>
<circle cx="471.43" cy="1994.65" r="4.05" fill="#31688e" fill-opacity="0.62" stroke="#31688e" stroke-opacity="0.37" stroke-width="1"/>
<circle cx="526.85" cy="1994.7" r="4.05" fill="#3f4788" fill-opacity="0.62" stroke="#3f4788" stroke-opacity="0.37" stroke-width="1"/>
<circle cx="582.28" cy="1994.75" r="4.05" fill="#481668" fill-opacity="0.62" stroke="#481668" stroke-opacity="0.37" stroke-width="1"/>
<circle cx="395.17" cy="1996.57" r="4.05" fill="#31688e" fill-opacity="0.62" stroke="#31688e" stroke-opacity="0.37" stroke-width="1"/>
<circle cx="450.64" cy="1996.62" r="4.05" fill="#1f9e89" fill-opacity="0.62" stroke="#1f9e89" stroke-opacity="0.37" stroke-width="1"/>
<circle cx="506.11" cy="1996.68" r="4.05" fill="#26828e" fill-opacity="0.62" stroke="#26828e" stroke-opacity="0.37" stroke-width="1"/>
<circle cx="561.59" cy="1996.73" r="4.05" fill="#46327e" fill-opacity="0.62" stroke="#46327e" stroke-opacity="0.37" stroke-width="1"/>
<circle cx="617.06" cy="1996.78" r="4.05" fill="#481668" fill-opacity="0.63" stroke="#481668" stroke-opacity="0.38" stroke-width="1"/>
<circle cx="374.31" cy="1998.55" r="4.05" fill="#3f4788" fill-opacity="0.63" stroke="#3f4788" stroke-opacity="0.38" stroke-width="1"/>
<circle cx="429.82" cy="1998.6" r="4.05" fill="#26828e" fill-opacity="0.63" stroke="#26828e" stroke-opacity="0.38" stroke-width="1"/>
<circle cx="485.34" cy="1998.66" r="4.05" fill="#26828e" fill-opacity="0.63" stroke="#26828e" stroke-opacity="0.38" stroke-width="1"/>
<circle cx="540.86" cy="1998.71" r="4.05" fill="#31688e" fill-opacity="0.63" stroke="#31688e" stroke-opacity="0.38" stroke-width="1"/>
<circle cx="596.38" cy="1998.76" r="4.05" fill="#481668" fill-opacity="0.63" stroke="#481668" stroke-opacity="0.38" stroke-width="1"/>
<circle cx="353.4" cy="2000.53" r="4.05" fill="#481668" fill-opacity="0.63" stroke="#481668" stroke-opacity="0.38" stroke-width="1"/>
<circle cx="408.97" cy="2000.59" r="4.05" fill="#1f9e89" fill-opacity="0.63" stroke="#1f9e89" stroke-opacity="0.38" stroke-width="1"/>
<circle cx="464.53" cy="2000.64" r="4.05" fill="#35b779" fill-opacity="0.63" stroke="#35b779" stroke-opacity="0.38" stroke-width="1"/>
<circle cx="520.1" cy="2000.69" r="4.05" fill="#26828e" fill-opacity="0.63" stroke="#26828e" stroke-opacity="0.38" stroke-width="1"/>
<circle cx="575.67" cy="2000.75" r="4.05" fill="#46327e" fill-opacity="0.63" stroke="#46327e" stroke-opacity="0.38" stroke-width="1"/>
<circle cx="388.07" cy="2002.57" r="4.05" fill="#26828e" fill-opacity="0.64" stroke="#26828e" stroke-opacity="0.38" stroke-width="1"/>
<circle cx="443.69" cy="2002.63" r="4.05" fill="#b5de2b" fill-opacity="0.64" stroke="#b5de2b" stroke-opacity="0.38" stroke-width="1"/>
<circle cx="499.3" cy="2002.68" r="4.05" fill="#26828e" fill-opacity="0.64" stroke="#26828e" stroke-opacity="0.38" stroke-width="1"/>
<circle cx="554.92" cy="2002.73" r="4.05" fill="#31688e" fill-opacity="0.64" stroke="#31688e" stroke-opacity="0.38" stroke-width="1"/>
<circle cx="610.54" cy="2002.79" r="4.05" fill="#481668" fill-opacity="0.64" stroke="#481668" stroke-opacity="0.38" stroke-width="1"/>
<circle cx="367.15" cy="2004.57" r="4.05" fill="#31688e" fill-opacity="0.64" stroke="#31688e" stroke-opacity="0.38" stroke-width="1"/>
<circle cx="422.81" cy="2004.62" r="4.05" fill="#35b779" fill-opacity="0.64" stroke="#35b779" stroke-opacity="0.38" stroke-width="1"/>
<circle cx="478.47" cy="2004.67" r="4.05" fill="#1f9e89" fill-opacity="0.64" stroke="#1f9e89" stroke-opacity="0.38" stroke-width="1"/>
<circle cx="534.13" cy="2004.72" r="4.05" fill="#26828e" fill-opacity="0.64" stroke="#26828e" stroke-opacity="0.38" stroke-width="1"/>
<circle cx="589.8" cy="2004.78" r="4.05" fill="#3f4788" fill-opacity="0.64" stroke="#3f4788" stroke-opacity="0.38" stroke-width="1"/>
<circle cx="346.18" cy="2006.56" r="4.05" fill="#481668" fill-opacity="0.64" stroke="#481668" stroke-opacity="0.39" stroke-width="1"/>
<circle cx="401.89" cy="2006.61" r="4.05" fill="#26828e" fill-opacity="0.64" stroke="#26828e" stroke-opacity="0.39" stroke-width="1"/>
<circle cx="457.6" cy="2006.67" r="4.05" fill="#fde725" fill-opacity="0.64" stroke="#fde725" stroke-opacity="0.39" stroke-width="1"/>
<circle cx="513.31" cy="2006.72" r="4.05" fill="#1f9e89" fill-opacity="0.64" stroke="#1f9e89" stroke-opacity="0.39" stroke-width="1"/>
<circle cx="380.94" cy="2008.61" r="4.05" fill="#1f9e89" fill-opacity="0.65" stroke="#1f9e89" stroke-opacity="0.39" stroke-width="1"/>
<circle cx="436.7" cy="2008.66" r="4.05" fill="#35b779" fill-opacity="0.65" stroke="#35b779" stroke-opacity="0.39" stroke-width="1"/>
<circle cx="492.45" cy="2008.72" r="4.05" fill="#26828e" fill-opacity="0.65" stroke="#26828e" stroke-opacity="0.39" stroke-width="1"/>
<circle cx="548.22" cy="2008.77" r="4.05" fill="#375a8c" fill-opacity="0.65" stroke="#375a8c" stroke-opacity="0.39" stroke-width="1"/>
<circle cx="603.98" cy="2008.82" r="4.05" fill="#481668" fill-opacity="0.65" stroke="#481668" stroke-opacity="0.39" stroke-width="1"/>
<circle cx="359.95" cy="2010.61" r="4.05" fill="#31688e" fill-opacity="0.65" stroke="#31688e" stroke-opacity="0.39" stroke-width="1"/>
<circle cx="415.76" cy="2010.66" r="4.05" fill="#1f9e89" fill-opacity="0.65" stroke="#1f9e89" stroke-opacity="0.39" stroke-width="1"/>
<circle cx="471.56" cy="2010.72" r="4.05" fill="#6ece58" fill-opacity="0.65" stroke="#6ece58" stroke-opacity="0.39" stroke-width="1"/>
<circle cx="527.37" cy="2010.77" r="4.05" fill="#26828e" fill-opacity="0.65" stroke="#26828e" stroke-opacity="0.39" stroke-width="1"/>
<circle cx="338.93" cy="2012.62" r="4.05" fill="#481668" fill-opacity="0.66" stroke="#481668" stroke-opacity="0.39" stroke-width="1"/>
<circle cx="394.78" cy="2012.67" r="4.05" fill="#35b779" fill-opacity="0.66" stroke="#35b779" stroke-opacity="0.39" stroke-width="1"/>
<circle cx="450.63" cy="2012.72" r="4.05" fill="#fde725" fill-opacity="0.66" stroke="#fde725" stroke-opacity="0.39" stroke-width="1"/>
<circle cx="506.49" cy="2012.77" r="4.05" fill="#26828e" fill-opacity="0.66" stroke="#26828e" stroke-opacity="0.39" stroke-width="1"/>
<circle cx="373.77" cy="2014.68" r="4.05" fill="#26828e" fill-opacity="0.66" stroke="#26828e" stroke-opacity="0.4" stroke-width="1"/>
<circle cx="429.67" cy="2014.73" r="4.05" fill="#1f9e89" fill-opacity="0.66" stroke="#1f9e89" stroke-opacity="0.4" stroke-width="1"/>
<circle cx="485.57" cy="2014.78" r="4.05" fill="#b5de2b" fill-opacity="0.66" stroke="#b5de2b" stroke-opacity="0.4" stroke-width="1"/>
<circle cx="597.39" cy="2014.89" r="4.05" fill="#481668" fill-opacity="0.66" stroke="#481668" stroke-opacity="0.4" stroke-width="1"/>
<circle cx="352.72" cy="2016.69" r="4.05" fill="#31688e" fill-opacity="0.66" stroke="#31688e" stroke-opacity="0.4" stroke-width="1"/>
<circle cx="408.67" cy="2016.74" r="4.05" fill="#26828e" fill-opacity="0.66" stroke="#26828e" stroke-opacity="0.4" stroke-width="1"/>
<circle cx="464.62" cy="2016.79" r="4.05" fill="#35b779" fill-opacity="0.66" stroke="#35b779" stroke-opacity="0.4" stroke-width="1"/>
<circle cx="520.57" cy="2016.85" r="4.05" fill="#1f9e89" fill-opacity="0.66" stroke="#1f9e89" stroke-opacity="0.4" stroke-width="1"/>
<circle cx="331.63" cy="2018.7" r="4.05" fill="#481668" fill-opacity="0.67" stroke="#481668" stroke-opacity="0.4" stroke-width="1"/>
<circle cx="387.63" cy="2018.76" r="4.05" fill="#35b779" fill-opacity="0.67" stroke="#35b779" stroke-opacity="0.4" stroke-width="1"/>
<circle cx="443.63" cy="2018.81" r="4.05" fill="#26828e" fill-opacity="0.67" stroke="#26828e" stroke-opacity="0.4" stroke-width="1"/>
<circle cx="555.63" cy="2018.92" r="4.05" fill="#26828e" fill-opacity="0.67" stroke="#26828e" stroke-opacity="0.4" stroke-width="1"/>
<circle cx="597.84" cy="2194.67" r="4.05" fill="#481668" fill-opacity="0.67" stroke="#481668" stroke-opacity="0.4" stroke-width="1"/>
<circle cx="366.56" cy="2020.77" r="4.05" fill="#26828e" fill-opacity="0.67" stroke="#26828e" stroke-opacity="0.4" stroke-width="1"/>
<circle cx="422.6" cy="2020.83" r="4.05" fill="#26828e" fill-opacity="0.67" stroke="#26828e" stroke-opacity="0.4" stroke-width="1"/>
<circle cx="478.65" cy="2020.88" r="4.05" fill="#26828e" fill-opacity="0.67" stroke="#26828e" stroke-opacity="0.4" stroke-width="1"/>
<circle cx="345.45" cy="2022.8" r="4.05" fill="#3f4788" fill-opacity="0.68" stroke="#3f4788" stroke-opacity="0.41" stroke-width="1"/>
<circle cx="401.54" cy="2022.85" r="4.05" fill="#1f9e89" fill-opacity="0.68" stroke="#1f9e89" stroke-opacity="0.41" stroke-width="1"/>
<circle cx="457.64" cy="2022.9" r="4.05" fill="#481668" fill-opacity="0.68" stroke="#481668" stroke-opacity="0.41" stroke-width="1"/>
<circle cx="513.74" cy="2022.96" r="4.05" fill="#6ece58" fill-opacity="0.68" stroke="#6ece58" stroke-opacity="0.41" stroke-width="1"/>
<circle cx="612.13" cy="2199.08" r="4.05" fill="#46327e" fill-opacity="0.68" stroke="#46327e" stroke-opacity="0.41" stroke-width="1"/>
<circle cx="380.44" cy="2024.88" r="4.05" fill="#1f9e89" fill-opacity="0.68" stroke="#1f9e89" stroke-opacity="0.41" stroke-width="1"/>
<circle cx="436.59" cy="2024.93" r="4.05" fill="#1f9e89" fill-opacity="0.68" stroke="#1f9e89" stroke-opacity="0.41" stroke-width="1"/>
<circle cx="492.74" cy="2024.98" r="4.05" fill="#26828e" fill-opacity="0.68" stroke="#26828e" stroke-opacity="0.41" stroke-width="1"/>
<circle cx="548.89" cy="2025.04" r="4.05" fill="#46327e" fill-opacity="0.68" stroke="#46327e" stroke-opacity="0.41" stroke-width="1"/>
<circle cx="359.31" cy="2026.9" r="4.05" fill="#375a8c" fill-opacity="0.68" stroke="#375a8c" stroke-opacity="0.41" stroke-width="1"/>
<circle cx="415.5" cy="2026.96" r="4.05" fill="#26828e" fill-opacity="0.68" stroke="#26828e" stroke-opacity="0.41" stroke-width="1"/>
<circle cx="471.7" cy="2027.01" r="4.05" fill="#31688e" fill-opacity="0.68" stroke="#31688e" stroke-opacity="0.41" stroke-width="1"/>
<circle cx="527.9" cy="2027.07" r="4.05" fill="#31688e" fill-opacity="0.68" stroke="#31688e" stroke-opacity="0.41" stroke-width="1"/>
<circle cx="338.14" cy="2028.94" r="4.05" fill="#481668" fill-opacity="0.69" stroke="#481668" stroke-opacity="0.41" stroke-width="1"/>
<circle cx="394.38" cy="2028.99" r="4.05" fill="#375a8c" fill-opacity="0.69" stroke="#375a8c" stroke-opacity="0.41" stroke-width="1"/>
<circle cx="450.62" cy="2029.05" r="4.05" fill="#481668" fill-opacity="0.69" stroke="#481668" stroke-opacity="0.41" stroke-width="1"/>
<circle cx="506.87" cy="2029.1" r="4.05" fill="#26828e" fill-opacity="0.69" stroke="#26828e" stroke-opacity="0.41" stroke-width="1"/>
<circle cx="605.51" cy="2205.68" r="4.05" fill="#3f4788" fill-opacity="0.69" stroke="#3f4788" stroke-opacity="0.41" stroke-width="1"/>
<circle cx="373.22" cy="2031.03" r="4.05" fill="#31688e" fill-opacity="0.69" stroke="#31688e" stroke-opacity="0.41" stroke-width="1"/>
<circle cx="429.51" cy="2031.08" r="4.05" fill="#3f4788" fill-opacity="0.69" stroke="#3f4788" stroke-opacity="0.41" stroke-width="1"/>
<circle cx="542.1" cy="2031.19" r="4.05" fill="#3f4788" fill-opacity="0.69" stroke="#3f4788" stroke-opacity="0.41" stroke-width="1"/>
<circle cx="584.53" cy="2207.87" r="4.05" fill="#46327e" fill-opacity="0.69" stroke="#46327e" stroke-opacity="0.42" stroke-width="1"/>
<circle cx="352.02" cy="2033.07" r="4.05" fill="#481668" fill-opacity="0.7" stroke="#481668" stroke-opacity="0.42" stroke-width="1"/>
<circle cx="464.71" cy="2033.18" r="4.05" fill="#481668" fill-opacity="0.7" stroke="#481668" stroke-opacity="0.42" stroke-width="1"/>
<circle cx="521.05" cy="2033.23" r="4.05" fill="#3f4788" fill-opacity="0.7" stroke="#3f4788" stroke-opacity="0.42" stroke-width="1"/>
<circle cx="387.18" cy="2035.16" r="4.05" fill="#46327e" fill-opacity="0.7" stroke="#46327e" stroke-opacity="0.42" stroke-width="1"/>
<circle cx="499.96" cy="2035.27" r="4.05" fill="#1f9e89" fill-opacity="0.7" stroke="#1f9e89" stroke-opacity="0.42" stroke-width="1"/>
<circle cx="598.86" cy="2212.32" r="4.05" fill="#481668" fill-opacity="0.7" stroke="#481668" stroke-opacity="0.42" stroke-width="1"/>
<circle cx="365.96" cy="2037.21" r="4.05" fill="#481668" fill-opacity="0.7" stroke="#481668" stroke-opacity="0.42" stroke-width="1"/>
<circle cx="422.4" cy="2037.27" r="4.05" fill="#31688e" fill-opacity="0.7" stroke="#31688e" stroke-opacity="0.42" stroke-width="1"/>
<circle cx="577.82" cy="2214.52" r="4.05" fill="#481668" fill-opacity="0.7" stroke="#481668" stroke-opacity="0.42" stroke-width="1"/>
<circle cx="528.11" cy="1862.27" r="4.05" fill="#481668" fill-opacity="0.71" stroke="#481668" stroke-opacity="0.42" stroke-width="1"/>
<circle cx="457.68" cy="2039.37" r="4.05" fill="#26828e" fill-opacity="0.71" stroke="#26828e" stroke-opacity="0.42" stroke-width="1"/>
<circle cx="514.17" cy="2039.43" r="4.05" fill="#46327e" fill-opacity="0.71" stroke="#46327e" stroke-opacity="0.42" stroke-width="1"/>
<circle cx="436.48" cy="2041.42" r="4.05" fill="#31688e" fill-opacity="0.71" stroke="#31688e" stroke-opacity="0.43" stroke-width="1"/>
<circle cx="493.02" cy="2041.48" r="4.05" fill="#3f4788" fill-opacity="0.71" stroke="#3f4788" stroke-opacity="0.43" stroke-width="1"/>
<circle cx="542.39" cy="1866.12" r="4.05" fill="#481668" fill-opacity="0.71" stroke="#481668" stroke-opacity="0.43" stroke-width="1"/>
<circle cx="415.24" cy="2043.48" r="4.05" fill="#3f4788" fill-opacity="0.72" stroke="#3f4788" stroke-opacity="0.43" stroke-width="1"/>
<circle cx="471.84" cy="2043.54" r="4.05" fill="#481668" fill-opacity="0.72" stroke="#481668" stroke-opacity="0.43" stroke-width="1"/>
<circle cx="464.6" cy="1867.98" r="4.05" fill="#481668" fill-opacity="0.72" stroke="#481668" stroke-opacity="0.43" stroke-width="1"/>
<circle cx="450.61" cy="2045.6" r="4.05" fill="#26828e" fill-opacity="0.72" stroke="#26828e" stroke-opacity="0.43" stroke-width="1"/>
<circle cx="507.25" cy="2045.65" r="4.05" fill="#3f4788" fill-opacity="0.72" stroke="#3f4788" stroke-opacity="0.43" stroke-width="1"/>
<circle cx="429.35" cy="2047.66" r="4.05" fill="#3f4788" fill-opacity="0.72" stroke="#3f4788" stroke-opacity="0.43" stroke-width="1"/>
<circle cx="542.74" cy="2047.77" r="4.05" fill="#481668" fill-opacity="0.72" stroke="#481668" stroke-opacity="0.43" stroke-width="1"/>
<circle cx="478.8" cy="1871.85" r="4.05" fill="#481668" fill-opacity="0.73" stroke="#481668" stroke-opacity="0.44" stroke-width="1"/>
<circle cx="408.06" cy="2049.73" r="4.05" fill="#481668" fill-opacity="0.73" stroke="#481668" stroke-opacity="0.44" stroke-width="1"/>
<circle cx="464.79" cy="2049.79" r="4.05" fill="#481668" fill-opacity="0.73" stroke="#481668" stroke-opacity="0.44" stroke-width="1"/>
<circle cx="457.54" cy="1873.77" r="4.05" fill="#481668" fill-opacity="0.73" stroke="#481668" stroke-opacity="0.44" stroke-width="1"/>
<circle cx="443.51" cy="2051.86" r="4.05" fill="#3f4788" fill-opacity="0.73" stroke="#3f4788" stroke-opacity="0.44" stroke-width="1"/>
<circle cx="500.3" cy="2051.91" r="4.05" fill="#481668" fill-opacity="0.73" stroke="#481668" stroke-opacity="0.44" stroke-width="1"/>
<circle cx="400.83" cy="2056.01" r="4.05" fill="#481668" fill-opacity="0.74" stroke="#481668" stroke-opacity="0.44" stroke-width="1"/>
</g>
<g>
<polygon points="1087.18,2185.68 1322.59,1988.13 1319.43,1702.77 1073.24,1883.68" fill="#fafafa" stroke="#fff" stroke-opacity="0.4" stroke-width="1.1" stroke-linejoin="round"/>
<polygon points="1322.59,1988.13 1701.43,2098.21 1714.4,1803.42 1319.43,1702.77" fill="#f4f4f4" stroke="#fff" stroke-opacity="0.4" stroke-width="1.1" stroke-linejoin="round"/>
<polygon points="1087.18,2185.68 1487.85,2315.91 1701.43,2098.21 1322.59,1988.13" fill="#f7f7f7" stroke="#fff" stroke-opacity="0.4" stroke-width="1.1" stroke-linejoin="round"/>
<g fill="#fff" fill-opacity="0.6"><circle cx="1256.77" cy="2014.62" r="5.6"/><circle cx="1264.09" cy="2008.56" r="5.6"/><circle cx="1271.37" cy="2002.52" r="5.6"/><circle cx="1278.61" cy="1996.52" r="5.6"/><circle cx="1285.81" cy="1990.55" r="5.6"/><circle cx="1292.98" cy="1984.6" r="5.6"/><circle cx="1263.2" cy="2024.82" r="5.6"/><circle cx="1270.53" cy="2018.7" r="5.6"/><circle cx="1277.83" cy="2012.62" r="5.6"/><circle cx="1285.08" cy="2006.56" r="5.6"/><circle cx="1292.3" cy="2000.53" r="5.6"/><circle cx="1299.49" cy="1994.54" r="5.6"/><circle cx="1306.63" cy="1988.58" r="5.6"/><circle cx="1313.74" cy="1982.65" r="5.6"/><circle cx="1320.81" cy="1976.74" r="5.6"/><circle cx="1327.85" cy="1970.87" r="5.6"/><circle cx="1334.85" cy="1965.03" r="5.6"/><circle cx="1277.04" cy="2028.94" r="5.6"/><circle cx="1284.35" cy="2022.8" r="5.6"/><circle cx="1291.62" cy="2016.69" r="5.6"/><circle cx="1298.85" cy="2010.61" r="5.6"/><circle cx="1306.05" cy="2004.57" r="5.6"/><circle cx="1313.21" cy="1998.55" r="5.6"/><circle cx="1320.33" cy="1992.57" r="5.6"/><circle cx="1327.41" cy="1986.61" r="5.6"/><circle cx="1334.46" cy="1980.69" r="5.6"/><circle cx="1341.48" cy="1974.8" r="5.6"/><circle cx="1348.45" cy="1968.94" r="5.6"/><circle cx="1355.39" cy="1963.11" r="5.6"/><circle cx="1290.92" cy="2033.07" r="5.6"/><circle cx="1298.21" cy="2026.9" r="5.6"/><circle cx="1305.46" cy="2020.77" r="5.6"/><circle cx="1312.67" cy="2014.68" r="5.6"/><circle cx="1319.84" cy="2008.61" r="5.6"/><circle cx="1326.97" cy="2002.57" r="5.6"/><circle cx="1334.07" cy="1996.57" r="5.6"/><circle cx="1341.14" cy="1990.6" r="5.6"/><circle cx="1348.16" cy="1984.65" r="5.6"/><circle cx="1355.15" cy="1978.74" r="5.6"/><circle cx="1362.11" cy="1972.86" r="5.6"/><circle cx="1369.02" cy="1967.01" r="5.6"/><circle cx="1304.86" cy="2037.21" r="5.6"/><circle cx="1312.12" cy="2031.03" r="5.6"/><circle cx="1319.34" cy="2024.88" r="5.6"/><circle cx="1326.53" cy="2018.76" r="5.6"/><circle cx="1333.68" cy="2012.67" r="5.6"/><circle cx="1340.79" cy="2006.61" r="5.6"/><circle cx="1347.87" cy="2000.59" r="5.6"/><circle cx="1354.9" cy="1994.59" r="5.6"/><circle cx="1361.91" cy="1988.63" r="5.6"/><circle cx="1368.87" cy="1982.7" r="5.6"/><circle cx="1375.8" cy="1976.8" r="5.6"/><circle cx="1382.7" cy="1970.92" r="5.6"/><circle cx="1389.56" cy="1965.08" r="5.6"/><circle cx="1318.84" cy="2041.37" r="5.6"/><circle cx="1326.08" cy="2035.16" r="5.6"/><circle cx="1333.28" cy="2028.99" r="5.6"/><circle cx="1340.44" cy="2022.85" r="5.6"/><circle cx="1347.57" cy="2016.74" r="5.6"/><circle cx="1354.66" cy="2010.66" r="5.6"/><circle cx="1361.71" cy="2004.62" r="5.6"/><circle cx="1368.72" cy="1998.6" r="5.6"/><circle cx="1375.7" cy="1992.62" r="5.6"/><circle cx="1382.64" cy="1986.67" r="5.6"/><circle cx="1389.55" cy="1980.74" r="5.6"/><circle cx="1396.42" cy="1974.85" r="5.6"/><circle cx="1403.26" cy="1968.99" r="5.6"/><circle cx="1410.06" cy="1963.16" r="5.6"/><circle cx="1347.26" cy="2033.12" r="5.6"/><circle cx="1354.4" cy="2026.96" r="5.6"/><circle cx="1361.5" cy="2020.83" r="5.6"/><circle cx="1368.57" cy="2014.73" r="5.6"/><circle cx="1375.6" cy="2008.66" r="5.6"/><circle cx="1382.59" cy="2002.63" r="5.6"/><circle cx="1389.54" cy="1996.62" r="5.6"/><circle cx="1396.46" cy="1990.65" r="5.6"/><circle cx="1403.35" cy="1984.71" r="5.6"/><circle cx="1410.19" cy="1978.79" r="5.6"/><circle cx="1417.01" cy="1972.91" r="5.6"/><circle cx="1423.79" cy="1967.06" r="5.6"/><circle cx="1375.49" cy="2024.93" r="5.6"/><circle cx="1382.53" cy="2018.81" r="5.6"/><circle cx="1389.53" cy="2012.72" r="5.6"/><circle cx="1396.5" cy="2006.67" r="5.6"/><circle cx="1403.43" cy="2000.64" r="5.6"/><circle cx="1410.33" cy="1994.65" r="5.6"/><circle cx="1417.19" cy="1988.68" r="5.6"/><circle cx="1424.01" cy="1982.75" r="5.6"/><circle cx="1430.8" cy="1976.85" r="5.6"/><circle cx="1437.56" cy="1970.98" r="5.6"/><circle cx="1444.28" cy="1965.13" r="5.6"/><circle cx="1396.54" cy="2022.9" r="5.6"/><circle cx="1403.52" cy="2016.79" r="5.6"/><circle cx="1410.46" cy="2010.72" r="5.6"/><circle cx="1417.37" cy="2004.67" r="5.6"/><circle cx="1424.24" cy="1998.66" r="5.6"/><circle cx="1431.08" cy="1992.67" r="5.6"/><circle cx="1437.88" cy="1986.72" r="5.6"/><circle cx="1444.64" cy="1980.8" r="5.6"/><circle cx="1451.37" cy="1974.9" r="5.6"/><circle cx="1458.07" cy="1969.04" r="5.6"/><circle cx="1417.55" cy="2020.88" r="5.6"/><circle cx="1424.47" cy="2014.78" r="5.6"/><circle cx="1431.35" cy="2008.72" r="5.6"/><circle cx="1438.2" cy="2002.68" r="5.6"/><circle cx="1445.01" cy="1996.68" r="5.6"/><circle cx="1451.79" cy="1990.7" r="5.6"/><circle cx="1458.53" cy="1984.76" r="5.6"/><circle cx="1465.24" cy="1978.85" r="5.6"/><circle cx="1471.91" cy="1972.96" r="5.6"/><circle cx="1478.55" cy="1967.11" r="5.6"/><circle cx="1445.39" cy="2012.77" r="5.6"/><circle cx="1452.21" cy="2006.72" r="5.6"/><circle cx="1459" cy="2000.69" r="5.6"/><circle cx="1465.75" cy="1994.7" r="5.6"/><circle cx="1472.47" cy="1988.73" r="5.6"/><circle cx="1479.15" cy="1982.8" r="5.6"/><circle cx="1485.8" cy="1976.9" r="5.6"/><circle cx="1492.42" cy="1971.03" r="5.6"/><circle cx="1473.03" cy="2004.72" r="5.6"/><circle cx="1479.76" cy="1998.71" r="5.6"/><circle cx="1486.45" cy="1992.72" r="5.6"/><circle cx="1493.11" cy="1986.77" r="5.6"/><circle cx="1499.74" cy="1980.85" r="5.6"/><circle cx="1506.33" cy="1974.96" r="5.6"/><circle cx="1520.29" cy="1978.9" r="5.6"/><circle cx="1526.82" cy="1973.02" r="5.6"/><circle cx="1544.41" cy="2205.68" r="5.6"/><circle cx="1551.03" cy="2199.08" r="5.6"/><circle cx="1557.61" cy="2192.51" r="5.6"/></g>
<g stroke-opacity="0.5">
<polyline points="1103.62,2191.02 1338.19,1992.66 1335.68,1709.07" fill="none" stroke="#fff" stroke-width="4.0" />
<polyline points="1171.2,2212.99 1402.28,2011.28 1402.39,1726.09" fill="none" stroke="#fff" stroke-width="4.0" />
<polyline points="1239.97,2235.34 1467.41,2030.21 1470.22,1743.39" fill="none" stroke="#fff" stroke-width="4.0" />
<polyline points="1309.96,2258.09 1533.61,2049.44 1539.2,1760.99" fill="none" stroke="#fff" stroke-width="4.0" />
<polyline points="1381.2,2281.25 1600.89,2069 1609.37,1778.89" fill="none" stroke="#fff" stroke-width="4.0" />
<polyline points="1453.74,2304.82 1669.29,2088.87 1680.75,1797.1" fill="none" stroke="#fff" stroke-width="4.0" />
<polyline points="1519.7,2283.45 1122.16,2156.33 1110.02,1858.99" fill="none" stroke="#fff" stroke-width="4.0" />
<polyline points="1577.99,2224.03 1186.3,2102.5 1177.18,1809.59" fill="none" stroke="#fff" stroke-width="4.0" />
<polyline points="1633.69,2167.26 1247.72,2050.96 1241.36,1762.37" fill="none" stroke="#fff" stroke-width="4.0" />
<polyline points="1686.96,2112.96 1306.58,2001.56 1302.77,1717.2" fill="none" stroke="#fff" stroke-width="4.0" />
<polyline points="1086.35,2167.56 1322.4,1970.95 1702.21,2080.5" fill="none" stroke="#fff" stroke-width="4.0" />
<polyline points="1080.38,2038.45 1321.05,1848.76 1707.76,1954.38" fill="none" stroke="#fff" stroke-width="4.0" />
<polyline points="1074.19,1904.32 1319.65,1722.21 1713.52,1823.54" fill="none" stroke="#fff" stroke-width="4.0" />
</g>
<polyline points="1103.62,2191.02 1338.19,1992.66 1335.68,1709.07" fill="none" stroke="#bababa" stroke-width="2.2" />
<polyline points="1171.2,2212.99 1402.28,2011.28 1402.39,1726.09" fill="none" stroke="#bababa" stroke-width="2.2" />
<polyline points="1239.97,2235.34 1467.41,2030.21 1470.22,1743.39" fill="none" stroke="#bababa" stroke-width="2.2" />
<polyline points="1309.96,2258.09 1533.61,2049.44 1539.2,1760.99" fill="none" stroke="#bababa" stroke-width="2.2" />
<polyline points="1381.2,2281.25 1600.89,2069 1609.37,1778.89" fill="none" stroke="#bababa" stroke-width="2.2" />
<polyline points="1453.74,2304.82 1669.29,2088.87 1680.75,1797.1" fill="none" stroke="#bababa" stroke-width="2.2" />
<polyline points="1519.7,2283.45 1122.16,2156.33 1110.02,1858.99" fill="none" stroke="#bababa" stroke-width="2.2" />
<polyline points="1577.99,2224.03 1186.3,2102.5 1177.18,1809.59" fill="none" stroke="#bababa" stroke-width="2.2" />
<polyline points="1633.69,2167.26 1247.72,2050.96 1241.36,1762.37" fill="none" stroke="#bababa" stroke-width="2.2" />
<polyline points="1686.96,2112.96 1306.58,2001.56 1302.77,1717.2" fill="none" stroke="#bababa" stroke-width="2.2" />
<polyline points="1086.35,2167.56 1322.4,1970.95 1702.21,2080.5" fill="none" stroke="#bababa" stroke-width="2.2" />
<polyline points="1080.38,2038.45 1321.05,1848.76 1707.76,1954.38" fill="none" stroke="#bababa" stroke-width="2.2" />
<polyline points="1074.19,1904.32 1319.65,1722.21 1713.52,1823.54" fill="none" stroke="#bababa" stroke-width="2.2" />
<polyline points="1087.18,2185.68 1487.85,2315.91" fill="none" stroke="#000" stroke-width="2.2" stroke-linecap="square"/>
<polyline points="1487.85,2315.91 1701.43,2098.21" fill="none" stroke="#000" stroke-width="2.2" stroke-linecap="square"/>
<polyline points="1701.43,2098.21 1714.4,1803.42" fill="none" stroke="#000" stroke-width="2.2" stroke-linecap="square"/>
<polyline points="1098.73,2195.16 1106.37,2188.7" fill="none" stroke="#000" stroke-width="2.2" />
<text x="1084.22" y="2260.42" font-size="39" text-anchor="middle" textLength="83.5" lengthAdjust="spacingAndGlyphs" stroke="#fff" stroke-width="0.55" >−600</text>
<polyline points="1166.38,2217.2 1173.91,2210.62" fill="none" stroke="#000" stroke-width="2.2" />
<text x="1151.8" y="2282.97" font-size="39" text-anchor="middle" textLength="83.5" lengthAdjust="spacingAndGlyphs" stroke="#fff" stroke-width="0.55" >−500</text>
<polyline points="1235.21,2239.63 1242.64,2232.93" fill="none" stroke="#000" stroke-width="2.2" />
<text x="1220.57" y="2305.9" font-size="39" text-anchor="middle" textLength="83.5" lengthAdjust="spacingAndGlyphs" stroke="#fff" stroke-width="0.55" >−400</text>
<polyline points="1305.28,2262.46 1312.59,2255.63" fill="none" stroke="#000" stroke-width="2.2" />
<text x="1290.56" y="2329.23" font-size="39" text-anchor="middle" textLength="83.5" lengthAdjust="spacingAndGlyphs" stroke="#fff" stroke-width="0.55" >−300</text>
<polyline points="1376.6,2285.69 1383.79,2278.74" fill="none" stroke="#000" stroke-width="2.2" />
<text x="1361.8" y="2352.97" font-size="39" text-anchor="middle" textLength="83.5" lengthAdjust="spacingAndGlyphs" stroke="#fff" stroke-width="0.55" >−200</text>
<polyline points="1449.22,2309.35 1456.28,2302.27" fill="none" stroke="#000" stroke-width="2.2" />
<text x="1434.34" y="2377.12" font-size="39" text-anchor="middle" textLength="83.5" lengthAdjust="spacingAndGlyphs" stroke="#fff" stroke-width="0.55" >−100</text>
<polyline points="1526.93,2285.77 1515.41,2282.08" fill="none" stroke="#000" stroke-width="2.2" />
<text x="1554.9" y="2346.85" font-size="39" text-anchor="middle" textLength="56" lengthAdjust="spacingAndGlyphs" stroke="#fff" stroke-width="0.55" >200</text>
<polyline points="1585.25,2226.28 1573.69,2222.7" fill="none" stroke="#000" stroke-width="2.2" />
<text x="1611.75" y="2286.35" font-size="39" text-anchor="middle" textLength="56" lengthAdjust="spacingAndGlyphs" stroke="#fff" stroke-width="0.55" >400</text>
<polyline points="1640.96,2169.45 1629.38,2165.96" fill="none" stroke="#000" stroke-width="2.2" />
<text x="1666.85" y="2228.7" font-size="39" text-anchor="middle" textLength="56" lengthAdjust="spacingAndGlyphs" stroke="#fff" stroke-width="0.55" >600</text>
<polyline points="1694.25,2115.1 1682.64,2111.7" fill="none" stroke="#000" stroke-width="2.2" />
<text x="1719.2" y="2173.3" font-size="39" text-anchor="middle" textLength="56" lengthAdjust="spacingAndGlyphs" stroke="#fff" stroke-width="0.55" >800</text>
<polyline points="1709.7,2082.66 1698.08,2079.31" fill="none" stroke="#000" stroke-width="2.2" />
<text x="1751.4" y="2100.65" font-size="39" text-anchor="middle" textLength="18.5" lengthAdjust="spacingAndGlyphs" stroke="#fff" stroke-width="0.55" >0</text>
<polyline points="1715.28,1956.43 1703.61,1953.25" fill="none" stroke="#000" stroke-width="2.2" />
<text x="1757.8" y="1974.85" font-size="39" text-anchor="middle" textLength="18.5" lengthAdjust="spacingAndGlyphs" stroke="#fff" stroke-width="0.55" >6</text>
<polyline points="1721.07,1825.49 1709.35,1822.47" fill="none" stroke="#000" stroke-width="2.2" />
<text x="1765.6" y="1844.25" font-size="39" text-anchor="middle" textLength="35.5" lengthAdjust="spacingAndGlyphs" stroke="#fff" stroke-width="0.55" >12</text>
<text x="1239.1" y="2354.35" font-size="39" text-anchor="middle" textLength="26.4" lengthAdjust="spacingAndGlyphs" stroke="#fff" stroke-width="0.55" >X</text>
<text x="1672.1" y="2287.45" font-size="39" text-anchor="middle" textLength="27.7" lengthAdjust="spacingAndGlyphs" stroke="#fff" stroke-width="0.55" >Y</text>
<text x="1816.3" y="1949.35" font-size="39" text-anchor="middle" textLength="20.3" lengthAdjust="spacingAndGlyphs" stroke="#fff" stroke-width="0.55" >Z</text>
<circle cx="1355.39" cy="1963.11" r="4.05" fill="#481668" fill-opacity="0.56" stroke="#481668" stroke-opacity="0.34" stroke-width="1"/>
<circle cx="1410.06" cy="1963.16" r="4.05" fill="#481668" fill-opacity="0.56" stroke="#481668" stroke-opacity="0.34" stroke-width="1"/>
<circle cx="1334.85" cy="1965.03" r="4.05" fill="#481668" fill-opacity="0.56" stroke="#481668" stroke-opacity="0.34" stroke-width="1"/>
<circle cx="1389.56" cy="1965.08" r="4.05" fill="#481668" fill-opacity="0.56" stroke="#481668" stroke-opacity="0.34" stroke-width="1"/>
<circle cx="1444.28" cy="1965.13" r="4.05" fill="#481668" fill-opacity="0.56" stroke="#481668" stroke-opacity="0.34" stroke-width="1"/>
<circle cx="1369.02" cy="1967.01" r="4.05" fill="#46327e" fill-opacity="0.57" stroke="#46327e" stroke-opacity="0.34" stroke-width="1"/>
<circle cx="1423.79" cy="1967.06" r="4.05" fill="#481668" fill-opacity="0.57" stroke="#481668" stroke-opacity="0.34" stroke-width="1"/>
<circle cx="1478.55" cy="1967.11" r="4.05" fill="#481668" fill-opacity="0.57" stroke="#481668" stroke-opacity="0.34" stroke-width="1"/>
<circle cx="1348.45" cy="1968.94" r="4.05" fill="#46327e" fill-opacity="0.57" stroke="#46327e" stroke-opacity="0.34" stroke-width="1"/>
<circle cx="1403.26" cy="1968.99" r="4.05" fill="#46327e" fill-opacity="0.57" stroke="#46327e" stroke-opacity="0.34" stroke-width="1"/>
<circle cx="1458.07" cy="1969.04" r="4.05" fill="#481668" fill-opacity="0.57" stroke="#481668" stroke-opacity="0.34" stroke-width="1"/>
<circle cx="1327.85" cy="1970.87" r="4.05" fill="#481668" fill-opacity="0.58" stroke="#481668" stroke-opacity="0.35" stroke-width="1"/>
<circle cx="1382.7" cy="1970.92" r="4.05" fill="#3f4788" fill-opacity="0.58" stroke="#3f4788" stroke-opacity="0.35" stroke-width="1"/>
<circle cx="1437.56" cy="1970.98" r="4.05" fill="#46327e" fill-opacity="0.58" stroke="#46327e" stroke-opacity="0.35" stroke-width="1"/>
<circle cx="1492.42" cy="1971.03" r="4.05" fill="#481668" fill-opacity="0.58" stroke="#481668" stroke-opacity="0.35" stroke-width="1"/>
<circle cx="1362.11" cy="1972.86" r="4.05" fill="#3f4788" fill-opacity="0.58" stroke="#3f4788" stroke-opacity="0.35" stroke-width="1"/>
<circle cx="1417.01" cy="1972.91" r="4.05" fill="#46327e" fill-opacity="0.58" stroke="#46327e" stroke-opacity="0.35" stroke-width="1"/>
<circle cx="1471.91" cy="1972.96" r="4.05" fill="#481668" fill-opacity="0.58" stroke="#481668" stroke-opacity="0.35" stroke-width="1"/>
<circle cx="1526.82" cy="1973.02" r="4.05" fill="#481668" fill-opacity="0.58" stroke="#481668" stroke-opacity="0.35" stroke-width="1"/>
<circle cx="1341.48" cy="1974.8" r="4.05" fill="#46327e" fill-opacity="0.58" stroke="#46327e" stroke-opacity="0.35" stroke-width="1"/>
<circle cx="1396.42" cy="1974.85" r="4.05" fill="#375a8c" fill-opacity="0.58" stroke="#375a8c" stroke-opacity="0.35" stroke-width="1"/>
<circle cx="1451.37" cy="1974.9" r="4.05" fill="#46327e" fill-opacity="0.58" stroke="#46327e" stroke-opacity="0.35" stroke-width="1"/>
<circle cx="1506.33" cy="1974.96" r="4.05" fill="#481668" fill-opacity="0.58" stroke="#481668" stroke-opacity="0.35" stroke-width="1"/>
<circle cx="1320.81" cy="1976.74" r="4.05" fill="#481668" fill-opacity="0.59" stroke="#481668" stroke-opacity="0.35" stroke-width="1"/>
<circle cx="1375.8" cy="1976.8" r="4.05" fill="#31688e" fill-opacity="0.59" stroke="#31688e" stroke-opacity="0.35" stroke-width="1"/>
<circle cx="1430.8" cy="1976.85" r="4.05" fill="#3f4788" fill-opacity="0.59" stroke="#3f4788" stroke-opacity="0.35" stroke-width="1"/>
<circle cx="1485.8" cy="1976.9" r="4.05" fill="#481668" fill-opacity="0.59" stroke="#481668" stroke-opacity="0.35" stroke-width="1"/>
<circle cx="1355.15" cy="1978.74" r="4.05" fill="#375a8c" fill-opacity="0.59" stroke="#375a8c" stroke-opacity="0.35" stroke-width="1"/>
<circle cx="1410.19" cy="1978.79" r="4.05" fill="#375a8c" fill-opacity="0.59" stroke="#375a8c" stroke-opacity="0.35" stroke-width="1"/>
<circle cx="1465.24" cy="1978.85" r="4.05" fill="#46327e" fill-opacity="0.59" stroke="#46327e" stroke-opacity="0.35" stroke-width="1"/>
<circle cx="1520.29" cy="1978.9" r="4.05" fill="#481668" fill-opacity="0.59" stroke="#481668" stroke-opacity="0.35" stroke-width="1"/>
<circle cx="1334.46" cy="1980.69" r="4.05" fill="#3f4788" fill-opacity="0.59" stroke="#3f4788" stroke-opacity="0.36" stroke-width="1"/>
<circle cx="1389.55" cy="1980.74" r="4.05" fill="#2b758e" fill-opacity="0.59" stroke="#2b758e" stroke-opacity="0.36" stroke-width="1"/>
<circle cx="1444.64" cy="1980.8" r="4.05" fill="#3f4788" fill-opacity="0.59" stroke="#3f4788" stroke-opacity="0.36" stroke-width="1"/>
<circle cx="1499.74" cy="1980.85" r="4.05" fill="#481668" fill-opacity="0.59" stroke="#481668" stroke-opacity="0.36" stroke-width="1"/>
<circle cx="1313.74" cy="1982.65" r="4.05" fill="#46327e" fill-opacity="0.6" stroke="#46327e" stroke-opacity="0.36" stroke-width="1"/>
<circle cx="1368.87" cy="1982.7" r="4.05" fill="#31688e" fill-opacity="0.6" stroke="#31688e" stroke-opacity="0.36" stroke-width="1"/>
<circle cx="1424.01" cy="1982.75" r="4.05" fill="#375a8c" fill-opacity="0.6" stroke="#375a8c" stroke-opacity="0.36" stroke-width="1"/>
<circle cx="1479.15" cy="1982.8" r="4.05" fill="#46327e" fill-opacity="0.6" stroke="#46327e" stroke-opacity="0.36" stroke-width="1"/>
<circle cx="1292.98" cy="1984.6" r="4.05" fill="#481668" fill-opacity="0.6" stroke="#481668" stroke-opacity="0.36" stroke-width="1"/>
<circle cx="1348.16" cy="1984.65" r="4.05" fill="#31688e" fill-opacity="0.6" stroke="#31688e" stroke-opacity="0.36" stroke-width="1"/>
<circle cx="1403.35" cy="1984.71" r="4.05" fill="#2b758e" fill-opacity="0.6" stroke="#2b758e" stroke-opacity="0.36" stroke-width="1"/>
<circle cx="1458.53" cy="1984.76" r="4.05" fill="#46327e" fill-opacity="0.6" stroke="#46327e" stroke-opacity="0.36" stroke-width="1"/>
<circle cx="1327.41" cy="1986.61" r="4.05" fill="#375a8c" fill-opacity="0.61" stroke="#375a8c" stroke-opacity="0.36" stroke-width="1"/>
<circle cx="1382.64" cy="1986.67" r="4.05" fill="#26828e" fill-opacity="0.61" stroke="#26828e" stroke-opacity="0.36" stroke-width="1"/>
<circle cx="1437.88" cy="1986.72" r="4.05" fill="#375a8c" fill-opacity="0.61" stroke="#375a8c" stroke-opacity="0.36" stroke-width="1"/>
<circle cx="1493.11" cy="1986.77" r="4.05" fill="#481668" fill-opacity="0.61" stroke="#481668" stroke-opacity="0.36" stroke-width="1"/>
<circle cx="1306.63" cy="1988.58" r="4.05" fill="#3f4788" fill-opacity="0.61" stroke="#3f4788" stroke-opacity="0.37" stroke-width="1"/>
<circle cx="1361.91" cy="1988.63" r="4.05" fill="#2b758e" fill-opacity="0.61" stroke="#2b758e" stroke-opacity="0.37" stroke-width="1"/>
<circle cx="1417.19" cy="1988.68" r="4.05" fill="#2b758e" fill-opacity="0.61" stroke="#2b758e" stroke-opacity="0.37" stroke-width="1"/>
<circle cx="1472.47" cy="1988.73" r="4.05" fill="#46327e" fill-opacity="0.61" stroke="#46327e" stroke-opacity="0.37" stroke-width="1"/>
<circle cx="1285.81" cy="1990.55" r="4.05" fill="#481668" fill-opacity="0.61" stroke="#481668" stroke-opacity="0.37" stroke-width="1"/>
<circle cx="1341.14" cy="1990.6" r="4.05" fill="#2b758e" fill-opacity="0.61" stroke="#2b758e" stroke-opacity="0.37" stroke-width="1"/>
<circle cx="1396.46" cy="1990.65" r="4.05" fill="#21918c" fill-opacity="0.61" stroke="#21918c" stroke-opacity="0.37" stroke-width="1"/>
<circle cx="1451.79" cy="1990.7" r="4.05" fill="#3f4788" fill-opacity="0.61" stroke="#3f4788" stroke-opacity="0.37" stroke-width="1"/>
<circle cx="1320.33" cy="1992.57" r="4.05" fill="#31688e" fill-opacity="0.62" stroke="#31688e" stroke-opacity="0.37" stroke-width="1"/>
<circle cx="1375.7" cy="1992.62" r="4.05" fill="#21918c" fill-opacity="0.62" stroke="#21918c" stroke-opacity="0.37" stroke-width="1"/>
<circle cx="1431.08" cy="1992.67" r="4.05" fill="#31688e" fill-opacity="0.62" stroke="#31688e" stroke-opacity="0.37" stroke-width="1"/>
<circle cx="1486.45" cy="1992.72" r="4.05" fill="#481668" fill-opacity="0.62" stroke="#481668" stroke-opacity="0.37" stroke-width="1"/>
<circle cx="1299.49" cy="1994.54" r="4.05" fill="#31688e" fill-opacity="0.62" stroke="#31688e" stroke-opacity="0.37" stroke-width="1"/>
<circle cx="1354.9" cy="1994.59" r="4.05" fill="#26828e" fill-opacity="0.62" stroke="#26828e" stroke-opacity="0.37" stroke-width="1"/>
<circle cx="1410.33" cy="1994.65" r="4.05" fill="#26828e" fill-opacity="0.62" stroke="#26828e" stroke-opacity="0.37" stroke-width="1"/>
<circle cx="1465.75" cy="1994.7" r="4.05" fill="#3f4788" fill-opacity="0.62" stroke="#3f4788" stroke-opacity="0.37" stroke-width="1"/>
<circle cx="1278.61" cy="1996.52" r="4.05" fill="#46327e" fill-opacity="0.62" stroke="#46327e" stroke-opacity="0.37" stroke-width="1"/>
<circle cx="1334.07" cy="1996.57" r="4.05" fill="#26828e" fill-opacity="0.62" stroke="#26828e" stroke-opacity="0.37" stroke-width="1"/>
<circle cx="1389.54" cy="1996.62" r="4.05" fill="#25ab82" fill-opacity="0.62" stroke="#25ab82" stroke-opacity="0.37" stroke-width="1"/>
<circle cx="1445.01" cy="1996.68" r="4.05" fill="#375a8c" fill-opacity="0.62" stroke="#375a8c" stroke-opacity="0.37" stroke-width="1"/>
<circle cx="1313.21" cy="1998.55" r="4.05" fill="#26828e" fill-opacity="0.63" stroke="#26828e" stroke-opacity="0.38" stroke-width="1"/>
<circle cx="1368.72" cy="1998.6" r="4.05" fill="#1f9e89" fill-opacity="0.63" stroke="#1f9e89" stroke-opacity="0.38" stroke-width="1"/>
<circle cx="1424.24" cy="1998.66" r="4.05" fill="#2b758e" fill-opacity="0.63" stroke="#2b758e" stroke-opacity="0.38" stroke-width="1"/>
<circle cx="1479.76" cy="1998.71" r="4.05" fill="#481668" fill-opacity="0.63" stroke="#481668" stroke-opacity="0.38" stroke-width="1"/>
<circle cx="1292.3" cy="2000.53" r="4.05" fill="#31688e" fill-opacity="0.63" stroke="#31688e" stroke-opacity="0.38" stroke-width="1"/>
<circle cx="1347.87" cy="2000.59" r="4.05" fill="#21918c" fill-opacity="0.63" stroke="#21918c" stroke-opacity="0.38" stroke-width="1"/>
<circle cx="1403.43" cy="2000.64" r="4.05" fill="#1f9e89" fill-opacity="0.63" stroke="#1f9e89" stroke-opacity="0.38" stroke-width="1"/>
<circle cx="1459" cy="2000.69" r="4.05" fill="#46327e" fill-opacity="0.63" stroke="#46327e" stroke-opacity="0.38" stroke-width="1"/>
<circle cx="1271.37" cy="2002.52" r="4.05" fill="#46327e" fill-opacity="0.64" stroke="#46327e" stroke-opacity="0.38" stroke-width="1"/>
<circle cx="1326.97" cy="2002.57" r="4.05" fill="#1f9e89" fill-opacity="0.64" stroke="#1f9e89" stroke-opacity="0.38" stroke-width="1"/>
<circle cx="1382.59" cy="2002.63" r="4.05" fill="#1f9e89" fill-opacity="0.64" stroke="#1f9e89" stroke-opacity="0.38" stroke-width="1"/>
<circle cx="1438.2" cy="2002.68" r="4.05" fill="#375a8c" fill-opacity="0.64" stroke="#375a8c" stroke-opacity="0.38" stroke-width="1"/>
<circle cx="1306.05" cy="2004.57" r="4.05" fill="#26828e" fill-opacity="0.64" stroke="#26828e" stroke-opacity="0.38" stroke-width="1"/>
<circle cx="1361.71" cy="2004.62" r="4.05" fill="#1f9e89" fill-opacity="0.64" stroke="#1f9e89" stroke-opacity="0.38" stroke-width="1"/>
<circle cx="1417.37" cy="2004.67" r="4.05" fill="#2b758e" fill-opacity="0.64" stroke="#2b758e" stroke-opacity="0.38" stroke-width="1"/>
<circle cx="1473.03" cy="2004.72" r="4.05" fill="#481668" fill-opacity="0.64" stroke="#481668" stroke-opacity="0.38" stroke-width="1"/>
<circle cx="1285.08" cy="2006.56" r="4.05" fill="#31688e" fill-opacity="0.64" stroke="#31688e" stroke-opacity="0.39" stroke-width="1"/>
<circle cx="1340.79" cy="2006.61" r="4.05" fill="#1f9e89" fill-opacity="0.64" stroke="#1f9e89" stroke-opacity="0.39" stroke-width="1"/>
<circle cx="1396.5" cy="2006.67" r="4.05" fill="#21918c" fill-opacity="0.64" stroke="#21918c" stroke-opacity="0.39" stroke-width="1"/>
<circle cx="1452.21" cy="2006.72" r="4.05" fill="#481668" fill-opacity="0.64" stroke="#481668" stroke-opacity="0.39" stroke-width="1"/>
<circle cx="1264.09" cy="2008.56" r="4.05" fill="#46327e" fill-opacity="0.65" stroke="#46327e" stroke-opacity="0.39" stroke-width="1"/>
<circle cx="1319.84" cy="2008.61" r="4.05" fill="#1f9e89" fill-opacity="0.65" stroke="#1f9e89" stroke-opacity="0.39" stroke-width="1"/>
<circle cx="1375.6" cy="2008.66" r="4.05" fill="#21918c" fill-opacity="0.65" stroke="#21918c" stroke-opacity="0.39" stroke-width="1"/>
<circle cx="1431.35" cy="2008.72" r="4.05" fill="#3f4788" fill-opacity="0.65" stroke="#3f4788" stroke-opacity="0.39" stroke-width="1"/>
<circle cx="1298.85" cy="2010.61" r="4.05" fill="#26828e" fill-opacity="0.65" stroke="#26828e" stroke-opacity="0.39" stroke-width="1"/>
<circle cx="1354.66" cy="2010.66" r="4.05" fill="#1f9e89" fill-opacity="0.65" stroke="#1f9e89" stroke-opacity="0.39" stroke-width="1"/>
<circle cx="1410.46" cy="2010.72" r="4.05" fill="#31688e" fill-opacity="0.65" stroke="#31688e" stroke-opacity="0.39" stroke-width="1"/>
<circle cx="1277.83" cy="2012.62" r="4.05" fill="#375a8c" fill-opacity="0.66" stroke="#375a8c" stroke-opacity="0.39" stroke-width="1"/>
<circle cx="1333.68" cy="2012.67" r="4.05" fill="#25ab82" fill-opacity="0.66" stroke="#25ab82" stroke-opacity="0.39" stroke-width="1"/>
<circle cx="1389.53" cy="2012.72" r="4.05" fill="#2b758e" fill-opacity="0.66" stroke="#2b758e" stroke-opacity="0.39" stroke-width="1"/>
<circle cx="1445.39" cy="2012.77" r="4.05" fill="#481668" fill-opacity="0.66" stroke="#481668" stroke-opacity="0.39" stroke-width="1"/>
<circle cx="1256.77" cy="2014.62" r="4.05" fill="#481668" fill-opacity="0.66" stroke="#481668" stroke-opacity="0.4" stroke-width="1"/>
<circle cx="1312.67" cy="2014.68" r="4.05" fill="#21918c" fill-opacity="0.66" stroke="#21918c" stroke-opacity="0.4" stroke-width="1"/>
<circle cx="1368.57" cy="2014.73" r="4.05" fill="#2b758e" fill-opacity="0.66" stroke="#2b758e" stroke-opacity="0.4" stroke-width="1"/>
<circle cx="1424.47" cy="2014.78" r="4.05" fill="#46327e" fill-opacity="0.66" stroke="#46327e" stroke-opacity="0.4" stroke-width="1"/>
<circle cx="1291.62" cy="2016.69" r="4.05" fill="#31688e" fill-opacity="0.66" stroke="#31688e" stroke-opacity="0.4" stroke-width="1"/>
<circle cx="1347.57" cy="2016.74" r="4.05" fill="#26828e" fill-opacity="0.66" stroke="#26828e" stroke-opacity="0.4" stroke-width="1"/>
<circle cx="1403.52" cy="2016.79" r="4.05" fill="#3f4788" fill-opacity="0.66" stroke="#3f4788" stroke-opacity="0.4" stroke-width="1"/>
<circle cx="1557.61" cy="2192.51" r="4.05" fill="#481668" fill-opacity="0.67" stroke="#481668" stroke-opacity="0.4" stroke-width="1"/>
<circle cx="1270.53" cy="2018.7" r="4.05" fill="#3f4788" fill-opacity="0.67" stroke="#3f4788" stroke-opacity="0.4" stroke-width="1"/>
<circle cx="1326.53" cy="2018.76" r="4.05" fill="#1f9e89" fill-opacity="0.67" stroke="#1f9e89" stroke-opacity="0.4" stroke-width="1"/>
<circle cx="1382.53" cy="2018.81" r="4.05" fill="#3f4788" fill-opacity="0.67" stroke="#3f4788" stroke-opacity="0.4" stroke-width="1"/>
<circle cx="1305.46" cy="2020.77" r="4.05" fill="#31688e" fill-opacity="0.67" stroke="#31688e" stroke-opacity="0.4" stroke-width="1"/>
<circle cx="1361.5" cy="2020.83" r="4.05" fill="#3f4788" fill-opacity="0.67" stroke="#3f4788" stroke-opacity="0.4" stroke-width="1"/>
<circle cx="1417.55" cy="2020.88" r="4.05" fill="#481668" fill-opacity="0.67" stroke="#481668" stroke-opacity="0.4" stroke-width="1"/>
<circle cx="1284.35" cy="2022.8" r="4.05" fill="#375a8c" fill-opacity="0.68" stroke="#375a8c" stroke-opacity="0.41" stroke-width="1"/>
<circle cx="1340.44" cy="2022.85" r="4.05" fill="#2b758e" fill-opacity="0.68" stroke="#2b758e" stroke-opacity="0.41" stroke-width="1"/>
<circle cx="1396.54" cy="2022.9" r="4.05" fill="#481668" fill-opacity="0.68" stroke="#481668" stroke-opacity="0.41" stroke-width="1"/>
<circle cx="1551.03" cy="2199.08" r="4.05" fill="#46327e" fill-opacity="0.68" stroke="#46327e" stroke-opacity="0.41" stroke-width="1"/>
<circle cx="1263.2" cy="2024.82" r="4.05" fill="#481668" fill-opacity="0.68" stroke="#481668" stroke-opacity="0.41" stroke-width="1"/>
<circle cx="1319.34" cy="2024.88" r="4.05" fill="#2b758e" fill-opacity="0.68" stroke="#2b758e" stroke-opacity="0.41" stroke-width="1"/>
<circle cx="1375.49" cy="2024.93" r="4.05" fill="#481668" fill-opacity="0.68" stroke="#481668" stroke-opacity="0.41" stroke-width="1"/>
<circle cx="1298.21" cy="2026.9" r="4.05" fill="#375a8c" fill-opacity="0.68" stroke="#375a8c" stroke-opacity="0.41" stroke-width="1"/>
<circle cx="1354.4" cy="2026.96" r="4.05" fill="#46327e" fill-opacity="0.68" stroke="#46327e" stroke-opacity="0.41" stroke-width="1"/>
<circle cx="1277.04" cy="2028.94" r="4.05" fill="#481668" fill-opacity="0.69" stroke="#481668" stroke-opacity="0.41" stroke-width="1"/>
<circle cx="1333.28" cy="2028.99" r="4.05" fill="#375a8c" fill-opacity="0.69" stroke="#375a8c" stroke-opacity="0.41" stroke-width="1"/>
<circle cx="1544.41" cy="2205.68" r="4.05" fill="#481668" fill-opacity="0.69" stroke="#481668" stroke-opacity="0.41" stroke-width="1"/>
<circle cx="1312.12" cy="2031.03" r="4.05" fill="#375a8c" fill-opacity="0.69" stroke="#375a8c" stroke-opacity="0.41" stroke-width="1"/>
<circle cx="1290.92" cy="2033.07" r="4.05" fill="#481668" fill-opacity="0.7" stroke="#481668" stroke-opacity="0.42" stroke-width="1"/>
<circle cx="1347.26" cy="2033.12" r="4.05" fill="#481668" fill-opacity="0.7" stroke="#481668" stroke-opacity="0.42" stroke-width="1"/>
<circle cx="1326.08" cy="2035.16" r="4.05" fill="#46327e" fill-opacity="0.7" stroke="#46327e" stroke-opacity="0.42" stroke-width="1"/>
<circle cx="1304.86" cy="2037.21" r="4.05" fill="#481668" fill-opacity="0.7" stroke="#481668" stroke-opacity="0.42" stroke-width="1"/>
<circle cx="1318.84" cy="2041.37" r="4.05" fill="#481668" fill-opacity="0.71" stroke="#481668" stroke-opacity="0.43" stroke-width="1"/>
</g>
<rect x="177" y="803.2" width="1487.4" height="49.8" fill="url(#vir)" stroke="#000" stroke-width="2"/>
<polyline points="177,853 177,861.8" fill="none" stroke="#000" stroke-width="2.0" />
<text x="177" y="898.2" font-size="39" text-anchor="middle" textLength="18.5" lengthAdjust="spacingAndGlyphs" stroke="#fff" stroke-width="0.55" >0</text>
<polyline points="342.27,853 342.27,861.8" fill="none" stroke="#000" stroke-width="2.0" />
<text x="342.27" y="898.2" font-size="39" text-anchor="middle" textLength="18.5" lengthAdjust="spacingAndGlyphs" stroke="#fff" stroke-width="0.55" >1</text>
<polyline points="507.54,853 507.54,861.8" fill="none" stroke="#000" stroke-width="2.0" />
<text x="507.54" y="898.2" font-size="39" text-anchor="middle" textLength="18.5" lengthAdjust="spacingAndGlyphs" stroke="#fff" stroke-width="0.55" >2</text>
<polyline points="672.81,853 672.81,861.8" fill="none" stroke="#000" stroke-width="2.0" />
<text x="672.81" y="898.2" font-size="39" text-anchor="middle" textLength="18.5" lengthAdjust="spacingAndGlyphs" stroke="#fff" stroke-width="0.55" >3</text>
<polyline points="838.08,853 838.08,861.8" fill="none" stroke="#000" stroke-width="2.0" />
<text x="838.08" y="898.2" font-size="39" text-anchor="middle" textLength="18.5" lengthAdjust="spacingAndGlyphs" stroke="#fff" stroke-width="0.55" >4</text>
<polyline points="1003.35,853 1003.35,861.8" fill="none" stroke="#000" stroke-width="2.0" />
<text x="1003.35" y="898.2" font-size="39" text-anchor="middle" textLength="18.5" lengthAdjust="spacingAndGlyphs" stroke="#fff" stroke-width="0.55" >5</text>
<polyline points="1168.62,853 1168.62,861.8" fill="none" stroke="#000" stroke-width="2.0" />
<text x="1168.62" y="898.2" font-size="39" text-anchor="middle" textLength="18.5" lengthAdjust="spacingAndGlyphs" stroke="#fff" stroke-width="0.55" >6</text>
<polyline points="1333.89,853 1333.89,861.8" fill="none" stroke="#000" stroke-width="2.0" />
<text x="1333.89" y="898.2" font-size="39" text-anchor="middle" textLength="18.5" lengthAdjust="spacingAndGlyphs" stroke="#fff" stroke-width="0.55" >7</text>
<polyline points="1499.16,853 1499.16,861.8" fill="none" stroke="#000" stroke-width="2.0" />
<text x="1499.16" y="898.2" font-size="39" text-anchor="middle" textLength="18.5" lengthAdjust="spacingAndGlyphs" stroke="#fff" stroke-width="0.55" >8</text>
<polyline points="1664.43,853 1664.43,861.8" fill="none" stroke="#000" stroke-width="2.0" />
<text x="1664.43" y="898.2" font-size="39" text-anchor="middle" textLength="18.5" lengthAdjust="spacingAndGlyphs" stroke="#fff" stroke-width="0.55" >9</text>
<text x="1684.5" y="839.8" font-size="39" text-anchor="start" textLength="108.5" lengthAdjust="spacingAndGlyphs" stroke="#fff" stroke-width="0.55" >[mg/L]</text>
<rect x="177" y="2401.6" width="1487.4" height="49" fill="url(#vir)" stroke="#000" stroke-width="2"/>
<polyline points="177,2450.6 177,2459.4" fill="none" stroke="#000" stroke-width="2.0" />
<text x="177" y="2495.8" font-size="39" text-anchor="middle" textLength="66" lengthAdjust="spacingAndGlyphs" stroke="#fff" stroke-width="0.55" >0.00</text>
<polyline points="362.93,2450.6 362.93,2459.4" fill="none" stroke="#000" stroke-width="2.0" />
<text x="362.93" y="2495.8" font-size="39" text-anchor="middle" textLength="66" lengthAdjust="spacingAndGlyphs" stroke="#fff" stroke-width="0.55" >0.25</text>
<polyline points="548.86,2450.6 548.86,2459.4" fill="none" stroke="#000" stroke-width="2.0" />
<text x="548.86" y="2495.8" font-size="39" text-anchor="middle" textLength="66" lengthAdjust="spacingAndGlyphs" stroke="#fff" stroke-width="0.55" >0.50</text>
<polyline points="734.79,2450.6 734.79,2459.4" fill="none" stroke="#000" stroke-width="2.0" />
<text x="734.79" y="2495.8" font-size="39" text-anchor="middle" textLength="66" lengthAdjust="spacingAndGlyphs" stroke="#fff" stroke-width="0.55" >0.75</text>
<polyline points="920.72,2450.6 920.72,2459.4" fill="none" stroke="#000" stroke-width="2.0" />
<text x="920.72" y="2495.8" font-size="39" text-anchor="middle" textLength="66" lengthAdjust="spacingAndGlyphs" stroke="#fff" stroke-width="0.55" >1.00</text>
<polyline points="1106.65,2450.6 1106.65,2459.4" fill="none" stroke="#000" stroke-width="2.0" />
<text x="1106.65" y="2495.8" font-size="39" text-anchor="middle" textLength="66" lengthAdjust="spacingAndGlyphs" stroke="#fff" stroke-width="0.55" >1.25</text>
<polyline points="1292.58,2450.6 1292.58,2459.4" fill="none" stroke="#000" stroke-width="2.0" />
<text x="1292.58" y="2495.8" font-size="39" text-anchor="middle" textLength="66" lengthAdjust="spacingAndGlyphs" stroke="#fff" stroke-width="0.55" >1.50</text>
<polyline points="1478.51,2450.6 1478.51,2459.4" fill="none" stroke="#000" stroke-width="2.0" />
<text x="1478.51" y="2495.8" font-size="39" text-anchor="middle" textLength="66" lengthAdjust="spacingAndGlyphs" stroke="#fff" stroke-width="0.55" >1.75</text>
<polyline points="1664.44,2450.6 1664.44,2459.4" fill="none" stroke="#000" stroke-width="2.0" />
<text x="1664.44" y="2495.8" font-size="39" text-anchor="middle" textLength="66" lengthAdjust="spacingAndGlyphs" stroke="#fff" stroke-width="0.55" >2.00</text>
<text x="1684.5" y="2437.4" font-size="39" text-anchor="start" textLength="108.5" lengthAdjust="spacingAndGlyphs" stroke="#fff" stroke-width="0.55" >[mg/L]</text>
</svg>
</body></html>
